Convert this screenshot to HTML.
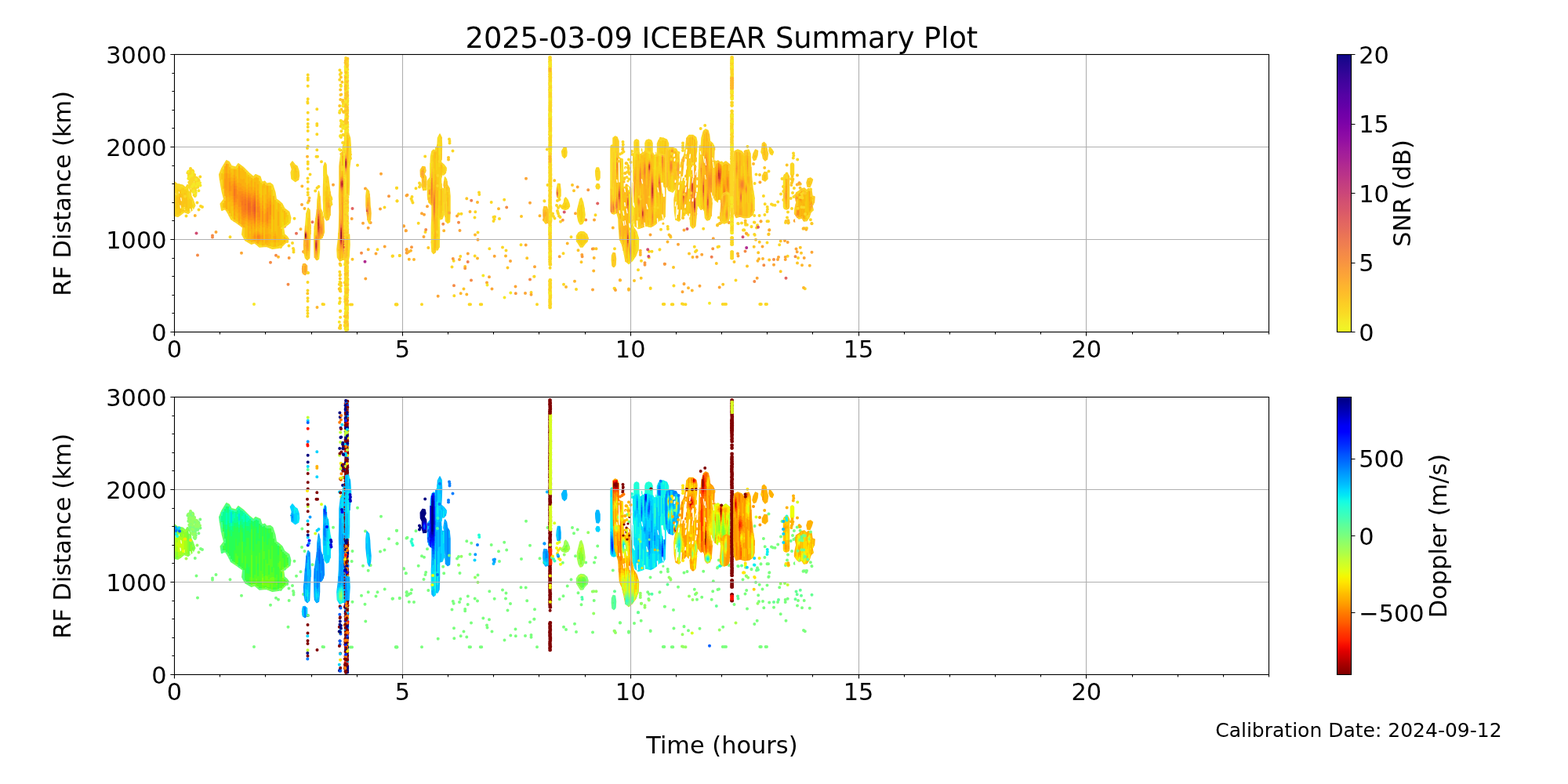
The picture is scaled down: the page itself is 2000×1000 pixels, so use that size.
<!DOCTYPE html><html><head><meta charset="utf-8"><title>2025-03-09 ICEBEAR Summary Plot</title>
<style>html,body{margin:0;padding:0;background:#fff;width:2000px;height:1000px;overflow:hidden}svg{display:block}text{font-family:'DejaVu Sans','Liberation Sans',sans-serif;fill:#000}</style></head><body>
<svg width="2000" height="1000" viewBox="0 0 2000 1000">
<defs><linearGradient id="gp" x1="0" y1="1" x2="0" y2="0"><stop offset="0.0000" stop-color="#f0f921"/><stop offset="0.0208" stop-color="#f3f027"/><stop offset="0.0417" stop-color="#f6e826"/><stop offset="0.0625" stop-color="#f9dd25"/><stop offset="0.0833" stop-color="#fbd524"/><stop offset="0.1042" stop-color="#fccd25"/><stop offset="0.1250" stop-color="#fdc328"/><stop offset="0.1458" stop-color="#febb2b"/><stop offset="0.1667" stop-color="#fdb42f"/><stop offset="0.1875" stop-color="#fdab33"/><stop offset="0.2083" stop-color="#fca338"/><stop offset="0.2292" stop-color="#fa9c3c"/><stop offset="0.2500" stop-color="#f89441"/><stop offset="0.2708" stop-color="#f68d45"/><stop offset="0.2917" stop-color="#f3874a"/><stop offset="0.3125" stop-color="#f07f4f"/><stop offset="0.3333" stop-color="#ed7953"/><stop offset="0.3542" stop-color="#e97257"/><stop offset="0.3750" stop-color="#e56b5d"/><stop offset="0.3958" stop-color="#e26561"/><stop offset="0.4167" stop-color="#de5f65"/><stop offset="0.4375" stop-color="#d9586a"/><stop offset="0.4583" stop-color="#d5536f"/><stop offset="0.4792" stop-color="#d04d73"/><stop offset="0.5000" stop-color="#cb4679"/><stop offset="0.5208" stop-color="#c6417d"/><stop offset="0.5417" stop-color="#c13b82"/><stop offset="0.5625" stop-color="#bb3488"/><stop offset="0.5833" stop-color="#b52f8c"/><stop offset="0.6042" stop-color="#b02991"/><stop offset="0.6250" stop-color="#a82296"/><stop offset="0.6458" stop-color="#a21d9a"/><stop offset="0.6667" stop-color="#9c179e"/><stop offset="0.6875" stop-color="#9410a2"/><stop offset="0.7083" stop-color="#8d0ba5"/><stop offset="0.7292" stop-color="#8606a6"/><stop offset="0.7500" stop-color="#7d03a8"/><stop offset="0.7708" stop-color="#7501a8"/><stop offset="0.7917" stop-color="#6e00a8"/><stop offset="0.8125" stop-color="#6400a7"/><stop offset="0.8333" stop-color="#5c01a6"/><stop offset="0.8542" stop-color="#5502a4"/><stop offset="0.8750" stop-color="#4b03a1"/><stop offset="0.8958" stop-color="#43039e"/><stop offset="0.9167" stop-color="#3a049a"/><stop offset="0.9375" stop-color="#2f0596"/><stop offset="0.9583" stop-color="#260591"/><stop offset="0.9792" stop-color="#1b068d"/><stop offset="1.0000" stop-color="#0d0887"/></linearGradient><linearGradient id="gj" x1="0" y1="1" x2="0" y2="0"><stop offset="0.0000" stop-color="#800000"/><stop offset="0.0208" stop-color="#960000"/><stop offset="0.0417" stop-color="#ad0000"/><stop offset="0.0625" stop-color="#c80000"/><stop offset="0.0833" stop-color="#df0000"/><stop offset="0.1042" stop-color="#f60b00"/><stop offset="0.1250" stop-color="#ff2200"/><stop offset="0.1458" stop-color="#ff3400"/><stop offset="0.1667" stop-color="#ff4700"/><stop offset="0.1875" stop-color="#ff5d00"/><stop offset="0.2083" stop-color="#ff6f00"/><stop offset="0.2292" stop-color="#ff8200"/><stop offset="0.2500" stop-color="#ff9800"/><stop offset="0.2708" stop-color="#ffab00"/><stop offset="0.2917" stop-color="#ffbd00"/><stop offset="0.3125" stop-color="#ffd300"/><stop offset="0.3333" stop-color="#ffe600"/><stop offset="0.3542" stop-color="#f4f802"/><stop offset="0.3750" stop-color="#e1ff16"/><stop offset="0.3958" stop-color="#d1ff26"/><stop offset="0.4167" stop-color="#c1ff36"/><stop offset="0.4375" stop-color="#adff49"/><stop offset="0.4583" stop-color="#9dff5a"/><stop offset="0.4792" stop-color="#8dff6a"/><stop offset="0.5000" stop-color="#7aff7d"/><stop offset="0.5208" stop-color="#6aff8d"/><stop offset="0.5417" stop-color="#5aff9d"/><stop offset="0.5625" stop-color="#46ffb1"/><stop offset="0.5833" stop-color="#36ffc1"/><stop offset="0.6042" stop-color="#26ffd1"/><stop offset="0.6250" stop-color="#13fce4"/><stop offset="0.6458" stop-color="#02e8f4"/><stop offset="0.6667" stop-color="#00d4ff"/><stop offset="0.6875" stop-color="#00bcff"/><stop offset="0.7083" stop-color="#00a8ff"/><stop offset="0.7292" stop-color="#0094ff"/><stop offset="0.7500" stop-color="#007dff"/><stop offset="0.7708" stop-color="#0068ff"/><stop offset="0.7917" stop-color="#0055ff"/><stop offset="0.8125" stop-color="#003dff"/><stop offset="0.8333" stop-color="#0028ff"/><stop offset="0.8542" stop-color="#0015ff"/><stop offset="0.8750" stop-color="#0000ff"/><stop offset="0.8958" stop-color="#0000f6"/><stop offset="0.9167" stop-color="#0000df"/><stop offset="0.9375" stop-color="#0000c4"/><stop offset="0.9583" stop-color="#0000ad"/><stop offset="0.9792" stop-color="#000096"/><stop offset="1.0000" stop-color="#000080"/></linearGradient></defs>
<rect width="2000" height="1000" fill="#fff"/>
<path d="M250.5 297.5h0" stroke="#d04d73" stroke-width="4" stroke-linecap="round" fill="none"/><path d="M275.5 296h0M308 322.8h0M385 261h0M479.5 323.5h0M490.7 314.5h0M466.3 355.5h0M486 221.7h0M518.5 249.5h0M485 266.5h0M466 240.5h0M448.7 279h0M463 284.7h0M469.7 290.7h0M472.7 284h0M425 235.7h0M515 288.5h0M517.7 294.2h0M387 321h0" stroke="#fca636" stroke-width="4" stroke-linecap="round" fill="none"/><path d="M271 300.5h0M271 302.5h0M252 325.5h0M345 334.8h0M352 325.8h0M367.5 362.7h0M461 322.8h0" stroke="#f58b47" stroke-width="4" stroke-linecap="round" fill="none"/><path d="M293.5 302.2h0M368.5 313.5h0M373 310h0M374 317h0M374.5 319h0M374.5 321.5h0M358 315h0M375.5 278.8h0M237.5 275.5h0M251.5 258.5h0M256 263h0M258 264h0M253.5 267.5h0M255.3 225.5h0M411.5 388h0M413 388.3h0M481.5 318.3h0M500.5 326.7h0M509.8 326h0M447 388.5h0M449 388.5h0M505 388.5h0M506.5 388.5h0M456 210.8h0M506 239.7h0M506.5 256.5h0M490.5 264.5h0M366 304.5h0M366.3 308h0M444 324.7h0" stroke="#fbd724" stroke-width="4" stroke-linecap="round" fill="none"/><path d="M355 327.8h0M383.5 292.2h0M388.5 266h0M248.8 275h0M404.5 392h0M469.7 318.3h0M385.3 237.5h0" stroke="#feb72d" stroke-width="4" stroke-linecap="round" fill="none"/><path d="M368.7 329h0M518.5 318.7h0M518.7 322.5h0M496 250.2h0" stroke="#f9983e" stroke-width="4" stroke-linecap="round" fill="none"/><path d="M363 288.7h0M378 297.8h0M398.5 283.3h0" stroke="#e87059" stroke-width="4" stroke-linecap="round" fill="none"/><path d="M324 388h0" stroke="#f6e826" stroke-width="4" stroke-linecap="round" fill="none"/><path d="M449.5 330.7h0" stroke="#fdc627" stroke-width="4" stroke-linecap="round" fill="none"/><path d="M465.5 333.7h0" stroke="#b12a90" stroke-width="4" stroke-linecap="round" fill="none"/><path d="M449.5 266h0" stroke="#e16462" stroke-width="4" stroke-linecap="round" fill="none"/><path d="M222.8 232.5L226 235L233 236.5L237 240L239 236L241.5 238L243 244L243.5 250L246 255L248.5 262L246 267L240 272L235 270L230 274L227 276L222.8 275Z" fill="#fbd724" stroke="#fbd724" stroke-width="2.0" stroke-linejoin="round"/><path d="M225.8 235V238M231.8 237V239M231.8 271V273M237.8 239V241M239.8 237V240M245.8 255V261M245.8 264V268M247.8 261V264" stroke="#f8df25" stroke-width="2.3" fill="none"/><path d="M225.8 238V242M231.8 239V241M231.8 270V271M237.8 241V243M239.8 240V255M245.8 261V264" stroke="#f7d817" stroke-width="2.3" fill="none"/><path d="M225.8 242V251M225.8 266V274M227.8 238V251M227.8 259V274M229.8 239V240M231.8 241V247M231.8 264V270M233.8 240V249M235.8 242V246M235.8 260V269M237.8 243V251M237.8 265V269M239.8 255V270M241.8 251V269M243.8 255V267" stroke="#f9ce16" stroke-width="2.3" fill="none"/><path d="M229.8 272V273M233.8 269V270" stroke="#fcce25" stroke-width="2.3" fill="none"/><path d="M225.8 251V266M227.8 251V259M229.8 240V248M229.8 263V272M231.8 247V264M233.8 249V269M235.8 246V260M237.8 251V265" stroke="#fbc417" stroke-width="2.3" fill="none"/><path d="M229.8 248V263" stroke="#fdba18" stroke-width="2.3" fill="none"/><path d="M247.3 238.7h0M247.4 238.2h0M243 215.1h0M245.4 227.2h0M251 227.1h0M246.4 219.9h0M248.8 250.1h0M246 230.1h0M249.7 234.5h0M250.6 227.8h0M243.1 228.1h0M242.1 228.7h0M248.1 223h0M242.6 236.9h0M245.4 227.2h0M243.3 219.2h0M244.6 243.3h0M243 234h0M248 240.1h0M243.2 230.7h0M249 240.9h0M252.3 230h0M252.8 235.9h0M248.4 243.4h0M251 232.7h0M248.3 240.2h0M241.5 218.3h0M252.3 238.7h0M242.1 222.5h0M245 223.6h0M243.9 222.2h0M247.8 229h0M246.1 240.2h0M250.8 238.9h0M249 226.2h0M244.6 233h0M242 232.2h0M243.4 216.7h0M246.1 237.6h0M244.6 219.5h0M246.4 238.7h0M247.6 248.8h0M242 222.4h0M242 220.9h0M245.4 232.9h0M248.2 238.5h0M247.5 225.6h0M239.4 220.6h0M250.9 230.4h0M245.6 217.6h0M248.9 248.2h0M249.4 236.1h0M247.1 227.1h0M253 229.1h0M245.3 225.7h0M247.4 241.3h0M244.9 228.7h0M250.7 230.9h0M246.3 218.7h0M242 234.7h0M243.8 227.1h0M246 222.4h0M244.8 238.7h0M244.8 234.3h0M240.8 224h0M246.7 225.2h0M249.3 232.2h0M241.3 232.4h0M245.3 240.7h0M249.3 243.2h0M253.6 230.2h0M252.6 234.9h0M245.6 234h0M252.4 234.9h0" stroke="#fbd724" stroke-width="4" stroke-linecap="round" fill="none"/><path d="M255 233.3h0M245 237.9h0M247.1 234.8h0M245 223.7h0M251.8 233.8h0M250.2 228.9h0M240.3 227.8h0M247.1 243.3h0M252.5 234.7h0M240.1 218.9h0M241.4 225h0M250.1 237.3h0M245.7 237h0M255.5 236.5h0M249.8 245.9h0M242.3 224.9h0M246 219.9h0M246.4 244.9h0M241 226.1h0M249.5 248.6h0M253.4 243.3h0" stroke="#f6e826" stroke-width="4" stroke-linecap="round" fill="none"/><path d="M230 262L230.4 265.1M224.3 246.5L224.5 247.9M242.6 266.6L243.1 270.1M245.8 266.2L246.1 267.9" stroke="#fff" stroke-width="1.2" stroke-linecap="round" fill="none"/><path d="M228.3 244.8L228.5 246.2M240.9 240.9L241.3 243.5" stroke="#fff" stroke-width="0.9" stroke-linecap="round" fill="none"/><path d="M230.8 252.4L231.3 255.9" stroke="#fff" stroke-width="1.1" stroke-linecap="round" fill="none"/><path d="M235.2 264.7L235.6 267.4" stroke="#fff" stroke-width="1" stroke-linecap="round" fill="none"/><path d="M224 236h0M226.5 238h0M224.5 240h0M228.5 236.5h0M224 244h0M229 240.5h0M226 247h0M236 250.5h0M234 266h0M243 252h0" stroke="#fbd724" stroke-width="4" stroke-linecap="round" fill="none"/><path d="M289 205L283 215L280 222.5L281.5 233L283.7 245L286 254L281.5 260L283 268L287.5 266L292 273.5L295 279.5L304 285.5L310 290L309 299L313 306.5L320.5 311L325 309.5L331 314.7L340 314L347.5 317L355 316L359.5 314L364 309.5L368 305L366 302L362.5 299L361 290L364 288.5L369.5 284L370.5 278L368.5 270.5L362.5 266L359.5 260L355 256L352 254L350.5 245L347.5 236L344.5 233.7L340 234.5L337.7 231.5L334 233L331.7 225.5L326 223L323.5 226L317.5 221L310 213.5L304 209L301 213.5L295 212L292 206.7Z" fill="#fbd724" stroke="#fbd724" stroke-width="2.0" stroke-linejoin="round"/><path d="M361 289V290M361 291V296" stroke="#f6e826" stroke-width="2.3" fill="none"/><path d="M361 283V289" stroke="#f1dd0f" stroke-width="2.3" fill="none"/><path d="M285 212V216M297 213V215M297 279V281M303 211V214M315 219V221M331 313V315M333 230V233M333 313V315M347 236V242M347 315V317M353 255V257M353 315V317M359 263V264M359 290V292M361 296V300M365 286V288M367 273V274M367 284V287M369 279V285" stroke="#f8df25" stroke-width="2.3" fill="none"/><path d="M285 216V222M297 215V216M297 269V279M303 214V217M315 221V224M331 311V313M333 233V252M333 311V313M347 242V258M347 276V296M347 310V315M353 257V267M353 310V315M359 264V290M361 271V283M361 300V308M365 277V286M367 274V284" stroke="#f5d10e" stroke-width="2.3" fill="none"/><path d="M283 221V229M285 222V238M285 239V241M285 259V265M291 258V269M295 215V220M295 263V276M297 216V223M297 263V269M301 276V282M303 217V228M303 278V283M307 214V218M313 291V303M315 224V236M315 288V306M317 223V226M319 225V231M319 295V298M319 305V308M323 228V238M327 291V295M331 231V247M331 309V311M333 252V259M333 288V297M333 308V311M335 235V237M337 240V266M337 290V313M339 236V248M343 237V245M343 311V314M345 237V243M345 309V314M347 258V276M347 296V310M349 309V315M351 255V295M351 314V315M353 267V300M353 305V310M355 309V314M357 260V289M357 305V313M359 292V313M361 267V271M361 308V311M363 280V287M365 271V277" stroke="#f8c50e" stroke-width="2.3" fill="none"/><path d="M281 221V230M287 209V210M287 254V256M287 265V267M291 207V209M293 209V213M293 272V276M301 214V216M307 286V288M311 215V217M311 291V298M317 307V309M321 224V227M321 309V311M323 308V311M325 225V227M327 224V226M327 310V312M329 225V227M329 311V313M335 313V315M337 232V234M339 312V315M341 313V315M349 249V250M355 257V259M363 267V269M363 300V302M363 309V311M365 303V304M365 306V309" stroke="#fcce25" stroke-width="2.3" fill="none"/><path d="M285 238V239M287 256V265M291 209V221M291 251V258M293 213V217M293 257V272M295 220V226M295 255V263M297 223V227M297 258V263M301 216V225M301 270V276M303 228V233M303 272V278M307 218V228M307 279V286M309 215V229M311 217V228M313 219V233M313 286V291M315 236V241M315 283V288M317 226V234M317 303V307M319 231V238M319 289V295M319 298V305M321 227V230M321 306V309M323 238V242M323 288V298M325 227V232M327 226V249M327 283V291M327 295V298M327 307V310M329 227V235M331 247V252M331 291V296M331 308V309M333 259V266M333 283V288M333 297V299M333 306V308M335 237V249M335 309V313M337 234V240M337 266V273M337 284V290M339 248V259M339 310V312M341 309V313M343 245V252M343 289V298M343 306V311M345 243V249M345 292V299M345 304V309M349 250V261M349 280V301M349 304V309M351 295V298M351 309V314M353 300V305M355 259V270M355 288V309M357 289V305M363 269V280M363 302V309M365 304V306" stroke="#fbba0e" stroke-width="2.3" fill="none"/><path d="M287 210V212M287 250V254M289 206V209M289 267V269M299 214V216M299 280V283M305 210V212M305 285V287M309 213V215M309 288V290M311 290V291M325 308V310M341 235V237" stroke="#fdc627" stroke-width="2.3" fill="none"/><path d="M287 212V221M287 246V250M289 252V267M291 221V227M291 246V251M293 217V222M293 252V257M295 226V231M295 250V255M297 227V231M297 254V258M299 216V223M299 275V280M301 225V230M301 265V270M303 233V237M303 267V272M305 212V233M305 282V285M307 228V234M307 273V279M309 229V237M309 286V288M311 228V238M311 286V290M313 233V239M313 282V286M315 241V245M315 279V283M317 234V239M317 288V303M319 238V243M319 286V289M321 230V239M321 292V306M323 242V245M323 285V288M323 298V301M323 304V308M325 232V239M325 292V296M327 249V256M327 278V283M327 298V301M327 304V307M329 235V243M329 289V295M329 309V311M331 252V256M331 287V291M331 296V298M331 307V308M333 266V283M333 299V301M333 304V306M335 249V256M335 290V297M335 307V309M337 273V284M339 259V267M339 287V299M339 306V310M341 237V254M341 291V299M341 305V309M343 252V257M343 285V289M343 298V306M345 249V253M345 285V292M345 299V304M349 261V280M349 301V304M351 298V301M351 306V309M355 270V288" stroke="#fcaf0f" stroke-width="2.3" fill="none"/><path d="M287 221V228M287 240V246M289 209V221M289 243V252M291 227V246M293 222V227M293 249V252M295 231V237M295 244V250M297 231V235M297 250V254M299 223V227M299 267V275M301 230V234M301 261V265M303 237V242M303 261V267M305 233V239M305 271V282M307 234V239M307 268V273M309 237V241M309 280V286M311 238V243M311 281V286M313 239V242M313 279V282M315 245V248M315 276V279M317 239V243M317 284V288M319 243V246M319 283V286M321 239V246M321 286V292M323 245V248M323 282V285M323 301V304M325 239V243M325 289V292M325 296V298M325 306V308M327 256V263M327 271V278M327 301V304M329 243V249M329 285V289M329 295V297M329 307V309M331 256V259M331 284V287M331 298V299M331 306V307M333 301V304M335 256V262M335 286V290M335 297V300M335 305V307M339 267V272M339 283V287M339 299V306M341 254V260M341 288V291M341 299V305M343 257V264M343 280V285M345 253V256M345 280V285M351 301V306" stroke="#fda511" stroke-width="2.3" fill="none"/><path d="M287 228V240M289 221V243M293 227V232M293 244V249M295 237V244M297 235V250M299 227V231M299 262V267M301 234V237M301 258V261M303 242V248M303 254V261M305 239V244M305 264V271M307 239V244M307 264V268M309 241V244M309 276V280M311 243V247M311 278V281M313 242V245M313 277V279M315 248V252M315 273V276M317 243V246M317 281V284M319 246V248M319 281V283M321 246V252M321 281V286M323 248V250M323 280V282M325 243V246M325 286V289M325 298V300M325 304V306M327 263V271M329 249V254M329 281V285M329 297V299M329 306V307M331 259V263M331 281V284M331 299V300M331 305V306M335 262V269M335 283V286M335 300V305M339 272V283M341 260V265M341 285V288M343 264V280M345 256V261M345 274V280" stroke="#fd9b13" stroke-width="2.3" fill="none"/><path d="M293 232V244M299 231V234M299 258V262M301 237V241M301 253V258M303 248V254M305 244V264M307 244V249M307 258V264M309 244V247M309 272V276M311 247V250M311 274V278M313 245V248M313 274V277M315 252V255M315 269V273M317 246V249M317 279V281M319 248V251M319 278V281M321 252V256M321 277V281M323 250V253M323 278V280M325 246V249M325 284V286M325 300V304M329 254V258M329 277V281M329 299V300M329 305V306M331 263V269M331 277V281M331 300V302M331 303V305M335 269V283M341 265V270M341 282V285M345 261V274" stroke="#fc8f16" stroke-width="2.3" fill="none"/><path d="M299 234V237M299 255V258M301 241V253M307 249V258M309 247V251M309 268V272M311 250V254M311 270V274M313 248V251M313 271V274M315 255V269M317 249V251M317 276V279M319 251V253M319 276V278M321 256V263M321 270V277M323 253V255M323 275V278M325 249V251M325 282V284M329 258V264M329 271V277M329 300V301M329 303V305M331 269V277M331 302V303M341 270V282" stroke="#fb8619" stroke-width="2.3" fill="none"/><path d="M299 237V241M299 250V255M309 251V256M309 262V268M311 254V270M313 251V254M313 268V271M317 251V253M317 274V276M319 253V256M319 274V276M321 263V270M323 255V258M323 273V275M325 251V253M325 280V282M329 264V271M329 301V303" stroke="#f97e1c" stroke-width="2.3" fill="none"/><path d="M299 241V250M309 256V262M313 254V260M313 262V268M317 253V256M317 271V274M319 256V258M319 271V274M323 258V261M323 270V273M325 253V255M325 278V280" stroke="#f6761f" stroke-width="2.3" fill="none"/><path d="M313 260V262M317 256V259M317 268V271M319 258V264M319 265V271M323 261V270M325 255V257M325 276V278" stroke="#f36e22" stroke-width="2.3" fill="none"/><path d="M317 259V268M319 264V265M325 257V260M325 273V276" stroke="#f06626" stroke-width="2.3" fill="none"/><path d="M325 260V264M325 270V273" stroke="#ec5f29" stroke-width="2.3" fill="none"/><path d="M325 264V270" stroke="#e8582d" stroke-width="2.3" fill="none"/><path d="M373 206L376 210L379 212L381 218L381.5 224L380.5 229L376.5 231.5L372 228L371.2 220L372.5 216L370.5 209.5Z" fill="#fbd724" stroke="#fbd724" stroke-width="1.5" stroke-linejoin="round"/><path d="M374.2 217V218M374.2 228V230" stroke="#f8df25" stroke-width="1.8" fill="none"/><path d="M374.2 218V228" stroke="#f7d817" stroke-width="1.8" fill="none"/><path d="M374.2 211V215M375.8 212V229M377.2 220V229M378.8 218V227" stroke="#f9ce16" stroke-width="1.8" fill="none"/><path d="M372.8 207V218M377.2 211V214M380.2 219V230" stroke="#fcce25" stroke-width="1.8" fill="none"/><path d="M377.2 214V220" stroke="#fbc417" stroke-width="1.8" fill="none"/><path d="M392.7 95.5h0M392.7 99.5h0M392.7 102h0M392.7 109.8h0M392.7 126.2h0M392.3 130h0M392.5 131.5h0M392.7 143.8h0M392.7 152.5h0M392.7 158h0M392.7 162h0M392.7 167h0M392.7 178.2h0M392.7 186.5h0M392 189h0M392.7 206.5h0M392.7 209h0M392.7 215.3h0M395.5 222.5h0M392.5 227.5h0M392.7 232h0M392.7 241h0M392.7 245.5h0M392.7 248.5h0M392.7 258.5h0M404.3 139.3h0M404.3 158h0M404.3 160h0M404.3 171.3h0M404.3 191.2h0M403.5 199.8h0M405 199.8h0M410 206.2h0M402.2 243.5h0M404.5 239.7h0M406.5 238h0M392.5 348h0M392.5 360h0M392.5 370.5h0M392.5 380.2h0M392.5 384h0M392.5 392.2h0M392.3 396h0M392.5 399.7h0M392.3 403.5h0" stroke="#fbd724" stroke-width="4" stroke-linecap="round" fill="none"/><path d="M392 199.7h0" stroke="#feb72d" stroke-width="4" stroke-linecap="round" fill="none"/><path d="M394.5 252.5h0M392.3 374.2h0" stroke="#fdc627" stroke-width="4" stroke-linecap="round" fill="none"/><path d="M394 256h0" stroke="#fca636" stroke-width="4" stroke-linecap="round" fill="none"/><path d="M393 265.5L395 268L395.5 280L396 292L395.5 305L395 318L394.5 329L392 331.5L389.5 329L388 322L387.5 312L388.5 303L389 295L390 285L391 272Z" fill="#fbd724" stroke="#fbd724" stroke-width="1.5" stroke-linejoin="round"/><path d="M391.2 278V287" stroke="#f6e826" stroke-width="1.8" fill="none"/><path d="M391.2 272V278M391.2 287V293M392.8 267V277" stroke="#f8df25" stroke-width="1.8" fill="none"/><path d="M392.8 278V289" stroke="#f9ce16" stroke-width="1.8" fill="none"/><path d="M389.8 320V324M391.2 294V295M391.2 327V331M392.8 325V329M394.2 270V278M394.2 290V307M394.2 321V330M395.8 286V292M395.8 293V299" stroke="#fcce25" stroke-width="1.8" fill="none"/><path d="M391.2 326V327M392.8 289V297" stroke="#fbc417" stroke-width="1.8" fill="none"/><path d="M388.2 322V324M389.8 288V290M389.8 316V320M392.8 322V325M394.2 278V290M394.2 307V321" stroke="#fdc627" stroke-width="1.8" fill="none"/><path d="M391.2 295V296M391.2 323V326M392.8 297V301" stroke="#fdba18" stroke-width="1.8" fill="none"/><path d="M388.2 316V322M389.8 290V292M389.8 311V312M389.8 314V316M392.8 320V322" stroke="#febe2a" stroke-width="1.8" fill="none"/><path d="M389.8 312V314M391.2 296V297M391.2 320V323M392.8 301V304" stroke="#fdb11b" stroke-width="1.8" fill="none"/><path d="M388.2 306V316M389.8 292V293M389.8 309V311" stroke="#feb72d" stroke-width="1.8" fill="none"/><path d="M391.2 317V320M392.8 304V306M392.8 318V320" stroke="#fda81d" stroke-width="1.8" fill="none"/><path d="M389.8 293V294M389.8 308V309" stroke="#fdae32" stroke-width="1.8" fill="none"/><path d="M391.2 297V298M391.2 306V317M392.8 306V309M392.8 315V318" stroke="#fc9e21" stroke-width="1.8" fill="none"/><path d="M389.8 307V308" stroke="#fca636" stroke-width="1.8" fill="none"/><path d="M391.2 298V299M391.2 304V306M392.8 309V315" stroke="#fb9525" stroke-width="1.8" fill="none"/><path d="M389.8 294V295" stroke="#fb9f3a" stroke-width="1.8" fill="none"/><path d="M391.2 303V304" stroke="#fa8d28" stroke-width="1.8" fill="none"/><path d="M389.8 306V307" stroke="#f9983e" stroke-width="1.8" fill="none"/><path d="M391.2 299V303" stroke="#f8862c" stroke-width="1.8" fill="none"/><path d="M389.8 295V296" stroke="#f58b47" stroke-width="1.8" fill="none"/><path d="M389.8 305V306" stroke="#f2844b" stroke-width="1.8" fill="none"/><path d="M389.8 296V297M389.8 304V305" stroke="#e35b45" stroke-width="1.8" fill="none"/><path d="M389.8 297V298" stroke="#ce3941" stroke-width="1.8" fill="none"/><path d="M389.8 303V304" stroke="#c02837" stroke-width="1.8" fill="none"/><path d="M389.8 298V299M389.8 302V303" stroke="#a11339" stroke-width="1.8" fill="none"/><path d="M389.8 299V300M389.8 301V302" stroke="#880938" stroke-width="1.8" fill="none"/><path d="M389.8 300V301" stroke="#80083d" stroke-width="1.8" fill="none"/><path d="M386.5 337L389 336.5L391.5 339L391.5 346L389.5 350.5L386.5 349L385.5 343Z" fill="#feb72d" stroke="#feb72d" stroke-width="1.5" stroke-linejoin="round"/><path d="M387.8 337V339" stroke="#fcce25" stroke-width="1.8" fill="none"/><path d="M387.8 339V343M387.8 344V350" stroke="#fdc627" stroke-width="1.8" fill="none"/><path d="M387.8 343V344" stroke="#fdba18" stroke-width="1.8" fill="none"/><path d="M389.2 337V339M389.2 347V351" stroke="#fdae32" stroke-width="1.8" fill="none"/><path d="M389.2 339V347" stroke="#fc9e21" stroke-width="1.8" fill="none"/><path d="M386.2 339V346" stroke="#fca636" stroke-width="1.8" fill="none"/><path d="M386.2 346V348" stroke="#fb9f3a" stroke-width="1.8" fill="none"/><path d="M393 348h0" stroke="#fbd724" stroke-width="4" stroke-linecap="round" fill="none"/><path d="M406.5 244L408 252L409 266L411.5 272L413 282L413.5 296L411 303L407.5 306L407.5 318L406.5 330L404 331.5L401.5 328L401 315L400.8 300L401.5 288L403 278L404.5 268L405 255Z" fill="#fbd724" stroke="#fbd724" stroke-width="1.5" stroke-linejoin="round"/><path d="M406.1 323V331" stroke="#f6e826" stroke-width="1.8" fill="none"/><path d="M406.1 248V253M406.1 319V323" stroke="#f8df25" stroke-width="1.8" fill="none"/><path d="M401.6 288V293M401.6 304V309M403.1 278V283M403.1 295V297M406.1 256V259M406.1 313V316M407.6 257V259M409.1 303V305M410.6 277V281" stroke="#fcce25" stroke-width="1.8" fill="none"/><path d="M401.6 309V320M403.1 297V299M403.1 330V331M404.6 328V332M406.1 259V262M406.1 310V313M407.6 250V257M407.6 259V266M409.1 267V272" stroke="#fdc627" stroke-width="1.8" fill="none"/><path d="M404.6 326V328M409.1 272V281M409.1 301V303M410.6 281V283" stroke="#fdba18" stroke-width="1.8" fill="none"/><path d="M401.6 320V329M403.1 299V300M403.1 328V330M406.1 262V264M406.1 308V310M407.6 266V268M410.6 301V304M412.1 297V301" stroke="#febe2a" stroke-width="1.8" fill="none"/><path d="M404.6 286V300M404.6 324V326M407.6 268V269M409.1 281V284M409.1 299V301M410.6 283V285" stroke="#fdb11b" stroke-width="1.8" fill="none"/><path d="M403.1 326V328M404.6 267V283M406.1 264V266M406.1 306V308M407.6 304V306M410.6 300V301M412.1 276V297" stroke="#feb72d" stroke-width="1.8" fill="none"/><path d="M403.1 300V301M404.6 283V286M404.6 300V302M404.6 322V324M407.6 269V272M409.1 284V286M409.1 298V299M410.6 285V286" stroke="#fda81d" stroke-width="1.8" fill="none"/><path d="M403.1 325V326M406.1 266V267M410.6 299V300" stroke="#fdae32" stroke-width="1.8" fill="none"/><path d="M403.1 301V302M404.6 302V304M404.6 321V322M406.1 304V306M407.6 272V274M407.6 302V304M409.1 286V288M409.1 296V298M410.6 286V287M410.6 298V299" stroke="#fc9e21" stroke-width="1.8" fill="none"/><path d="M403.1 324V325M406.1 267V269" stroke="#fca636" stroke-width="1.8" fill="none"/><path d="M404.6 304V305M404.6 319V321M406.1 303V304M407.6 274V275M407.6 301V302M409.1 288V290M409.1 294V296M410.6 287V289M410.6 297V298" stroke="#fb9525" stroke-width="1.8" fill="none"/><path d="M403.1 323V324M406.1 269V270" stroke="#fb9f3a" stroke-width="1.8" fill="none"/><path d="M403.1 302V303M404.6 305V307M404.6 318V319M406.1 301V303M407.6 275V277M407.6 299V301M409.1 290V294M410.6 289V291M410.6 294V297" stroke="#fa8d28" stroke-width="1.8" fill="none"/><path d="M406.1 270V271" stroke="#f9983e" stroke-width="1.8" fill="none"/><path d="M403.1 303V304M404.6 307V308M404.6 316V318M406.1 300V301M407.6 277V279M407.6 298V299M410.6 291V294" stroke="#f8862c" stroke-width="1.8" fill="none"/><path d="M403.1 322V323M406.1 271V272" stroke="#f79143" stroke-width="1.8" fill="none"/><path d="M404.6 308V310M404.6 314V316M406.1 299V300M407.6 279V281M407.6 297V298" stroke="#f57e30" stroke-width="1.8" fill="none"/><path d="M403.1 304V305M403.1 321V322M406.1 272V273" stroke="#f58b47" stroke-width="1.8" fill="none"/><path d="M404.6 310V314M406.1 273V274M406.1 298V299M407.6 281V283M407.6 295V297" stroke="#f27734" stroke-width="1.8" fill="none"/><path d="M403.1 305V306M403.1 320V321" stroke="#f2844b" stroke-width="1.8" fill="none"/><path d="M406.1 274V275M406.1 297V298M407.6 283V286M407.6 293V295" stroke="#ef7038" stroke-width="1.8" fill="none"/><path d="M406.1 275V276M406.1 296V297M407.6 286V289M407.6 291V293" stroke="#eb693c" stroke-width="1.8" fill="none"/><path d="M406.1 295V296M407.6 289V291" stroke="#e8582d" stroke-width="1.8" fill="none"/><path d="M403.1 306V307M403.1 319V320" stroke="#e76140" stroke-width="1.8" fill="none"/><path d="M406.1 276V277M406.1 294V295" stroke="#e25031" stroke-width="1.8" fill="none"/><path d="M403.1 318V319" stroke="#e35b45" stroke-width="1.8" fill="none"/><path d="M406.1 277V279M406.1 293V294" stroke="#dd4a35" stroke-width="1.8" fill="none"/><path d="M403.1 307V308" stroke="#de5549" stroke-width="1.8" fill="none"/><path d="M406.1 279V280M406.1 292V293" stroke="#d2372c" stroke-width="1.8" fill="none"/><path d="M403.1 308V309M403.1 317V318" stroke="#d33f3c" stroke-width="1.8" fill="none"/><path d="M406.1 280V282M406.1 290V292" stroke="#cc3230" stroke-width="1.8" fill="none"/><path d="M403.1 309V310M403.1 316V317" stroke="#ce3941" stroke-width="1.8" fill="none"/><path d="M406.1 282V284M406.1 288V290" stroke="#c62d33" stroke-width="1.8" fill="none"/><path d="M406.1 284V288" stroke="#bf2329" stroke-width="1.8" fill="none"/><path d="M403.1 310V311M403.1 315V316" stroke="#c02837" stroke-width="1.8" fill="none"/><path d="M403.1 311V315" stroke="#b9243b" stroke-width="1.8" fill="none"/><path d="M414.5 207.5L416 210L416.5 222L418.5 226L420 238L421 246L422.5 252L422.5 260L421 266L421 274L419 280L416.5 281L414 277L413 268L412.5 255L412.5 240L413 225L413 212Z" fill="#fbd724" stroke="#fbd724" stroke-width="1.5" stroke-linejoin="round"/><path d="M414.8 232V239" stroke="#f6e826" stroke-width="1.8" fill="none"/><path d="M414.8 239V244" stroke="#f4e218" stroke-width="1.8" fill="none"/><path d="M413.2 212V225M413.2 260V271M414.8 217V232" stroke="#f8df25" stroke-width="1.8" fill="none"/><path d="M414.8 244V256M416.2 226V231" stroke="#f7d817" stroke-width="1.8" fill="none"/><path d="M414.8 256V257M416.2 231V244M416.2 273V278M417.8 242V250M419.2 248V252" stroke="#f9ce16" stroke-width="1.8" fill="none"/><path d="M413.2 234V250M417.8 225V238M417.8 278V281M419.2 276V280" stroke="#fcce25" stroke-width="1.8" fill="none"/><path d="M416.2 244V252M416.2 269V273M417.8 238V242M417.8 250V255M417.8 271V278M419.2 252V255" stroke="#fbc417" stroke-width="1.8" fill="none"/><path d="M419.2 271V276M420.8 244V248M420.8 271V275M422.2 251V262" stroke="#fdc627" stroke-width="1.8" fill="none"/><path d="M416.2 252V258M416.2 264V269M417.8 255V258M417.8 267V271M419.2 255V257" stroke="#fdba18" stroke-width="1.8" fill="none"/><path d="M419.2 268V271M420.8 248V253M420.8 269V271" stroke="#febe2a" stroke-width="1.8" fill="none"/><path d="M416.2 258V264M417.8 258V267M419.2 257V259" stroke="#fdb11b" stroke-width="1.8" fill="none"/><path d="M419.2 265V268M420.8 253V257M420.8 266V269" stroke="#feb72d" stroke-width="1.8" fill="none"/><path d="M419.2 259V262M419.2 264V265" stroke="#fda81d" stroke-width="1.8" fill="none"/><path d="M420.8 257V266" stroke="#fdae32" stroke-width="1.8" fill="none"/><path d="M419.2 262V264" stroke="#fc9e21" stroke-width="1.8" fill="none"/><path d="M422 252h0M422.5 254h0M422 258h0M422.5 260.5h0M417 235h0" stroke="#fbd724" stroke-width="4" stroke-linecap="round" fill="none"/><path d="M442.9 277.3h0M440.7 162h0M442.8 208.3h0M443.4 345.8h0M443.1 308.3h0M441 335.2h0M440.9 386.8h0M441.4 146.1h0M443 339.4h0M441.2 332.3h0M441.2 247.2h0M441 378h0M440.7 204.9h0M442.7 396.5h0M443.4 162.1h0M442.8 131.2h0M443.3 351h0M442.9 213h0M442.9 338.9h0M440.9 326.2h0M441 221.6h0M440.8 382.5h0M441.4 163.5h0M443.3 75.5h0M440.8 103.3h0M440.7 174.6h0M442.9 399.6h0M443.4 334h0M441.5 235.4h0M441.4 233.3h0M441.1 168.5h0M443.3 296.2h0M443.1 126.9h0M441.3 131.4h0M443.2 78h0M440.5 212h0M440.7 367.4h0M442.7 317.4h0M440.9 354.1h0M441.4 223.4h0M443.1 164.4h0M440.7 86h0M443 352.2h0M443.2 130h0M443.4 292.4h0M441.1 275.9h0M443.1 266.8h0M440.9 291.1h0M443.3 227.7h0M441.2 249.5h0M440.6 210.7h0M443.4 257.7h0M440.8 176.8h0M443 182.6h0M443.2 324.6h0M441.2 374.9h0M442.7 93.5h0M442.5 84h0M442.7 124.1h0M442.6 171.9h0M442.9 331h0M443.3 214.3h0M442.6 320h0M440.8 391.6h0M440.5 416.7h0M443.1 373.6h0M442.7 403.2h0M442.9 236h0M442.9 203.1h0M443.4 319.6h0M442.9 116.4h0M441 137h0M443.1 294.5h0M441.1 337.1h0M440.5 314.1h0M443.2 389.6h0M443 288h0M440.8 101.8h0M440.7 272.9h0M441.3 152.2h0M441.4 308.8h0M443.3 184.9h0M443.1 224.7h0M440.5 419.3h0M441.4 145h0M442.6 160.3h0M443.5 355.9h0M440.5 105.5h0M440.5 215.5h0M443 163h0M440.8 164.7h0M440.8 412.2h0M443.1 306.6h0M443.2 376.2h0M442.6 113h0M442.8 99.7h0M440.7 89.8h0M441.2 116.5h0M442.6 273.9h0M440.9 154.9h0M443.2 239.9h0M443 280h0M442.8 252.8h0M441.5 76.4h0M443.3 88.5h0M443.2 225.8h0M443.2 404.4h0M442.6 409.5h0M441.1 319.1h0M441.3 296h0M443.1 98.4h0M443 363.4h0M443.2 177.8h0M441.4 324h0M443.1 254.5h0M442.6 78.6h0M443 312h0M441.3 151.5h0M443.1 156.8h0M443.3 103h0M443.2 167h0M443.5 284.9h0M440.9 245.6h0M442.8 106.2h0M443.2 108.9h0M443.2 181.6h0M442.5 419.6h0M440.6 364h0M440.5 171.1h0M443.1 194h0M440.6 413.5h0M440.9 252.5h0M443.2 395.1h0M443.2 293h0M440.7 345.4h0M441.1 73.9h0M441.1 177.7h0M440.8 236.9h0M442.6 342h0M440.7 316h0M441 99.4h0M440.7 310h0M441.2 105h0M442.6 229.3h0M442.8 360.5h0M440.9 401.2h0M440.6 261.9h0M440.7 217.6h0M440.7 343.5h0M440.7 158h0M441.2 166h0M443.1 80.6h0M441.3 265.4h0M443 342.4h0M442.5 250.3h0M441.3 185.9h0M440.7 295.2h0M441.4 378.7h0M441 269.9h0M441.4 126.6h0M443.3 141.7h0M443.3 372h0M440.8 311h0M442.7 204.6h0M442.7 353h0M443.4 184.2h0M440.6 394h0M443.1 143.9h0M441.4 201.1h0M443.2 245.7h0M443.2 262.5h0M440.9 139h0M442.8 89h0M440.8 317.1h0M443 149.1h0M443.5 369.9h0M442.6 301.4h0M443.4 206.6h0M442.8 208.9h0M442.9 299.8h0M443.4 243.4h0M443.3 328.2h0M442.9 110.7h0M442.5 154.4h0M443 344.8h0M441.2 392.4h0M442.8 309.5h0M443.5 329.6h0M441.3 132.4h0M441.4 279.7h0M443.4 251.6h0M441 300.7h0M441 293h0M442.5 248.7h0M441.3 395.1h0M442.6 199h0M442.9 322h0M441.5 327.9h0M441 115.2h0M443.2 192.7h0M441.5 202.3h0M441.2 383.1h0M441.3 369.6h0M443.3 128.5h0M440.8 283.4h0M440.6 266.4h0M443.4 82.5h0M443 315.6h0M440.8 242.7h0M440.5 254.7h0M442.7 373.9h0M443.1 388.6h0M443.4 243h0M443.1 289.3h0" stroke="#fbd724" stroke-width="4" stroke-linecap="round" fill="none"/><path d="M443.4 148.5h0M440.8 87.6h0M441.3 227.3h0M443.3 133.5h0M440.9 287.9h0M442.7 101.1h0M441.1 78.8h0M443 260h0M442.9 139.6h0M441.2 150.1h0M441 203.6h0M440.9 226.1h0M440.8 368.3h0M443.1 92.5h0M441.2 140h0M443.1 200.4h0M441 188.4h0M442.6 286.4h0M441.2 148.2h0M441.3 409.2h0M440.6 96.5h0M443.5 176.9h0M440.6 415.5h0M442.6 134.7h0M441.4 219.8h0M441.4 93.8h0M440.6 230.5h0M443.5 112.4h0M441.2 421h0M440.8 241.5h0M443.3 96.1h0M442.6 151.9h0M441.3 405.7h0M442.6 416.6h0M440.8 107.4h0M441.4 285.6h0M442.7 173.1h0M442.6 408h0M440.5 182.3h0M440.8 320h0M441.1 208h0M442.9 234h0M441.4 192.8h0M443.2 188.3h0M443.1 269.3h0M443.1 268.2h0M440.8 160.2h0M442.6 97h0M442.9 262.9h0M440.8 187h0M442.6 86.6h0M443.3 314.8h0M443 377.1h0M443.3 283.4h0M442.7 107.2h0M443.3 303.1h0M440.9 197.5h0M441 380.4h0M440.6 298.6h0M443 347.2h0M441.5 347.5h0M440.5 408.1h0M440.9 268.5h0M441.2 375.5h0M440.9 91.3h0M441.1 281.3h0M443.2 359.2h0M441.4 397.2h0M442.6 168.9h0M443.1 406.5h0M441.1 385.2h0M441.1 206.3h0M440.8 260.3h0M442.5 337h0M441.3 224h0M440.9 357.5h0M442.6 196.5h0M441.1 167.8h0M443.4 125.8h0M442.9 281.6h0M442.8 365h0M441 209.1h0M441.4 365.9h0M440.9 173.7h0M443.2 368.1h0M442.7 91h0M440.5 400.1h0M441.3 291.7h0M443.4 304.5h0M443 418.1h0M440.9 117.8h0M443.1 187.6h0M442.7 382.4h0M443.3 358.1h0M443.2 290.1h0M441.4 191.5h0M440.6 244.2h0M443.1 384.4h0M441.1 129.1h0M440.7 273.7h0M440.9 390h0M443.4 235.6h0M440.7 334h0M443.2 392.7h0M443.5 215.7h0M443 223.5h0M443.3 166.1h0M443.4 159h0M440.6 277.4h0M443.1 220.1h0M443.1 238.4h0M441.1 299.2h0M440.8 355.2h0M441.5 95.2h0M442.9 391.6h0M441.3 238h0M441.3 373.3h0M441.5 278.9h0M440.6 196.1h0M442.7 313.1h0M443.2 327h0M443.4 170.1h0M440.9 350.7h0M442.9 114.7h0M441 83.2h0M440.7 129.7h0M440.9 195.1h0M440.5 124.3h0M442.8 270.4h0M443.2 393.8h0M441.2 122h0M440.7 258.4h0M442.8 119.1h0M440.5 256.2h0M440.6 85h0M440.8 258.1h0M441.2 410.8h0M443.3 191.6h0M441.1 143.8h0M442.8 179.7h0M440.6 184.4h0M442.6 380.1h0M441.4 305.8h0M440.8 387.6h0M440.8 271.1h0M441 232.5h0M443 366.6h0M440.5 284.9h0M442.8 272.6h0" stroke="#f6e826" stroke-width="4" stroke-linecap="round" fill="none"/><path d="M440.7 113.6h0M442.9 222h0M440.8 77.3h0M443.3 218.2h0M443.1 122.4h0M441.3 372h0M441.4 263.4h0M443 256.5h0M443.1 140.1h0M440.8 98.7h0M441.4 219.1h0M440.8 313.2h0M443.4 363h0M440.8 341.6h0M442.6 145.4h0M442.7 190.1h0M440.9 189.5h0M442.7 398.7h0M441 239h0M441.1 180.9h0M442.7 297.5h0M440.6 110.6h0M442.9 402.1h0M441 119.4h0M443.3 74.7h0M442.6 146.7h0M442.9 201.6h0M440.9 125.8h0M442.7 305.9h0M441 403.1h0M442.9 84.9h0M443 247.2h0M441.4 361.2h0M443.1 231.4h0M441.2 92.6h0M441.1 248.4h0M440.6 288.6h0M442.8 410.9h0M442.8 355.5h0M442.8 210.8h0M440.6 349.2h0M442.9 278.4h0M441.3 157.3h0M440.7 199.3h0M443 258.9h0M442.7 379.4h0M440.9 359.9h0M441 214h0M442.7 216.8h0M440.7 331.5h0M441 133.9h0M441.3 306.5h0M441 251.5h0M442.9 276h0M443 348.5h0M440.9 398.8h0M441.4 356.8h0M441.4 340.6h0M442.9 117.9h0M441.1 121.4h0M442.6 136.2h0M443.4 174.5h0M443.3 265.6h0M442.9 156.1h0M443.3 121.5h0M441.5 81.6h0M442.7 323h0M441.4 302.4h0M441.2 345h0M441.3 362.7h0M442.9 383.4h0M442.9 230.9h0M440.6 179.6h0M440.8 153.5h0M443.2 420.5h0M442.8 151.3h0M440.5 80h0M440.8 135.4h0M440.9 325.1h0M440.6 337.9h0M441.4 172h0M441 112.2h0M441 109.2h0M441.3 329h0M442.7 104.5h0M443 137.1h0M443.2 413.8h0M441.1 404h0M443.5 335.5h0M442.6 240.6h0M443.2 415.6h0M440.6 304.2h0M441.1 418.5h0M441.1 352h0M443.4 197.3h0M440.5 228.5h0M443 332.3h0M443 412.5h0M440.7 141.6h0M442.6 386.9h0M440.7 321.9h0" stroke="#fdc627" stroke-width="4" stroke-linecap="round" fill="none"/><path d="M440.2 384.9h0M439.7 415.2h0M441.1 359.2h0M441.1 399.9h0M441.7 331.6h0M440 414.4h0M440 337.4h0M443.1 418.5h0M442.6 332.4h0M441.1 353.7h0M441.2 389.4h0M440.8 372.8h0M441.3 331.9h0M440.1 410.9h0M440.5 359.4h0M441.7 419.4h0M440.2 336.2h0M441.1 397.7h0" stroke="#f6e826" stroke-width="4" stroke-linecap="round" fill="none"/><path d="M441 368.9h0M440.3 378h0M443.2 398.9h0M440.9 371.5h0M442.6 405h0M440 330.1h0M442.2 383h0M442.6 341.7h0M440.7 354.5h0M441 385.4h0M443 341h0M442.1 332.7h0M440.4 410h0M439.7 360.5h0M441.9 330.3h0M442.9 361.8h0M440.4 415.5h0M441.7 381.7h0M442.5 351.5h0M442.7 332.1h0M442.3 411.4h0M443.3 369.8h0M442.4 357.8h0M442.8 368h0M442.4 379.7h0M440.7 345.8h0M440.9 337.1h0M441.7 335.9h0M440.3 381.7h0M440.3 379.9h0" stroke="#fbd724" stroke-width="4" stroke-linecap="round" fill="none"/><path d="M441.2 349.7h0M442.7 334h0M440.4 411.3h0M441.9 373.4h0M442 381.4h0M440.9 404h0M442.1 388.6h0M439.8 403.5h0M440.9 382.9h0M441.3 363.3h0M441.9 410.3h0M443 369.4h0" stroke="#fdc627" stroke-width="4" stroke-linecap="round" fill="none"/><path d="M434.4 120.9h0M434.9 98.4h0M435.3 196.5h0M433.2 135h0M435.2 120.6h0M434.2 114.6h0M435.4 139.5h0M434.5 108.7h0M434.2 127h0M434.7 154.1h0M434.3 191.4h0" stroke="#fdc627" stroke-width="4" stroke-linecap="round" fill="none"/><path d="M433.7 94.9h0M435 175.1h0M434.1 173.8h0M433.1 143.7h0M435.1 93.1h0M434.5 161.1h0M433.2 101.8h0M433.4 89.5h0M435.4 167.2h0M435.4 157.8h0" stroke="#fbd724" stroke-width="4" stroke-linecap="round" fill="none"/><path d="M435 110h0M433.5 141.6h0M434.3 172.9h0M433.1 190.6h0M435 154.3h0" stroke="#f6e826" stroke-width="4" stroke-linecap="round" fill="none"/><path d="M437.8 135.5h0M437.4 172.1h0M437.1 129.7h0M437.8 142.3h0M437 197.9h0M438 194.1h0M438.2 143h0M437.8 155.6h0M437.4 163.2h0M437.3 127.7h0M436.3 104.8h0" stroke="#fdc627" stroke-width="4" stroke-linecap="round" fill="none"/><path d="M437.9 132.3h0M436.8 156h0M437.9 159.5h0M437.9 172.1h0M436.4 195.8h0M437.1 181.9h0" stroke="#fbd724" stroke-width="4" stroke-linecap="round" fill="none"/><path d="M437.7 194.2h0M436.6 156.7h0M437.5 163.7h0M437.2 134.9h0M438 162.4h0" stroke="#f6e826" stroke-width="4" stroke-linecap="round" fill="none"/><path d="M433.6 417h0M432.8 410.8h0M432.9 387h0M433.7 367.8h0M433.5 359.6h0M434.1 396.5h0" stroke="#f6e826" stroke-width="4" stroke-linecap="round" fill="none"/><path d="M432.7 368.5h0M433.7 370.7h0M434.1 337.6h0M434.8 361.1h0M434.2 414.9h0M433.6 351.2h0M433 418.5h0M433.8 355.5h0M433.6 336.4h0M434 369.2h0" stroke="#fdc627" stroke-width="4" stroke-linecap="round" fill="none"/><path d="M433.3 346.7h0M432.8 362.7h0M433.6 385.1h0M433.9 350.3h0M433.6 380.7h0M433.5 380.4h0M434.1 404.8h0M434.4 371.6h0M434.2 418.7h0M434.5 338.6h0M434.9 364.4h0M433.9 396.9h0" stroke="#fbd724" stroke-width="4" stroke-linecap="round" fill="none"/><path d="M434.5 199L436.5 196L437.5 186L440 180L440.5 200L440.5 240L440.5 280L440.5 315L440 331L437 331L433.5 333L430.5 328L430 318L431.5 305L432.5 290L433 270L432.5 250L433 230L433 212Z" fill="#fbd724" stroke="#fbd724" stroke-width="1.5" stroke-linejoin="round"/><path d="M438.2 203V222" stroke="#f0ed18" stroke-width="1.8" fill="none"/><path d="M435.2 198V210M438.2 195V198M438.2 331V332M439.8 192V214M439.8 249V262" stroke="#f6e826" stroke-width="1.8" fill="none"/><path d="M438.2 198V203M438.2 222V227M438.2 272V279" stroke="#f4e218" stroke-width="1.8" fill="none"/><path d="M430.8 328V329M435.2 210V212M435.2 330V333M438.2 185V195M438.2 329V331M439.8 185V192M439.8 214V221M439.8 240V249M439.8 262V270" stroke="#f8df25" stroke-width="1.8" fill="none"/><path d="M435.2 212V218M435.2 329V330M438.2 227V232M438.2 260V272M438.2 279V289" stroke="#f7d817" stroke-width="1.8" fill="none"/><path d="M435.2 218V222M435.2 325V329M438.2 232V260M438.2 289V293" stroke="#f9ce16" stroke-width="1.8" fill="none"/><path d="M430.8 312V321M432.2 297V309M432.2 323V331M438.2 326V327M439.8 280V284M439.8 292V296M439.8 330V332" stroke="#fcce25" stroke-width="1.8" fill="none"/><path d="M435.2 222V224M435.2 261V275M435.2 323V325M438.2 293V295" stroke="#fbc417" stroke-width="1.8" fill="none"/><path d="M432.2 309V318M432.2 320V323M433.8 241V253M436.8 329V332M438.2 325V326M439.8 296V298M439.8 328V330" stroke="#fdc627" stroke-width="1.8" fill="none"/><path d="M432.2 318V320M435.2 224V225M435.2 247V261M435.2 275V279M435.2 321V323M436.8 216V220M436.8 319V329M438.2 295V297" stroke="#fdba18" stroke-width="1.8" fill="none"/><path d="M433.8 206V218M433.8 224V241M433.8 253V260M433.8 330V333M438.2 324V325M439.8 298V300M439.8 326V328" stroke="#febe2a" stroke-width="1.8" fill="none"/><path d="M433.8 317V330M435.2 225V226M435.2 245V247M435.2 279V281M435.2 320V321M436.8 201V216M436.8 220V224M436.8 314V319M438.2 297V298" stroke="#fdb11b" stroke-width="1.8" fill="none"/><path d="M433.8 218V224M433.8 260V268M436.8 194V199M438.2 323V324M439.8 300V301M439.8 325V326" stroke="#feb72d" stroke-width="1.8" fill="none"/><path d="M433.8 314V317M435.2 244V245M435.2 281V282M435.2 318V320M436.8 199V201M436.8 224V225M436.8 247V251M436.8 309V314M438.2 298V300" stroke="#fda81d" stroke-width="1.8" fill="none"/><path d="M433.8 268V279M438.2 322V323M439.8 301V302M439.8 324V325" stroke="#fdae32" stroke-width="1.8" fill="none"/><path d="M433.8 311V314M435.2 226V227M435.2 243V244M435.2 282V284M435.2 317V318M436.8 225V226M436.8 244V247M436.8 251V258M436.8 304V309M438.2 300V301" stroke="#fc9e21" stroke-width="1.8" fill="none"/><path d="M433.8 279V286M438.2 321V322M439.8 302V303M439.8 322V324" stroke="#fca636" stroke-width="1.8" fill="none"/><path d="M433.8 309V311M435.2 227V228M435.2 242V243M435.2 284V285M435.2 316V317M436.8 226V227M436.8 243V244M436.8 258V304M438.2 301V302" stroke="#fb9525" stroke-width="1.8" fill="none"/><path d="M433.8 286V289M439.8 303V304M439.8 321V322" stroke="#fb9f3a" stroke-width="1.8" fill="none"/><path d="M433.8 307V309M435.2 241V242M435.2 285V286M435.2 315V316M436.8 242V243M438.2 302V303" stroke="#fa8d28" stroke-width="1.8" fill="none"/><path d="M433.8 289V293M433.8 304V305M438.2 320V321M439.8 304V305M439.8 320V321" stroke="#f9983e" stroke-width="1.8" fill="none"/><path d="M433.8 305V307M435.2 228V229M435.2 286V287M436.8 227V228M438.2 303V304" stroke="#f8862c" stroke-width="1.8" fill="none"/><path d="M433.8 293V304M438.2 319V320M439.8 305V306M439.8 319V320" stroke="#f79143" stroke-width="1.8" fill="none"/><path d="M435.2 240V241M435.2 314V315M436.8 228V229M436.8 241V242M438.2 304V305" stroke="#f57e30" stroke-width="1.8" fill="none"/><path d="M438.2 318V319M439.8 306V307M439.8 318V319" stroke="#f58b47" stroke-width="1.8" fill="none"/><path d="M435.2 229V230M435.2 287V288M435.2 313V314M436.8 240V241M438.2 305V306" stroke="#f27734" stroke-width="1.8" fill="none"/><path d="M438.2 317V318M439.8 307V309M439.8 317V318" stroke="#f2844b" stroke-width="1.8" fill="none"/><path d="M435.2 239V240M435.2 288V289M435.2 312V313M436.8 229V230M438.2 306V307" stroke="#ef7038" stroke-width="1.8" fill="none"/><path d="M439.8 309V310M439.8 316V317" stroke="#ef7e50" stroke-width="1.8" fill="none"/><path d="M435.2 230V231M435.2 289V290M436.8 239V240M438.2 307V308M438.2 316V317M439.8 315V316" stroke="#eb693c" stroke-width="1.8" fill="none"/><path d="M435.2 311V312" stroke="#e8582d" stroke-width="1.8" fill="none"/><path d="M439.8 310V315" stroke="#e76140" stroke-width="1.8" fill="none"/><path d="M435.2 238V239M435.2 290V291M436.8 230V231M438.2 308V310M438.2 314V316" stroke="#e25031" stroke-width="1.8" fill="none"/><path d="M435.2 231V232M435.2 237V238M435.2 310V311M436.8 238V239M438.2 310V314" stroke="#dd4a35" stroke-width="1.8" fill="none"/><path d="M435.2 232V233M435.2 291V292M435.2 309V310M436.8 231V232M436.8 237V238" stroke="#d2372c" stroke-width="1.8" fill="none"/><path d="M435.2 233V234M435.2 235V237M435.2 292V293M435.2 308V309M436.8 232V233" stroke="#cc3230" stroke-width="1.8" fill="none"/><path d="M435.2 234V235M436.8 233V234M436.8 236V237" stroke="#c62d33" stroke-width="1.8" fill="none"/><path d="M435.2 293V294M436.8 235V236" stroke="#bf2329" stroke-width="1.8" fill="none"/><path d="M435.2 307V308M436.8 234V235" stroke="#b81f2c" stroke-width="1.8" fill="none"/><path d="M435.2 294V295M435.2 306V307" stroke="#b11b30" stroke-width="1.8" fill="none"/><path d="M435.2 295V296" stroke="#aa1734" stroke-width="1.8" fill="none"/><path d="M435.2 305V306" stroke="#a1112b" stroke-width="1.8" fill="none"/><path d="M435.2 296V298M435.2 303V305" stroke="#980e2f" stroke-width="1.8" fill="none"/><path d="M435.2 298V300M435.2 302V303" stroke="#900c34" stroke-width="1.8" fill="none"/><path d="M435.2 300V302" stroke="#87082b" stroke-width="1.8" fill="none"/><path d="M440.5 170L444 169L446.5 176L447.5 190L447 203L445.5 215L445.5 235L445 249L440.5 249Z" fill="#fbd724" stroke="#fbd724" stroke-width="1.5" stroke-linejoin="round"/><path d="M441.2 170V191M441.2 227V249" stroke="#f6e826" stroke-width="1.8" fill="none"/><path d="M441.2 191V193M441.2 224V227M444.2 208V210M444.2 248V249M445.8 182V206" stroke="#f8df25" stroke-width="1.8" fill="none"/><path d="M444.2 203V208" stroke="#f7d817" stroke-width="1.8" fill="none"/><path d="M444.2 195V203" stroke="#f9ce16" stroke-width="1.8" fill="none"/><path d="M441.2 195V196M441.2 222V223M442.8 170V172M444.2 173V176M444.2 218V240" stroke="#fcce25" stroke-width="1.8" fill="none"/><path d="M442.8 172V179M442.8 217V233M444.2 176V195" stroke="#fbc417" stroke-width="1.8" fill="none"/><path d="M441.2 196V197M441.2 221V222M442.8 247V249" stroke="#fdc627" stroke-width="1.8" fill="none"/><path d="M442.8 179V190M442.8 214V217M442.8 233V247" stroke="#fdba18" stroke-width="1.8" fill="none"/><path d="M441.2 220V221" stroke="#febe2a" stroke-width="1.8" fill="none"/><path d="M442.8 190V203M442.8 210V214" stroke="#fdb11b" stroke-width="1.8" fill="none"/><path d="M441.2 197V198M441.2 219V220" stroke="#feb72d" stroke-width="1.8" fill="none"/><path d="M442.8 203V210" stroke="#fda81d" stroke-width="1.8" fill="none"/><path d="M441.2 198V199M441.2 218V219" stroke="#fdae32" stroke-width="1.8" fill="none"/><path d="M441.2 199V200M441.2 217V218" stroke="#fb9f3a" stroke-width="1.8" fill="none"/><path d="M441.2 200V201M441.2 216V217" stroke="#f79143" stroke-width="1.8" fill="none"/><path d="M441.2 201V202M441.2 215V216" stroke="#f2844b" stroke-width="1.8" fill="none"/><path d="M441.2 202V203M441.2 214V215" stroke="#e76140" stroke-width="1.8" fill="none"/><path d="M441.2 203V204M441.2 213V214" stroke="#d84439" stroke-width="1.8" fill="none"/><path d="M441.2 204V205" stroke="#ce3941" stroke-width="1.8" fill="none"/><path d="M441.2 212V213" stroke="#c62d33" stroke-width="1.8" fill="none"/><path d="M441.2 205V206M441.2 211V212" stroke="#b9243b" stroke-width="1.8" fill="none"/><path d="M441.2 206V207M441.2 210V211" stroke="#aa1734" stroke-width="1.8" fill="none"/><path d="M441.2 207V210" stroke="#a11339" stroke-width="1.8" fill="none"/><path d="M440.5 299L445.5 299L446 312L445 328L440.5 329Z" fill="#fbd724" stroke="#fbd724" stroke-width="1.5" stroke-linejoin="round"/><path d="M444.2 311V329" stroke="#f8df25" stroke-width="1.8" fill="none"/><path d="M441.2 300V307M442.8 327V329M444.2 300V301" stroke="#fcce25" stroke-width="1.8" fill="none"/><path d="M442.8 320V327" stroke="#fbc417" stroke-width="1.8" fill="none"/><path d="M441.2 307V317M442.8 300V302" stroke="#fdc627" stroke-width="1.8" fill="none"/><path d="M442.8 302V320" stroke="#fdba18" stroke-width="1.8" fill="none"/><path d="M441.2 317V329" stroke="#febe2a" stroke-width="1.8" fill="none"/><path d="M439.5 171.3h0M439.5 247h0M439.3 325.1h0M439.4 259.6h0M439.4 299.3h0M439.5 264.2h0M439.5 235.1h0M439.3 309.7h0M439.4 263.6h0M439.3 266h0M439.4 318.7h0M439.3 222.7h0M439.3 307.5h0M439.5 253.6h0M439.3 204.1h0M439.4 257.2h0M439.4 186.5h0M439.3 180.9h0M439.3 217.8h0M439.5 320.9h0M439.4 173.3h0M439.4 289.6h0M439.4 249.6h0M439.4 313.3h0M439.3 292h0M439.3 234.1h0M439.4 250.7h0M439.3 295.5h0M439.4 177h0M439.5 233.1h0M439.5 299.6h0M439.4 258.2h0M439.3 224.1h0M439.4 239.1h0M439.5 321.1h0M439.4 225.8h0M439.5 185.9h0M439.5 262.6h0M439.3 237h0M439.3 291.4h0M439.5 199.1h0M439.5 262.9h0M439.3 260.5h0M439.3 313.4h0M439.4 303.1h0M439.3 241.5h0M439.4 176.9h0M439.3 174h0M439.4 216.5h0M439.5 222h0M439.5 188h0M439.3 310.7h0M439.3 171.5h0" stroke="#fbd724" stroke-width="1.6" stroke-linecap="round" fill="none"/><path d="M439.4 194.2h0M439.3 180.9h0M439.4 257.6h0M439.5 261.9h0M439.3 290.9h0M439.3 180.8h0M439.3 326.2h0M439.4 221.3h0M439.5 305.9h0M439.5 192h0M439.5 182.2h0M439.4 213h0M439.3 310.5h0M439.5 182.8h0M439.3 234.9h0M439.3 259.1h0M439.5 181.2h0M439.4 219.4h0M439.4 209.6h0M439.5 269.1h0M439.3 252.1h0M439.5 278.8h0M439.4 231.4h0M439.3 172.4h0M439.4 313.3h0M439.3 228.8h0M439.3 251.3h0M439.5 192h0M439.3 322.1h0M439.3 260h0M439.4 309.6h0M439.3 210.4h0M439.5 224.2h0M439.5 278h0M439.4 300.3h0M439.4 222.9h0M439.3 281.8h0" stroke="#fdc627" stroke-width="1.6" stroke-linecap="round" fill="none"/><path d="M439.4 223.8h0M439.5 235.9h0M439.5 299.8h0M439.3 259.6h0M439.5 313.1h0M439.5 186.5h0M439.4 226.7h0M439.5 284.5h0M439.3 251h0M439.3 263h0M439.4 283.2h0M439.3 286.5h0M439.4 186.7h0M439.4 179.8h0M439.5 302.9h0M439.4 272.8h0M439.4 284h0M439.3 209.6h0M439.3 170.7h0M439.4 317.6h0" stroke="#f6e826" stroke-width="1.6" stroke-linecap="round" fill="none"/><path d="M442.2 289.3h0M440.7 274.2h0M440.4 285.1h0M442.3 291.8h0M442.5 289.5h0M441.1 289.9h0M441.1 283.7h0M440.8 265.2h0M441.4 259.9h0M441.8 280.8h0M441 264.3h0" stroke="#f6e826" stroke-width="4" stroke-linecap="round" fill="none"/><path d="M442.4 282.5h0M442.6 293.6h0M440.8 292.7h0M440.4 275.3h0M441 253h0M441.8 255.5h0M441.1 290.4h0M442.6 268.5h0M440.6 272.9h0M441.1 265.7h0M441.1 260.8h0M442.1 288.3h0M440.3 290.5h0M442.9 264.9h0" stroke="#fdc627" stroke-width="4" stroke-linecap="round" fill="none"/><path d="M440.3 281.5h0M441.9 262.5h0M443.1 267h0M442.9 252h0M440.1 277.6h0M441.3 285.1h0M442.3 293.1h0M441.4 267.4h0M440.8 276.8h0M440.5 262.8h0M440 291.1h0M441.9 278.1h0M441.1 253.2h0M440.3 280.8h0M440.1 276.3h0M441.5 288.6h0M442.3 284.8h0M443.1 268.6h0M440.8 289.5h0M441 269.9h0" stroke="#fbd724" stroke-width="4" stroke-linecap="round" fill="none"/><path d="M446.5 194h0M447 197h0M446.5 200h0M447 202h0M441 271h0M436 213h0M436.5 216h0" stroke="#fbd724" stroke-width="4" stroke-linecap="round" fill="none"/><path d="M468 241L470.5 244L471.5 252L472 262L473 272L472.5 280L471 285L469.5 282L468 272L467 262L467 250Z" fill="#fcce25" stroke="#fcce25" stroke-width="1.5" stroke-linejoin="round"/><path d="M467.8 244V247" stroke="#f8df25" stroke-width="1.8" fill="none"/><path d="M467.8 247V253M469.2 243V249M470.8 276V285" stroke="#fbd724" stroke-width="1.8" fill="none"/><path d="M467.8 258V261M469.2 278V281M470.8 247V252M470.8 270V272" stroke="#fdc627" stroke-width="1.8" fill="none"/><path d="M469.2 252V255M470.8 272V273" stroke="#fdba18" stroke-width="1.8" fill="none"/><path d="M467.8 261V263M469.2 277V278M470.8 252V255M470.8 268V270M472.2 270V281" stroke="#febe2a" stroke-width="1.8" fill="none"/><path d="M469.2 255V257" stroke="#fdb11b" stroke-width="1.8" fill="none"/><path d="M467.8 263V264M469.2 276V277M470.8 255V258M470.8 266V268M472.2 265V270" stroke="#feb72d" stroke-width="1.8" fill="none"/><path d="M469.2 257V259" stroke="#fda81d" stroke-width="1.8" fill="none"/><path d="M469.2 275V276M470.8 258V266" stroke="#fdae32" stroke-width="1.8" fill="none"/><path d="M469.2 259V261" stroke="#fc9e21" stroke-width="1.8" fill="none"/><path d="M467.8 264V265M469.2 274V275" stroke="#fca636" stroke-width="1.8" fill="none"/><path d="M469.2 261V263" stroke="#fb9525" stroke-width="1.8" fill="none"/><path d="M469.2 263V265" stroke="#fb9f3a" stroke-width="1.8" fill="none"/><path d="M467.8 265V266M469.2 265V266M469.2 273V274" stroke="#f9983e" stroke-width="1.8" fill="none"/><path d="M469.2 266V267" stroke="#f79143" stroke-width="1.8" fill="none"/><path d="M467.8 266V267M469.2 267V268M469.2 272V273" stroke="#f58b47" stroke-width="1.8" fill="none"/><path d="M469.2 268V269M469.2 271V272" stroke="#f2844b" stroke-width="1.8" fill="none"/><path d="M469.2 269V271" stroke="#ef7e50" stroke-width="1.8" fill="none"/><path d="M467.8 267V268" stroke="#eb693c" stroke-width="1.8" fill="none"/><path d="M467.8 268V269" stroke="#e35b45" stroke-width="1.8" fill="none"/><path d="M467.8 269V270" stroke="#d33f3c" stroke-width="1.8" fill="none"/><path d="M506 239.8h0M530.5 240.3h0M698.5 236h0M611 245.5h0M611.3 248h0M506.5 256.3h0M525.5 251h0M524.5 253.5h0M525.5 256h0M526.5 258.5h0M533.7 284.8h0M542.5 296h0M585 273h0M588.5 272.8h0M606.3 270.3h0M605.5 277.5h0M609.5 296.5h0M626.7 258h0M643.2 254.8h0M629.5 277h0M630.5 279.5h0M629.5 282h0M631 276.5h0M637 279h0M694.3 256.3h0M694 280.5h0M509.7 326h0M501 326.5h0M578.7 332.8h0M587.3 327h0M605.7 326.5h0M624.3 317.3h0M641 315.5h0M645.5 319.5h0M664.5 312.3h0M576.5 340.5h0M681.2 352.7h0M677.5 373h0M579.3 377.3h0M504.8 388.3h0M506.2 388.3h0M538 388.2h0M598.6 388.3h0M600 388.3h0M612.8 388.3h0M614.2 388.3h0M685 388.3h0M697.8 190.5h0M694.5 256.5h0M759.5 274.3h0M715 282.8h0M728.5 302.3h0M718.5 323.3h0M681.5 352.8h0M719 362.8h0M735 369h0M784 317.2h0M784 368h0" stroke="#fbd724" stroke-width="4" stroke-linecap="round" fill="none"/><path d="M519.5 248.8h0M671 227.8h0M545 263.2h0M538 272.2h0M541 273.8h0M515 288.2h0M517.8 294.2h0M540.5 302h0M583 275.5h0M586.5 294h0M609.5 305.8h0M676 258.8h0M518.8 318h0M519.5 322.5h0M586 331h0M596.8 323.5h0M630.7 326.8h0M651 333h0M670.7 312.5h0M682 340.2h0M624 353.2h0M621 360.5h0M657.5 365.5h0M627.5 368.5h0M670 374h0M677.5 375.8h0M558.7 377.7h0M736.7 238.5h0M734 272.3h0M758 280.5h0M713.7 327.2h0M742.3 325h0M756 369.5h0" stroke="#fca636" stroke-width="4" stroke-linecap="round" fill="none"/><path d="M543.2 293h0M565.2 285.8h0M585 283.8h0M646.2 264.5h0M601 357.5h0M676 356.5h0M579 364.2h0M747.2 280.5h0" stroke="#f58b47" stroke-width="4" stroke-linecap="round" fill="none"/><path d="M566.2 294.2h0M609 258h0M599.5 270h0M606 299.5h0M636 266.2h0M688.5 275.3h0M524 319.8h0M521.5 321h0M521.8 330.8h0M528 331h0M609 329.5h0M645 326.5h0M587.7 374.2h0M595.3 375.5h0M694 280.3h0M723.7 310.5h0M757.7 329h0M757.2 345.5h0M733 358.7h0M722 366h0M781.8 290.5h0M790.8 357.3h0" stroke="#feb72d" stroke-width="4" stroke-linecap="round" fill="none"/><path d="M595.3 253.3h0M665 276h0M546.3 316h0M672.2 329.3h0M593.2 340h0M647.5 341.5h0M591.5 368.5h0M707.2 230.2h0M730 236h0M732 243.2h0M737.5 319.3h0M757.3 317.3h0M760.5 317.3h0M741.5 334.3h0M802 368.5h0" stroke="#fdc627" stroke-width="4" stroke-linecap="round" fill="none"/><path d="M601.2 255.8h0M596.7 334h0" stroke="#ef7e50" stroke-width="4" stroke-linecap="round" fill="none"/><path d="M525 315.2h0M577.8 330h0M593.2 342.2h0M657.8 374.2h0M750.2 242.2h0M717.8 280.8h0M742.6 327.3h0M755.8 317.5h0" stroke="#f9983e" stroke-width="4" stroke-linecap="round" fill="none"/><path d="M616.3 351.5h0M621.5 363.5h0M651.3 373.5h0M643.5 379.5h0" stroke="#f6e826" stroke-width="4" stroke-linecap="round" fill="none"/><path d="M762.2 259.5h0" stroke="#e16462" stroke-width="4" stroke-linecap="round" fill="none"/><path d="M719.7 270.5h0" stroke="#d9586a" stroke-width="4" stroke-linecap="round" fill="none"/><path d="M561 171L563 175L563.5 186L563 200L562.5 207L566 210L569 214L568.5 220L566 223L564 222L562.5 228L563 240L566.5 241L567 262L566 274L564 279L560.5 280L560.5 300L560 315L558 319L556 318L555 322L553 323.5L551 321L550.5 310L550.5 290L551 275L551 262L547 258L545.5 250L545.5 240L546 230L549 226L549 215L549.5 200L551 193L553 191L555 193L556 188L558 186L558.5 176Z" fill="#fbd724" stroke="#fbd724" stroke-width="1.5" stroke-linejoin="round"/><path d="M549.2 208V221M559.8 174V187M559.8 280V289M561.2 193V204" stroke="#f6e826" stroke-width="1.8" fill="none"/><path d="M559.8 187V198M559.8 262V280" stroke="#f4e218" stroke-width="1.8" fill="none"/><path d="M547.8 228V230M549.2 221V229M550.8 195V204M550.8 283V316M552.2 294V316M556.8 317V319M559.8 289V316M561.2 184V185M561.2 188V193M561.2 204V208M561.2 233V241M561.2 278V280M564.2 241V243M564.2 269V271M565.8 210V213M565.8 221V223M565.8 269V275M568.8 214V218" stroke="#f8df25" stroke-width="1.8" fill="none"/><path d="M549.2 229V232M552.2 206V219M556.8 197V217M556.8 302V317M559.8 198V213M559.8 243V262M561.2 185V188M561.2 208V213M561.2 241V256M564.2 243V269M565.8 213V221" stroke="#f7d817" stroke-width="1.8" fill="none"/><path d="M549.2 232V238M549.2 258V259M552.2 198V206M552.2 219V235M553.8 215V232M553.8 291V301M556.8 193V197M556.8 217V224M556.8 251V277M556.8 293V302M558.2 208V233M558.2 275V302M559.8 213V243M561.2 213V225M561.2 256V278M562.8 272V277M564.2 211V220" stroke="#f9ce16" stroke-width="1.8" fill="none"/><path d="M546.2 238V247M547.8 235V237M550.8 209V213M552.2 274V282M553.8 192V194M553.8 319V323M555.2 319V322M558.2 184V188M558.2 305V319M562.8 175V177M562.8 187V196M562.8 223V225M562.8 234V241M562.8 278V280M565.8 241V258M567.2 213V222" stroke="#fcce25" stroke-width="1.8" fill="none"/><path d="M549.2 238V241M549.2 253V258M552.2 235V245M553.8 194V215M553.8 232V236M553.8 286V291M553.8 301V319M555.2 202V222M555.2 272V279M555.2 316V319M556.8 224V235M556.8 239V251M556.8 277V293M558.2 188V208M558.2 233V243M558.2 266V275M562.8 215V223M562.8 262V272" stroke="#fbc417" stroke-width="1.8" fill="none"/><path d="M546.2 247V255M547.8 237V239M547.8 256V259M550.8 213V216M552.2 262V274M555.2 192V194M562.8 196V204M562.8 208V210" stroke="#fdc627" stroke-width="1.8" fill="none"/><path d="M549.2 241V253M552.2 245V262M553.8 236V239M553.8 283V286M555.2 194V202M555.2 222V230M555.2 260V272M555.2 279V296M555.2 304V316M556.8 235V239M558.2 243V266M562.8 210V215M562.8 241V262" stroke="#fdba18" stroke-width="1.8" fill="none"/><path d="M547.8 239V240M547.8 254V256M550.8 216V219" stroke="#febe2a" stroke-width="1.8" fill="none"/><path d="M553.8 239V242M553.8 281V283M555.2 230V242M555.2 247V260M555.2 296V304" stroke="#fdb11b" stroke-width="1.8" fill="none"/><path d="M547.8 253V254M550.8 219V222M550.8 261V262" stroke="#feb72d" stroke-width="1.8" fill="none"/><path d="M547.8 240V242M553.8 242V244M553.8 279V281M555.2 242V247" stroke="#fda81d" stroke-width="1.8" fill="none"/><path d="M547.8 251V253M550.8 222V224M550.8 260V261" stroke="#fdae32" stroke-width="1.8" fill="none"/><path d="M547.8 242V243M550.8 259V260M553.8 244V246M553.8 277V279" stroke="#fc9e21" stroke-width="1.8" fill="none"/><path d="M550.8 224V227" stroke="#fca636" stroke-width="1.8" fill="none"/><path d="M547.8 243V245M547.8 249V251M550.8 256V259M553.8 246V248M553.8 275V277" stroke="#fb9525" stroke-width="1.8" fill="none"/><path d="M547.8 245V249M550.8 227V230M550.8 253V256M553.8 248V249M553.8 274V275" stroke="#fa8d28" stroke-width="1.8" fill="none"/><path d="M550.8 230V233M550.8 249V253M553.8 249V251M553.8 272V274" stroke="#f8862c" stroke-width="1.8" fill="none"/><path d="M550.8 233V240M550.8 243V249M553.8 251V253M553.8 270V272" stroke="#f57e30" stroke-width="1.8" fill="none"/><path d="M550.8 240V243M553.8 253V255M553.8 268V270" stroke="#f27734" stroke-width="1.8" fill="none"/><path d="M553.8 255V258M553.8 265V268" stroke="#ef7038" stroke-width="1.8" fill="none"/><path d="M553.8 258V265" stroke="#eb693c" stroke-width="1.8" fill="none"/><path d="M567.5 226L569.5 229L570.5 236L573 240L574 250L574 270L573.5 283L571 284.5L568.5 282L568 270L567.5 255L567.5 242L566 236Z" fill="#fbd724" stroke="#fbd724" stroke-width="1.5" stroke-linejoin="round"/><path d="M569.8 257V269" stroke="#f8df25" stroke-width="1.8" fill="none"/><path d="M569.8 249V257" stroke="#f7d817" stroke-width="1.8" fill="none"/><path d="M568.2 236V237M569.8 243V249M571.2 272V283" stroke="#f9ce16" stroke-width="1.8" fill="none"/><path d="M568.2 247V260M568.2 270V277M571.2 243V245M572.8 240V246M572.8 248V281" stroke="#fcce25" stroke-width="1.8" fill="none"/><path d="M569.8 240V243M571.2 245V252M571.2 263V272" stroke="#fbc417" stroke-width="1.8" fill="none"/><path d="M568.2 260V270M569.8 231V235M569.8 237V239M571.2 241V243" stroke="#fdc627" stroke-width="1.8" fill="none"/><path d="M569.8 239V240M571.2 252V263" stroke="#fdba18" stroke-width="1.8" fill="none"/><path d="M566.8 231V240M569.8 235V237M571.2 238V241" stroke="#febe2a" stroke-width="1.8" fill="none"/><path d="M539 212.5L542 213L543 218L541 222L543.5 226L544 235L543.5 242L540 242.5L538.5 238L538.5 228L536.5 224L536.3 217Z" fill="#fdc627" stroke="#fdc627" stroke-width="1.5" stroke-linejoin="round"/><path d="M537 216V217M541.5 216V218M541.5 224V229" stroke="#fbd724" stroke-width="1.8" fill="none"/><path d="M537 217V218M537 225V226M538.5 233V239M541.5 213V216M541.5 218V221M541.5 223V224M541.5 229V231M541.5 239V243" stroke="#fcce25" stroke-width="1.8" fill="none"/><path d="M541.5 231V239" stroke="#fbc417" stroke-width="1.8" fill="none"/><path d="M537 219V221M537 222V224M538.5 214V216M538.5 226V227M540 233V243" stroke="#febe2a" stroke-width="1.8" fill="none"/><path d="M540 215V218" stroke="#fdb11b" stroke-width="1.8" fill="none"/><path d="M537 221V222M538.5 216V217M538.5 225V226M540 227V233" stroke="#feb72d" stroke-width="1.8" fill="none"/><path d="M538.5 217V218M540 218V220M540 224V227" stroke="#fda81d" stroke-width="1.8" fill="none"/><path d="M538.5 224V225M540 220V224" stroke="#fdae32" stroke-width="1.8" fill="none"/><path d="M538.5 218V219" stroke="#fc9e21" stroke-width="1.8" fill="none"/><path d="M538.5 219V220M538.5 223V224" stroke="#fca636" stroke-width="1.8" fill="none"/><path d="M538.5 220V223" stroke="#fb9f3a" stroke-width="1.8" fill="none"/><path d="M535 233.5h0M536 236h0M535 238.5h0M542.2 199.4h0M541 240.5h0M542.5 241h0M546.5 232h0M547 240h0M547 250h0M573 177.5h0M573.5 180h0M573.5 182.5h0M577.5 192.5h0M561 180h0M560.5 206h0M552 297h0M551.5 309h0M558 296h0M558.5 224h0M558 237h0" stroke="#fbd724" stroke-width="4" stroke-linecap="round" fill="none"/><path d="M572 201h0M572 203.5h0" stroke="#fdc627" stroke-width="4" stroke-linecap="round" fill="none"/><path d="M573 271.5h0" stroke="#fca636" stroke-width="4" stroke-linecap="round" fill="none"/><path d="M701.5 73.5h0M701.5 75.6h0M701.7 77.3h0M701.4 78.7h0M701.7 82.2h0M701.6 85.7h0M701.5 87.4h0M701.5 88.7h0M701.5 90.5h0M701.6 92h0M701.7 93.3h0M701.5 95.2h0M701.4 97.4h0M701.7 99.4h0M701.7 101.2h0M701.6 102.8h0M701.6 104.9h0M701.5 106.2h0M701.5 107.9h0M701.7 109.9h0M701.6 111.7h0M701.6 113.5h0M701.4 114.8h0M701.6 117.1h0M701.6 118.6h0M701.6 120.7h0M701.6 122.2h0M701.6 124.1h0M701.7 128h0M701.7 130.1h0M701.6 135.9h0M701.6 137.6h0M701.5 141h0M701.7 143.2h0M701.5 145.3h0M701.7 148.6h0M701.6 150h0M701.5 151.3h0M701.5 152.8h0M701.5 154.5h0M701.6 155.8h0M701.4 157.3h0M701.5 159.1h0M701.7 164.6h0M701.8 166.1h0M701.5 168h0M701.6 169.6h0M701.4 171.6h0M701.8 173.9h0M701.5 176.1h0M701.6 178.1h0M701.8 181.6h0M701.7 183h0M701.6 185h0M701.5 186.7h0M701.5 190.4h0M701.7 192h0M701.5 193.3h0M701.7 195.6h0M701.7 197.1h0M701.5 199.3h0M701.6 201.3h0M701.8 204.3h0M701.6 206.4h0M701.5 208h0M701.6 210.2h0M701.5 212.5h0M701.7 216h0M701.6 217.6h0M701.6 219.3h0M701.5 220.7h0M701.8 222.5h0M701.7 224.1h0M701.8 228.3h0M701.5 229.7h0M701.4 231.7h0M701.8 233.4h0M701.5 235h0M701.8 237.6h0M701.6 239.5h0M701.8 240.8h0M701.4 243.1h0M701.8 245.1h0M701.7 247.1h0M701.5 248.9h0M701.5 250.3h0M701.7 252h0M701.6 254.3h0M701.5 255.9h0M701.5 258.1h0M701.6 260h0M701.4 261.5h0M701.7 264.2h0M701.6 266.3h0M701.6 267.7h0M701.8 271.2h0M701.4 272.8h0M701.5 275h0M701.8 278h0M701.7 280.3h0M701.5 282.3h0M701.7 283.7h0M701.4 285.2h0M701.6 287.4h0M701.6 289.6h0M701.6 293.1h0M701.5 295.9h0M701.6 297.5h0M701.4 299.1h0M701.7 300.9h0M701.7 302.9h0M701.6 304.7h0M701.6 306.4h0M701.5 308.6h0M701.4 309.9h0M701.5 312.1h0M701.5 314.3h0M701.5 316.5h0M701.6 318.6h0M701.8 320.8h0M701.5 322.3h0M701.7 326.1h0M701.5 327.9h0M701.8 329.2h0M701.5 331.2h0M701.5 333.5h0M701.7 335.7h0M701.8 337.4h0" stroke="#fbd724" stroke-width="4.9" stroke-linecap="round" fill="none"/><path d="M701.7 80.4h0M701.8 84.4h0M701.8 125.9h0M701.6 131.9h0M701.6 134.1h0M701.6 139.5h0M701.4 147.3h0M701.4 161.2h0M701.7 162.6h0M701.8 179.4h0M701.5 188.4h0M701.7 202.9h0M701.4 213.8h0M701.7 225.4h0M701.8 226.8h0M701.7 236.3h0M701.6 262.8h0M701.8 269.1h0M701.8 276.4h0M701.5 291.2h0M701.5 294.5h0M701.7 324.1h0" stroke="#f6e826" stroke-width="4.9" stroke-linecap="round" fill="none"/><path d="M701.8 357.5h0M701.4 358.8h0M701.7 360.9h0M701.6 362.8h0M701.6 364.2h0M701.8 366.3h0M701.6 368.1h0M701.4 369.4h0M701.6 371h0M701.6 372.8h0M701.8 375.9h0M701.8 377.4h0M701.8 379.4h0M701.5 381.6h0M701.5 383.9h0M701.6 385.9h0M701.8 387.7h0M701.5 389.8h0M701.6 392.1h0" stroke="#fbd724" stroke-width="4.9" stroke-linecap="round" fill="none"/><path d="M701.5 374.1h0" stroke="#f6e826" stroke-width="4.9" stroke-linecap="round" fill="none"/><path d="M701.6 341.8h0" stroke="#fbd724" stroke-width="4" stroke-linecap="round" fill="none"/><path d="M702 92.5h0M702.1 94.2h0M702 95.5h0M702 97h0M702.2 98.8h0M702 100.7h0M702.1 102.9h0M702 104.9h0M702.1 109h0M702.2 111.2h0M702.2 112.9h0M702 116.6h0M702.1 118.3h0M702.1 120.1h0M702.1 122h0M702.2 124h0M702.2 128.5h0M702.2 130.4h0M702.1 132.6h0M702.2 133.9h0M702.2 135.3h0M702 136.7h0M702 138.9h0M702.2 140.2h0M702.2 142.4h0M702.2 149.7h0M702.2 152h0M702.1 153.7h0M702.1 155.6h0M702.1 157.9h0M702 159.9h0M702.1 162.2h0M702.1 163.5h0M702.1 164.8h0M702.1 166.1h0M702.1 168.1h0M702.2 172.2h0M702.1 173.9h0M702 175.6h0M702 177.5h0M702 179.6h0M702 181.6h0M702.1 187.1h0M702.1 190.4h0" stroke="#fbd724" stroke-width="4.4" stroke-linecap="round" fill="none"/><path d="M702 106.8h0M702.2 115.2h0M702.2 126.4h0M702 144.7h0M702 146.7h0M702.1 148.4h0M702 170.2h0M702 183.7h0M702.2 185.5h0M702.2 188.8h0M702 192.2h0" stroke="#f6e826" stroke-width="4.4" stroke-linecap="round" fill="none"/><path d="M702 207h0M702 208.7h0M702 214h0M702.2 217.6h0M702.2 221.4h0M702.1 224.8h0M702.2 238.5h0" stroke="#f6e826" stroke-width="4.4" stroke-linecap="round" fill="none"/><path d="M702.2 210.4h0M702 212.5h0M702.2 215.5h0M702.1 219.2h0M702.2 223.3h0M702.2 227.1h0M702.2 228.6h0M702.2 230.9h0M702.1 232.6h0M702 234h0M702 235.3h0M702.1 236.9h0" stroke="#fbd724" stroke-width="4.4" stroke-linecap="round" fill="none"/><path d="M701.8 264h0M701.9 266.1h0M701.7 268.4h0M701.8 270.7h0M701.8 272h0M701.7 275.4h0M701.7 277.5h0M701.9 280.1h0M701.9 281.6h0" stroke="#fbd724" stroke-width="5" stroke-linecap="round" fill="none"/><path d="M701.8 273.9h0M701.8 278.9h0" stroke="#f6e826" stroke-width="5" stroke-linecap="round" fill="none"/><path d="M701.6 88h0M701.6 90h0M701.6 200h0M701.6 203h0M701.6 206h0" stroke="#feb72d" stroke-width="4" stroke-linecap="round" fill="none"/><path d="M701.8 182h0M701.8 186h0M701.8 189.5h0M701.8 258h0M701.8 297.5h0M701.8 309.5h0M701.8 312.5h0M701.8 330.8h0" stroke="#fbd724" stroke-width="4" stroke-linecap="round" fill="none"/><path d="M719 188.5L722 188L723 194L722.5 199L720 201.5L717.5 199L716.5 193Z" fill="#fbd724" stroke="#fbd724" stroke-width="1.5" stroke-linejoin="round"/><path d="M718.8 193V194M720.2 191V200" stroke="#f9ce16" stroke-width="1.8" fill="none"/><path d="M711.5 234.5L714 234.5L715 242L715 250L713.5 253L711 252L710 246L710.5 240Z" fill="#fbd724" stroke="#fbd724" stroke-width="1.5" stroke-linejoin="round"/><path d="M712.2 235V240" stroke="#f8df25" stroke-width="1.8" fill="none"/><path d="M712.2 246V247" stroke="#f9ce16" stroke-width="1.8" fill="none"/><path d="M713.8 236V246" stroke="#fcce25" stroke-width="1.8" fill="none"/><path d="M710.8 239V240M713.8 235V236" stroke="#fdc627" stroke-width="1.8" fill="none"/><path d="M710.8 240V241" stroke="#feb72d" stroke-width="1.8" fill="none"/><path d="M710.8 241V242" stroke="#fca636" stroke-width="1.8" fill="none"/><path d="M710.8 242V243" stroke="#f9983e" stroke-width="1.8" fill="none"/><path d="M710.8 250V251" stroke="#f79143" stroke-width="1.8" fill="none"/><path d="M710.8 243V244" stroke="#f58b47" stroke-width="1.8" fill="none"/><path d="M710.8 249V250" stroke="#f2844b" stroke-width="1.8" fill="none"/><path d="M710.8 244V245" stroke="#ef7e50" stroke-width="1.8" fill="none"/><path d="M710.8 248V249" stroke="#eb693c" stroke-width="1.8" fill="none"/><path d="M710.8 245V246M710.8 247V248" stroke="#e76140" stroke-width="1.8" fill="none"/><path d="M710.8 246V247" stroke="#e35b45" stroke-width="1.8" fill="none"/><path d="M761 214L763.5 214L765 219L765 227L763.5 230L761 229.5L760 224L759.7 218Z" fill="#fbd724" stroke="#fbd724" stroke-width="1.5" stroke-linejoin="round"/><path d="M762 218V219" stroke="#f9ce16" stroke-width="1.8" fill="none"/><path d="M761.5 234.5L764 235L765 238.5L763.5 241L761 240.5L760 237.5Z" fill="#fbd724" stroke="#fbd724" stroke-width="1.5" stroke-linejoin="round"/><path d="M694 263.5L697.5 264L699 270L699 284L696 285L694 282L693 275L693 268Z" fill="#fdc627" stroke="#fdc627" stroke-width="1.5" stroke-linejoin="round"/><path d="M695.2 282V284" stroke="#fbd724" stroke-width="1.8" fill="none"/><path d="M695.2 264V267M695.2 279V282M696.8 283V285" stroke="#fcce25" stroke-width="1.8" fill="none"/><path d="M696.8 275V283" stroke="#fbc417" stroke-width="1.8" fill="none"/><path d="M695.2 268V271M696.8 270V275" stroke="#fdba18" stroke-width="1.8" fill="none"/><path d="M693.8 268V270M693.8 280V281M698.2 273V285" stroke="#febe2a" stroke-width="1.8" fill="none"/><path d="M695.2 271V276" stroke="#fdb11b" stroke-width="1.8" fill="none"/><path d="M693.8 270V271M693.8 278V280" stroke="#feb72d" stroke-width="1.8" fill="none"/><path d="M693.8 271V273M693.8 277V278" stroke="#fdae32" stroke-width="1.8" fill="none"/><path d="M693.8 273V277" stroke="#fca636" stroke-width="1.8" fill="none"/><path d="M704 274h0M706 276h0M707.5 278.5h0M705 272.5h0M711 256h0M713.5 254.5h0M710 262h0M712 265h0M714.5 262.5h0M711 269h0M712 272.5h0M713 275.5h0M714.5 277h0M711.5 271h0" stroke="#fbd724" stroke-width="4" stroke-linecap="round" fill="none"/><path d="M721.5 252L724 255L726 260L726.5 263L724.5 266L721 267.5L717 266L714.5 263L717.5 262L719.5 258L720 254Z" fill="#fbd724" stroke="#fbd724" stroke-width="1.5" stroke-linejoin="round"/><path d="M722.8 254V258M722.8 265V267" stroke="#f8df25" stroke-width="1.8" fill="none"/><path d="M722.8 258V265" stroke="#f7d817" stroke-width="1.8" fill="none"/><path d="M718.2 263V265M719.8 262V265M721.2 259V266M724.2 263V264" stroke="#f9ce16" stroke-width="1.8" fill="none"/><path d="M715.2 263V264" stroke="#fcce25" stroke-width="1.8" fill="none"/><path d="M741.5 252.5L743.5 258L745 266L746 274L745 281L742.5 285.5L740 286L738 282L736.5 275L736.5 268L738.5 260L740 254Z" fill="#fbd724" stroke="#fbd724" stroke-width="1.5" stroke-linejoin="round"/><path d="M738.8 276V284M740.2 254V262M740.2 283V286M743.2 258V270M743.2 278V285M744.8 265V282" stroke="#f8df25" stroke-width="1.8" fill="none"/><path d="M738.8 274V276M740.2 262V283M743.2 270V278" stroke="#f7d817" stroke-width="1.8" fill="none"/><path d="M738.8 268V274M741.8 261V283" stroke="#f9ce16" stroke-width="1.8" fill="none"/><path d="M741 295.5L745 296L748.5 299L750 303.5L749 308L746 311L743 315L740.5 315L738 311L735.5 307L735.5 301L738 297Z" fill="#fbd724" stroke="#fbd724" stroke-width="1.5" stroke-linejoin="round"/><path d="M736.2 303V309M739.2 297V299M740.8 296V298M743.8 296V299M743.8 312V314" stroke="#f8df25" stroke-width="1.8" fill="none"/><path d="M739.2 299V307M743.8 299V312" stroke="#f7d817" stroke-width="1.8" fill="none"/><path d="M737.8 301V308M739.2 307V310M740.8 298V312M742.2 298V313M745.2 299V310M746.8 301V309" stroke="#f9ce16" stroke-width="1.8" fill="none"/><path d="M749.8 303V305" stroke="#fcce25" stroke-width="1.8" fill="none"/><path d="M782 322.5L784.5 323L785.5 330L785 338L783 340.5L781 339L780.3 332L780.5 326Z" fill="#fcce25" stroke="#fcce25" stroke-width="1.5" stroke-linejoin="round"/><path d="M781 325V336M784 338V340" stroke="#fbd724" stroke-width="1.8" fill="none"/><path d="M782.5 327V331M782.5 333V341M784 323V327" stroke="#fdc627" stroke-width="1.8" fill="none"/><path d="M782.5 331V333" stroke="#fdba18" stroke-width="1.8" fill="none"/><path d="M843 292.8h0M851.7 289h0M851.9 292h0M855.5 302.5h0M828 320.8h0M831.5 320.8h0M827.8 328.5h0M841.4 318.4h0M818 332.8h0M814 344.2h0M783.5 367.8h0M829.7 368h0M859.4 364.5h0M845.8 388h0M847.3 388h0M856.8 388.3h0M858.3 388.3h0M870 387.5h0M871.5 388h0M874.5 388.3h0M921.8 388h0M924 388h0M926 388h0M969.3 388h0M970.8 388h0M976.6 388h0M978 388h0M897.2 291.7h0M885.8 314.8h0M887 321h0M888.5 319.5h0M915.5 315h0M917 314.5h0M938.5 357.5h0M924 282h0M941.7 285.2h0M948 293.5h0M949.3 293.5h0M951 286.7h0M954.2 299.8h0M958.5 289.3h0M962.5 283.7h0M965 290.5h0M962.7 299.8h0M978.5 282.2h0M980 282.2h0M978.5 309.4h0M994.2 312.2h0M1004.7 326.8h0M1018 329h0M1026.8 368.2h0M814 344.2h0M818 332.8h0M841.5 318.3h0M859.5 364.5h0M829.7 367.5h0M973.9 250h0M975.7 260.2h0M984 260.5h0M986 261.5h0M988.5 261.7h0M992.2 257.6h0M978.7 264h0M978.9 267h0M978.5 270h0M962.6 234h0M962.2 274.9h0M968.6 274.9h0M975.4 274h0M961.9 283.5h0M970.5 282.4h0M952.9 286.7h0M941.2 285h0M946 284.6h0M966 287.2h0M966.3 289.5h0M958.5 289h0M981.4 293.2h0M948.4 293.2h0M951.7 297.4h0M962.2 299h0M980.6 298.5h0M916.9 277.5h0M915.4 286.5h0M919 284.6h0M929.6 284h0M996 247.5h0M997.5 228h0M1012.9 240h0M1011 246h0M1014.7 249.5h0M1008.7 253h0M1005 270.4h0M1010 266h0M1014 281.2h0M1004 277.5h0M1002 284h0M1035.4 285h0M1024.5 291.7h0M1027 291.2h0M1029 291h0" stroke="#fbd724" stroke-width="4" stroke-linecap="round" fill="none"/><path d="M853.5 299.5h0M859 341h0M809 358h0M817.7 354.7h0M879 323.5h0M913.8 336.1h0M922.2 362.8h0M936.5 334h0M915 287.5h0M918 285h0M921 283.5h0M950.7 281.5h0M950.7 284h0M953 339.5h0M964 305.8h0M961.7 314.8h0M968.7 308.8h0M967.2 322.3h0M980.3 299h0M981.2 331.5h0M995.7 307.5h0M995.7 346.3h0M1002.5 282h0M1005.5 284.5h0M1020.8 315.7h0M1022 322.7h0M1017 335.5h0M1035.5 285.2h0" stroke="#fdc627" stroke-width="4" stroke-linecap="round" fill="none"/><path d="M855 301h0M851.5 308.5h0M816.8 319.7h0M816.8 322.5h0M816.8 325h0M791 357.4h0M802 369.7h0M878 367.3h0M882.8 370.5h0M883.5 328h0M968 330.2h0M966.5 332.8h0M973 330h0M1023 338.2h0M1032.8 338.8h0M1025 291.2h0M1028.3 292.7h0M1025 367h0" stroke="#feb72d" stroke-width="4" stroke-linecap="round" fill="none"/><path d="M865 311.8h0M785 370h0M872.5 362h0M870.5 372.2h0M892.5 364.7h0M872.5 293.5h0M895.2 324.7h0M909.8 304.3h0M917.7 366.5h0M929.7 283.7h0M952.2 298h0M941 323.5h0M941.5 326.5h0M972.5 314.5h0M970.5 282.2h0M981.2 293.5h0M987 337.7h0M992 331h0M993 328h0M965.7 354.7h0M1001 307h0M1004.7 309h0M1001.7 328h0M1001.7 331h0M1013.7 281.8h0M1015.5 317.5h0M1016.7 321.2h0M1025.7 329h0M1035.5 321.7h0M829.5 299.5h0M848 336.7h0M872.5 362.2h0" stroke="#fca636" stroke-width="4" stroke-linecap="round" fill="none"/><path d="M826.2 318.2h0M827.3 327h0M947.5 302.2h0" stroke="#d04d73" stroke-width="4" stroke-linecap="round" fill="none"/><path d="M822.5 335.2h0M822.5 337.7h0M847.7 336.7h0M889 327.7h0M909.2 317.2h0" stroke="#f9983e" stroke-width="4" stroke-linecap="round" fill="none"/><path d="M905 386.8h0" stroke="#f6e826" stroke-width="4" stroke-linecap="round" fill="none"/><path d="M876.5 292h0M967 289.7h0" stroke="#d9586a" stroke-width="4" stroke-linecap="round" fill="none"/><path d="M907.7 327.7h0" stroke="#ef7e50" stroke-width="4" stroke-linecap="round" fill="none"/><path d="M952.2 316h0" stroke="#b12a90" stroke-width="4" stroke-linecap="round" fill="none"/><path d="M950.5 320.5h0M974.3 338.2h0M987 331h0M962.3 358.9h0M1014.5 327.2h0" stroke="#f58b47" stroke-width="4" stroke-linecap="round" fill="none"/><path d="M1002.5 354.7h0" stroke="#e16462" stroke-width="4" stroke-linecap="round" fill="none"/><path d="M779 187L779.6 185.6L781 185L782.4 185.6L783 187L783 241L782.4 242.4L781 243L779.6 242.4L779 241Z" fill="#fbd724" stroke="#fbd724" stroke-width="1.5" stroke-linejoin="round"/><path d="M779.7 219V230" stroke="#f6e826" stroke-width="1.7" fill="none"/><path d="M779.7 202V219M779.7 230V243" stroke="#f8df25" stroke-width="1.7" fill="none"/><path d="M781.1 186V193M781.1 219V239M782.5 205V235" stroke="#fcce25" stroke-width="1.7" fill="none"/><path d="M779 242L780.2 239.2L783 238L785.8 239.2L787 242L787 269L785.8 271.8L783 273L780.2 271.8L779 269Z" fill="#fbd724" stroke="#fbd724" stroke-width="1.5" stroke-linejoin="round"/><path d="M782.5 244V248" stroke="#f4e218" stroke-width="1.7" fill="none"/><path d="M782.5 239V241M783.9 239V241" stroke="#f8df25" stroke-width="1.7" fill="none"/><path d="M782.5 241V244M782.5 248V253M783.9 241V253" stroke="#f7d817" stroke-width="1.7" fill="none"/><path d="M782.5 253V255M783.9 253V259" stroke="#f9ce16" stroke-width="1.7" fill="none"/><path d="M781.1 249V255M785.3 244V255M786.7 260V262" stroke="#fcce25" stroke-width="1.7" fill="none"/><path d="M782.5 255V256M783.9 259V271" stroke="#fbc417" stroke-width="1.7" fill="none"/><path d="M779.7 241V249M781.1 255V257M782.5 272V273M786.7 258V260" stroke="#fdc627" stroke-width="1.7" fill="none"/><path d="M782.5 256V257" stroke="#fdba18" stroke-width="1.7" fill="none"/><path d="M779.7 249V252M781.1 257V259M781.1 271V273M782.5 271V272M786.7 257V258" stroke="#febe2a" stroke-width="1.7" fill="none"/><path d="M779.7 252V255M781.1 259V261M781.1 268V271M786.7 256V257" stroke="#feb72d" stroke-width="1.7" fill="none"/><path d="M782.5 257V258" stroke="#fda81d" stroke-width="1.7" fill="none"/><path d="M779.7 255V257M781.1 261V268M786.7 255V256" stroke="#fdae32" stroke-width="1.7" fill="none"/><path d="M782.5 258V259M782.5 270V271" stroke="#fc9e21" stroke-width="1.7" fill="none"/><path d="M779.7 257V258M786.7 254V255" stroke="#fca636" stroke-width="1.7" fill="none"/><path d="M782.5 259V260M782.5 269V270" stroke="#fb9525" stroke-width="1.7" fill="none"/><path d="M779.7 258V260M786.7 242V243" stroke="#fb9f3a" stroke-width="1.7" fill="none"/><path d="M782.5 268V269" stroke="#fa8d28" stroke-width="1.7" fill="none"/><path d="M779.7 260V261M786.7 243V244M786.7 253V254" stroke="#f9983e" stroke-width="1.7" fill="none"/><path d="M782.5 260V261" stroke="#f8862c" stroke-width="1.7" fill="none"/><path d="M779.7 261V263M786.7 244V245M786.7 252V253" stroke="#f79143" stroke-width="1.7" fill="none"/><path d="M782.5 261V262M782.5 267V268" stroke="#f57e30" stroke-width="1.7" fill="none"/><path d="M779.7 263V264M786.7 245V246M786.7 251V252" stroke="#f58b47" stroke-width="1.7" fill="none"/><path d="M782.5 262V263M782.5 265V267" stroke="#f27734" stroke-width="1.7" fill="none"/><path d="M779.7 264V267M786.7 246V248M786.7 249V251" stroke="#f2844b" stroke-width="1.7" fill="none"/><path d="M782.5 263V265" stroke="#ef7038" stroke-width="1.7" fill="none"/><path d="M779.7 267V271M786.7 248V249" stroke="#ef7e50" stroke-width="1.7" fill="none"/><path d="M782 176L784.5 174L787 175L789 180L789 200L791 202L794 203L794.5 215L795 240L800 236L804.5 240L805.5 260L806 280L808 290L812 296L814.5 305L814 318L811 326L806 333L802 336.5L798 333L796 322L793.5 312L790.5 305L789.5 290L789 279L786.5 270L784 262L783 245L782.5 225L782 200Z" fill="#fbd724" stroke="#fbd724" stroke-width="1.5" stroke-linejoin="round"/><path d="M802.3 239V241" stroke="#f0f921" stroke-width="1.7" fill="none"/><path d="M802.3 241V248M802.3 320V328" stroke="#ecf714" stroke-width="1.7" fill="none"/><path d="M802.3 335V337M806.5 330V333" stroke="#f3f027" stroke-width="1.7" fill="none"/><path d="M802.3 248V260M802.3 288V292M802.3 313V320M802.3 328V335M806.5 318V330" stroke="#f0ed18" stroke-width="1.7" fill="none"/><path d="M792.5 213V225M806.5 283V287M807.9 290V293M812.1 297V305M813.5 306V311" stroke="#f6e826" stroke-width="1.7" fill="none"/><path d="M785.5 195V216M792.5 225V252M802.3 260V288M802.3 292V302M802.3 307V313M806.5 309V318M810.7 303V312M812.1 305V310" stroke="#f4e218" stroke-width="1.7" fill="none"/><path d="M792.5 203V213M792.5 309V310M793.9 203V220M796.7 316V325M803.7 255V264M806.5 287V292M807.9 293V294M807.9 328V331M810.7 295V300M810.7 321V322M812.1 311V321M813.5 302V306M813.5 311V320" stroke="#f8df25" stroke-width="1.7" fill="none"/><path d="M785.5 187V195M785.5 216V224M785.5 238V250M788.3 233V247M792.5 252V270M793.9 264V277M796.7 309V316M802.3 302V307M805.1 290V305M806.5 292V309M807.9 294V306M807.9 323V328M810.7 300V303M810.7 312V321M812.1 310V311" stroke="#f7d817" stroke-width="1.7" fill="none"/><path d="M785.5 177V187M785.5 224V238M785.5 250V251M788.3 223V233M788.3 247V269M789.7 208V227M792.5 270V282M792.5 301V302M793.9 253V264M793.9 277V283M796.7 302V309M798.1 304V322M800.9 239V240M800.9 324V331M803.7 297V306M805.1 287V290M805.1 305V309M805.1 331V332M807.9 306V323M809.3 314V325" stroke="#f9ce16" stroke-width="1.7" fill="none"/><path d="M782.7 194V207M782.7 230V234M784.1 175V187M784.1 216V231M785.5 253V254M786.9 175V193M788.3 179V197M789.7 201V203M789.7 274V293M793.9 230V240M793.9 308V314M798.1 238V240M798.1 322V334M799.5 237V239M799.5 330V335M800.9 334V336M803.7 240V246M803.7 273V276M805.1 258V283" stroke="#fcce25" stroke-width="1.7" fill="none"/><path d="M788.3 218V223M789.7 203V208M789.7 227V232M789.7 273V274M791.1 226V232M792.5 282V301M793.9 240V253M793.9 283V289M793.9 305V308M795.3 258V280M796.7 249V276M796.7 298V302M798.1 240V252M798.1 299V304M799.5 239V241M799.5 329V330M800.9 240V243M800.9 321V324M800.9 331V334M803.7 276V282M803.7 288V297M803.7 306V308M805.1 309V311M805.1 327V331M809.3 306V314" stroke="#fbc417" stroke-width="1.7" fill="none"/><path d="M782.7 207V230M784.1 231V263M785.5 254V255M786.9 193V196M788.3 197V202M791.1 305V307M795.3 312V320M803.7 333V336M805.1 255V258M809.3 292V296" stroke="#fdc627" stroke-width="1.7" fill="none"/><path d="M786.9 231V245M788.3 202V218M789.7 232V234M789.7 266V273M791.1 215V226M791.1 232V238M793.9 289V305M795.3 246V258M795.3 280V285M795.3 301V312M796.7 243V249M796.7 276V284M796.7 294V298M798.1 252V282M798.1 294V299M799.5 241V249M799.5 267V286M799.5 322V329M800.9 243V245M800.9 319V321M803.7 282V288M803.7 308V309M803.7 330V333M805.1 311V314M805.1 324V327M809.3 296V306" stroke="#fdba18" stroke-width="1.7" fill="none"/><path d="M785.5 255V256M786.9 196V199M791.1 203V205M791.1 279V287M791.1 302V305M795.3 240V242M796.7 239V241M805.1 252V255" stroke="#febe2a" stroke-width="1.7" fill="none"/><path d="M786.9 226V231M786.9 245V248M789.7 234V236M789.7 263V266M791.1 205V215M791.1 238V241M791.1 267V279M795.3 242V246M795.3 285V301M796.7 241V243M796.7 284V294M798.1 282V294M799.5 249V267M799.5 286V294M799.5 315V322M800.9 245V247M800.9 273V289M800.9 317V319M803.7 309V311M803.7 329V330M805.1 314V317M805.1 321V324" stroke="#fdb11b" stroke-width="1.7" fill="none"/><path d="M785.5 256V257M786.9 199V201M791.1 287V289M791.1 301V302" stroke="#feb72d" stroke-width="1.7" fill="none"/><path d="M786.9 223V226M786.9 248V251M789.7 236V237M789.7 262V263M791.1 241V244M791.1 258V267M799.5 294V315M800.9 247V248M800.9 271V273M800.9 289V291M800.9 316V317M803.7 327V329M805.1 317V321" stroke="#fda81d" stroke-width="1.7" fill="none"/><path d="M785.5 257V258M791.1 289V291M791.1 299V301" stroke="#fdae32" stroke-width="1.7" fill="none"/><path d="M786.9 201V202M786.9 221V223M786.9 251V252M789.7 237V238M789.7 260V262M791.1 244V248M791.1 253V258M800.9 248V249M800.9 270V271M800.9 291V293M800.9 315V316M803.7 311V312M803.7 326V327" stroke="#fc9e21" stroke-width="1.7" fill="none"/><path d="M785.5 258V260M785.5 266V267M791.1 291V294M791.1 296V299" stroke="#fca636" stroke-width="1.7" fill="none"/><path d="M786.9 202V204M786.9 219V221M786.9 252V254M789.7 238V239M789.7 259V260M791.1 248V253M800.9 249V250M800.9 268V270M800.9 293V294M803.7 312V313M803.7 325V326" stroke="#fb9525" stroke-width="1.7" fill="none"/><path d="M785.5 260V261M785.5 264V266M786.9 271V272M791.1 294V296" stroke="#fb9f3a" stroke-width="1.7" fill="none"/><path d="M786.9 204V206M786.9 217V219M786.9 254V255M789.7 239V240M789.7 258V259M800.9 250V251M800.9 267V268M800.9 294V296M800.9 314V315M803.7 313V314M803.7 324V325" stroke="#fa8d28" stroke-width="1.7" fill="none"/><path d="M785.5 261V264M786.9 269V271" stroke="#f9983e" stroke-width="1.7" fill="none"/><path d="M786.9 206V209M786.9 214V217M786.9 255V257M789.7 240V241M789.7 257V258M800.9 266V267M800.9 296V297M800.9 313V314M803.7 314V315M803.7 323V324" stroke="#f8862c" stroke-width="1.7" fill="none"/><path d="M786.9 267V269" stroke="#f79143" stroke-width="1.7" fill="none"/><path d="M786.9 209V214M786.9 257V258M789.7 256V257M800.9 251V252M800.9 265V266M800.9 297V298M800.9 312V313M803.7 315V316M803.7 322V323" stroke="#f57e30" stroke-width="1.7" fill="none"/><path d="M786.9 266V267" stroke="#f58b47" stroke-width="1.7" fill="none"/><path d="M786.9 258V260M789.7 241V242M789.7 255V256M800.9 252V253M800.9 264V265M800.9 311V312M803.7 316V317M803.7 321V322" stroke="#f27734" stroke-width="1.7" fill="none"/><path d="M786.9 265V266" stroke="#f2844b" stroke-width="1.7" fill="none"/><path d="M786.9 260V265M789.7 242V243M800.9 253V254M800.9 263V264M800.9 298V299M803.7 317V321" stroke="#ef7038" stroke-width="1.7" fill="none"/><path d="M789.7 243V244M789.7 254V255M800.9 254V255M800.9 262V263M800.9 299V300M800.9 310V311" stroke="#eb693c" stroke-width="1.7" fill="none"/><path d="M800.9 255V256" stroke="#e8582d" stroke-width="1.7" fill="none"/><path d="M789.7 244V245M789.7 253V254M800.9 256V258M800.9 260V262M800.9 300V301M800.9 309V310" stroke="#e25031" stroke-width="1.7" fill="none"/><path d="M789.7 245V246M789.7 251V253M800.9 258V260M800.9 301V303M800.9 308V309" stroke="#dd4a35" stroke-width="1.7" fill="none"/><path d="M789.7 246V247M800.9 307V308" stroke="#d84439" stroke-width="1.7" fill="none"/><path d="M789.7 247V251M800.9 303V307" stroke="#d2372c" stroke-width="1.7" fill="none"/><path d="M794.5 181h0M794.8 184.5h0M794.5 188h0M791 196.5h0M793.5 195h0M795.5 193.5h0M802 203.5h0M799.5 208.5h0M801.5 211.5h0M803.5 213.5h0M802 217h0M800 219.5h0M803 222h0M804.5 219h0M798 214h0M797 221h0M799.5 226h0M802.5 228.5h0M796 229h0M806 193h0M806.5 197h0" stroke="#fbd724" stroke-width="4" stroke-linecap="round" fill="none"/><path d="M794.3 190.5h0" stroke="#fdc627" stroke-width="4" stroke-linecap="round" fill="none"/><path d="M796 232h0M799 236h0M797.5 242h0M803 246h0M800 251h0M795 246h0" stroke="#feb72d" stroke-width="3.2" stroke-linecap="round" fill="none"/><path d="M801 231h0" stroke="#fbd724" stroke-width="3.2" stroke-linecap="round" fill="none"/><path d="M811 249h0M809.5 255h0" stroke="#fdc627" stroke-width="3.2" stroke-linecap="round" fill="none"/><path d="M809 181L809.9 178.9L812 178L814.1 178.9L815 181L815 202L814.1 204.1L812 205L809.9 204.1L809 202Z" fill="#fbd724" stroke="#fbd724" stroke-width="1.5" stroke-linejoin="round"/><path d="M812.5 181V203" stroke="#f9ce16" stroke-width="1.7" fill="none"/><path d="M823 182.5L824.3 179.3L827.5 178L830.7 179.3L832 182.5L832 200.5L830.7 203.7L827.5 205L824.3 203.7L823 200.5Z" fill="#fbd724" stroke="#fbd724" stroke-width="1.5" stroke-linejoin="round"/><path d="M826.5 181V203M827.9 181V203M829.3 182V202" stroke="#f9ce16" stroke-width="1.7" fill="none"/><path d="M838.5 183L840.6 178.1L845.5 176L850.4 178.1L852.5 183L852.5 199L850.4 203.9L845.5 206L840.6 203.9L838.5 199Z" fill="#fbd724" stroke="#fbd724" stroke-width="1.5" stroke-linejoin="round"/><path d="M843.4 177V180" stroke="#f8df25" stroke-width="1.7" fill="none"/><path d="M843.4 180V189M846.2 181V197" stroke="#f7d817" stroke-width="1.7" fill="none"/><path d="M842 180V198M843.4 189V203M844.8 179V193M846.2 179V181M846.2 197V204M847.6 180V185" stroke="#f9ce16" stroke-width="1.7" fill="none"/><path d="M840.6 181V196M842 203V205M844.8 204V206M847.6 203V206M849 178V180M849 203V205M850.4 203V204" stroke="#fcce25" stroke-width="1.7" fill="none"/><path d="M842 198V203M844.8 193V204M847.6 185V203M849 180V203" stroke="#fbc417" stroke-width="1.7" fill="none"/><path d="M840.6 179V181" stroke="#fdc627" stroke-width="1.7" fill="none"/><path d="M842.7 176.7h0M830.4 186.4h0M835.5 195.5h0M818 191h0M820.5 194h0" stroke="#fbd724" stroke-width="4" stroke-linecap="round" fill="none"/><path d="M808 196L812 193L818 196L824 192L832 195L836 198L840 196L848 198L852 202L853 215L851 228L849 240L848.5 262L848 276L846 280L841 281L836 286L830 289.5L824 288L819 290L814 291.5L810 288L807.5 280L806.5 262L806.5 240L807 215Z" fill="#fbd724" stroke="#fbd724" stroke-width="1.5" stroke-linejoin="round"/><path d="M850.6 201V213M850.6 217V221" stroke="#f0f921" stroke-width="1.7" fill="none"/><path d="M850.6 213V217" stroke="#ecf714" stroke-width="1.7" fill="none"/><path d="M807.2 212V222M807.2 255V271M850.6 221V231" stroke="#f3f027" stroke-width="1.7" fill="none"/><path d="M835.2 211V215" stroke="#f0ed18" stroke-width="1.7" fill="none"/><path d="M807.2 222V228M807.2 253V255M807.2 271V275M810 195V200M828.2 194V196" stroke="#f6e826" stroke-width="1.7" fill="none"/><path d="M810 200V204M828.2 196V200M835.2 201V211M835.2 215V225M835.2 250V273M840.8 207V210M843.6 221V230" stroke="#f4e218" stroke-width="1.7" fill="none"/><path d="M807.2 228V232M807.2 251V253M810 283V289M815.6 195V197M815.6 290V292M828.2 287V290M829.6 195V197M829.6 289V290M835.2 198V200M836.6 199V200M840.8 197V199M842.2 197V199M843.6 279V281M852 205V222" stroke="#f8df25" stroke-width="1.7" fill="none"/><path d="M810 204V210M810 245V263M815.6 197V202M817 245V261M828.2 200V202M828.2 284V287M829.6 197V202M833.8 214V216M833.8 281V282M835.2 200V201M835.2 225V234M835.2 241V250M835.2 273V282M836.6 200V217M836.6 246V263M840.8 199V207M840.8 210V218M840.8 249V264M842.2 199V212M843.6 214V221M843.6 230V240M843.6 273V279M849.2 204V218" stroke="#f7d817" stroke-width="1.7" fill="none"/><path d="M810 210V213M810 242V245M810 263V281M811.4 196V204M811.4 240V263M812.8 196V216M812.8 259V289M814.2 215V240M814.2 271V290M815.6 202V209M815.6 284V289M817 198V203M817 242V245M817 261V274M817 282V289M824 203V225M824 275V286M825.4 195V203M825.4 284V287M826.8 196V205M828.2 202V204M828.2 277V284M829.6 202V205M829.6 225V255M829.6 279V288M833.8 200V214M833.8 216V228M833.8 267V281M833.8 282V286M835.2 234V241M835.2 282V285M836.6 217V224M836.6 238V246M836.6 263V270M838 213V228M838 259V274M839.4 211V250M839.4 277V281M840.8 218V221M840.8 246V249M840.8 264V273M840.8 279V280M842.2 212V223M843.6 208V214M843.6 240V273M845 230V247M846.4 227V250M849.2 202V204M849.2 218V226" stroke="#f9ce16" stroke-width="1.7" fill="none"/><path d="M807.2 235V237M807.2 247V249M808.6 202V224M808.6 257V262M811.4 288V290M814.2 195V197M819.8 288V290M821.2 194V197M824 193V195M832.4 196V198M833.8 197V199M839.4 197V199M842.2 279V281M843.6 197V200M846.4 198V200M846.4 269V278M847.8 267V277M849.2 232V239" stroke="#fcce25" stroke-width="1.7" fill="none"/><path d="M810 213V216M810 239V242M811.4 204V213M811.4 231V240M811.4 263V273M812.8 216V229M812.8 246V259M814.2 205V215M814.2 240V247M814.2 265V271M815.6 209V213M815.6 282V284M817 203V207M817 240V242M817 274V282M818.4 202V230M819.8 198V207M819.8 235V254M819.8 286V288M821.2 197V201M822.6 196V201M824 195V203M824 225V231M824 269V275M825.4 203V212M825.4 228V236M825.4 278V284M826.8 205V208M826.8 264V281M828.2 238V277M829.6 205V206M829.6 220V225M829.6 255V279M831 202V208M832.4 198V215M833.8 199V200M833.8 228V234M833.8 260V267M836.6 224V238M836.6 270V284M838 206V213M838 228V236M838 252V259M838 274V281M839.4 199V211M839.4 250V277M840.8 221V222M840.8 244V246M840.8 273V279M842.2 223V226M842.2 260V279M843.6 200V208M845 223V230M845 247V258M846.4 200V203M846.4 219V227M846.4 250V258M847.8 220V234" stroke="#fbc417" stroke-width="1.7" fill="none"/><path d="M807.2 237V240M807.2 244V247M808.6 224V230M808.6 254V257M811.4 286V288M818.4 196V198M822.6 193V196M822.6 287V289M826.8 287V289M831 195V197M838 198V200M838 282V285M845 278V281M846.4 258V269M847.8 235V241M847.8 260V267" stroke="#fdc627" stroke-width="1.7" fill="none"/><path d="M810 216V218M810 236V239M811.4 213V231M811.4 273V286M812.8 229V246M814.2 197V205M814.2 247V250M814.2 263V265M815.6 213V216M815.6 240V251M815.6 263V269M815.6 280V282M817 207V209M817 238V240M818.4 198V202M818.4 230V249M819.8 207V218M819.8 223V235M819.8 254V261M819.8 283V286M821.2 201V207M821.2 248V264M822.6 201V204M822.6 283V287M824 231V236M824 264V269M825.4 212V228M825.4 236V248M825.4 271V278M826.8 208V211M826.8 254V264M826.8 281V287M828.2 204V205M828.2 234V238M829.6 206V207M829.6 218V220M831 197V202M831 208V218M831 268V286M832.4 215V219M833.8 234V240M833.8 253V260M838 200V206M838 236V252M838 281V282M840.8 222V223M840.8 243V244M842.2 226V228M842.2 254V260M845 220V223M845 258V278M846.4 203V219M847.8 213V220M847.8 234V235" stroke="#fdba18" stroke-width="1.7" fill="none"/><path d="M807.2 240V244M808.6 230V233M808.6 253V254M818.4 288V291M821.2 287V290M831 287V289M832.4 286V289M847.8 198V201M847.8 241V260" stroke="#febe2a" stroke-width="1.7" fill="none"/><path d="M810 218V221M810 234V236M814.2 250V252M814.2 262V263M815.6 216V218M815.6 236V240M815.6 251V253M815.6 261V263M815.6 269V272M815.6 278V280M817 209V212M817 236V238M818.4 249V268M818.4 278V288M819.8 218V223M819.8 261V263M819.8 281V283M821.2 207V210M821.2 232V248M821.2 264V267M821.2 281V287M822.6 204V206M822.6 237V263M822.6 275V283M824 236V241M824 259V264M825.4 248V271M826.8 211V215M826.8 240V254M828.2 205V206M828.2 230V234M829.6 207V209M829.6 217V218M831 218V222M831 264V268M831 286V287M832.4 219V221M832.4 264V268M833.8 240V253M840.8 223V224M840.8 242V243M842.2 228V230M842.2 251V254M845 218V220M847.8 201V213" stroke="#fdb11b" stroke-width="1.7" fill="none"/><path d="M808.6 233V234M808.6 251V253" stroke="#feb72d" stroke-width="1.7" fill="none"/><path d="M810 221V225M810 229V234M814.2 252V253M814.2 261V262M815.6 218V222M815.6 232V236M815.6 253V254M815.6 260V261M815.6 272V278M817 212V214M817 235V236M818.4 268V278M819.8 263V264M819.8 280V281M821.2 210V215M821.2 223V232M821.2 267V270M821.2 277V281M822.6 206V208M822.6 231V237M822.6 263V275M824 241V259M826.8 215V240M828.2 225V230M829.6 209V210M829.6 216V217M831 222V225M831 261V264M832.4 221V223M832.4 262V264M832.4 268V270M832.4 284V286M840.8 224V225M840.8 241V242M842.2 230V232M842.2 249V251M845 216V218" stroke="#fda81d" stroke-width="1.7" fill="none"/><path d="M808.6 234V236M808.6 250V251" stroke="#fdae32" stroke-width="1.7" fill="none"/><path d="M810 225V229M814.2 253V254M814.2 260V261M815.6 222V232M815.6 254V256M815.6 259V260M817 214V215M817 233V235M819.8 264V265M821.2 215V223M821.2 270V277M822.6 208V209M822.6 228V231M828.2 206V207M828.2 222V225M829.6 210V212M829.6 213V216M831 225V227M831 259V261M832.4 223V225M832.4 261V262M832.4 270V272M832.4 283V284M840.8 225V226M840.8 240V241M842.2 232V233M842.2 248V249M845 214V216" stroke="#fc9e21" stroke-width="1.7" fill="none"/><path d="M808.6 236V237M808.6 249V250" stroke="#fca636" stroke-width="1.7" fill="none"/><path d="M814.2 254V255M814.2 259V260M815.6 256V259M817 215V217M817 232V233M819.8 265V266M819.8 279V280M822.6 209V210M822.6 226V228M828.2 221V222M829.6 212V213M831 227V229M831 257V259M832.4 225V226M832.4 259V261M832.4 272V273M832.4 281V283M840.8 226V227M840.8 239V240M842.2 233V235M842.2 246V248M845 212V214" stroke="#fb9525" stroke-width="1.7" fill="none"/><path d="M808.6 237V238M808.6 248V249" stroke="#fb9f3a" stroke-width="1.7" fill="none"/><path d="M814.2 255V259M817 217V219M817 230V232M822.6 210V211M822.6 224V226M828.2 220V221M831 229V231M831 255V257M832.4 226V228M832.4 258V259M832.4 273V274M832.4 280V281M842.2 235V237M842.2 244V246M845 210V212" stroke="#fa8d28" stroke-width="1.7" fill="none"/><path d="M808.6 238V240M808.6 246V248M845 198V200" stroke="#f9983e" stroke-width="1.7" fill="none"/><path d="M817 219V221M817 228V230M819.8 266V267M819.8 278V279M822.6 211V213M822.6 222V224M828.2 207V208M828.2 219V220M831 231V233M831 254V255M832.4 228V229M832.4 257V258M832.4 274V276M832.4 278V280M840.8 227V228M840.8 238V239M842.2 237V244M845 208V210" stroke="#f8862c" stroke-width="1.7" fill="none"/><path d="M808.6 240V242M808.6 244V246" stroke="#f79143" stroke-width="1.7" fill="none"/><path d="M817 221V228M822.6 213V214M822.6 221V222M828.2 218V219M831 233V235M831 252V254M832.4 229V230M832.4 256V257M832.4 276V278M840.8 228V229M840.8 237V238M845 200V208" stroke="#f57e30" stroke-width="1.7" fill="none"/><path d="M808.6 242V244" stroke="#f58b47" stroke-width="1.7" fill="none"/><path d="M819.8 267V268M819.8 277V278M822.6 214V221M828.2 208V209M831 235V237M831 250V252M832.4 230V231M832.4 255V256M840.8 229V230M840.8 236V237" stroke="#f27734" stroke-width="1.7" fill="none"/><path d="M828.2 217V218M831 237V240M831 247V250M832.4 231V232M832.4 254V255M840.8 230V231M840.8 235V236" stroke="#ef7038" stroke-width="1.7" fill="none"/><path d="M819.8 268V269M819.8 276V277M831 240V247M832.4 232V233M832.4 253V254M840.8 231V232M840.8 234V235" stroke="#eb693c" stroke-width="1.7" fill="none"/><path d="M840.8 232V234" stroke="#e8582d" stroke-width="1.7" fill="none"/><path d="M828.2 209V210M828.2 216V217M832.4 233V234M832.4 252V253" stroke="#e25031" stroke-width="1.7" fill="none"/><path d="M819.8 269V270M819.8 275V276M832.4 234V235M832.4 251V252" stroke="#dd4a35" stroke-width="1.7" fill="none"/><path d="M832.4 235V236M832.4 250V251" stroke="#d84439" stroke-width="1.7" fill="none"/><path d="M819.8 270V271M819.8 274V275M828.2 210V211M828.2 215V216M832.4 236V237" stroke="#d2372c" stroke-width="1.7" fill="none"/><path d="M828.2 214V215M832.4 237V238M832.4 248V250" stroke="#cc3230" stroke-width="1.7" fill="none"/><path d="M819.8 271V274M828.2 211V212M832.4 238V239M832.4 247V248" stroke="#c62d33" stroke-width="1.7" fill="none"/><path d="M828.2 212V214M832.4 239V240M832.4 246V247" stroke="#bf2329" stroke-width="1.7" fill="none"/><path d="M832.4 240V246" stroke="#b81f2c" stroke-width="1.7" fill="none"/><path d="M825.9 265.7h0M814.7 278.2h0M815.2 250.9h0M839 264.9h0M828.2 251.2h0M813.4 282.1h0M816.9 253.8h0M835.3 264.2h0" stroke="#fbd724" stroke-width="3.2" stroke-linecap="round" fill="none"/><path d="M819 287.5h0M845.9 285.2h0" stroke="#fdc627" stroke-width="3.2" stroke-linecap="round" fill="none"/><path d="M850 190L856 188L862 190L866 196L866.5 210L865 228L862 240L858 245L853 243L850 236L849 220L849 200Z" fill="#fbd724" stroke="#fbd724" stroke-width="1.5" stroke-linejoin="round"/><path d="M856.7 243V245" stroke="#f6e826" stroke-width="1.7" fill="none"/><path d="M856.7 241V243" stroke="#f4e218" stroke-width="1.7" fill="none"/><path d="M863.7 193V196" stroke="#f8df25" stroke-width="1.7" fill="none"/><path d="M856.7 225V241M858.1 221V243M863.7 196V201" stroke="#f7d817" stroke-width="1.7" fill="none"/><path d="M852.5 192V229M853.9 218V237M855.3 191V198M855.3 229V242M856.7 223V225M858.1 215V221M859.5 192V204M859.5 229V241M860.9 209V220M863.7 201V206" stroke="#f9ce16" stroke-width="1.7" fill="none"/><path d="M849.7 193V205M852.5 237V242M853.9 190V191M853.9 240V244M863.7 226V234" stroke="#fcce25" stroke-width="1.7" fill="none"/><path d="M852.5 229V237M853.9 191V200M853.9 209V218M853.9 237V240M855.3 198V201M855.3 225V229M856.7 221V223M858.1 207V215M859.5 204V229M860.9 196V209M860.9 220V233M862.3 200V229M863.7 206V209" stroke="#fbc417" stroke-width="1.7" fill="none"/><path d="M851.1 190V207M860.9 190V192M860.9 236V242M862.3 191V194M862.3 231V239M863.7 219V226M865.1 195V200" stroke="#fdc627" stroke-width="1.7" fill="none"/><path d="M853.9 200V209M855.3 201V203M855.3 222V225M856.7 220V221M858.1 204V207M860.9 192V196M860.9 233V236M862.3 194V200M862.3 229V231M863.7 209V214" stroke="#fdba18" stroke-width="1.7" fill="none"/><path d="M851.1 207V220M856.7 189V190M858.1 189V190M863.7 218V219M865.1 200V203M866.5 210V211" stroke="#febe2a" stroke-width="1.7" fill="none"/><path d="M855.3 203V205M855.3 221V222M856.7 219V220M858.1 202V204M863.7 214V218" stroke="#fdb11b" stroke-width="1.7" fill="none"/><path d="M851.1 220V239M856.7 190V191M858.1 190V191M865.1 203V206" stroke="#feb72d" stroke-width="1.7" fill="none"/><path d="M855.3 205V206M855.3 219V221M856.7 202V206M856.7 218V219M858.1 201V202" stroke="#fda81d" stroke-width="1.7" fill="none"/><path d="M865.1 206V208" stroke="#fdae32" stroke-width="1.7" fill="none"/><path d="M855.3 206V207M855.3 218V219M856.7 191V192M856.7 200V202M856.7 206V207M856.7 217V218M858.1 191V193M858.1 199V201" stroke="#fc9e21" stroke-width="1.7" fill="none"/><path d="M865.1 208V209" stroke="#fca636" stroke-width="1.7" fill="none"/><path d="M855.3 207V209M855.3 217V218M856.7 192V194M856.7 199V200M856.7 207V209M856.7 216V217M858.1 193V195M858.1 197V199" stroke="#fb9525" stroke-width="1.7" fill="none"/><path d="M865.1 209V211M865.1 221V227" stroke="#fb9f3a" stroke-width="1.7" fill="none"/><path d="M855.3 209V210M855.3 215V217M856.7 194V199M856.7 209V210M856.7 215V216M858.1 195V197" stroke="#fa8d28" stroke-width="1.7" fill="none"/><path d="M865.1 211V215M865.1 217V221" stroke="#f9983e" stroke-width="1.7" fill="none"/><path d="M855.3 210V215M856.7 210V215" stroke="#f8862c" stroke-width="1.7" fill="none"/><path d="M865.1 215V217" stroke="#f79143" stroke-width="1.7" fill="none"/><path d="M861.5 191h0M865.5 195h0M857 196h0M858.5 199h0M856.5 203h0M871 182.5h0M871 185.5h0M871 189h0M871 192h0M864 205h0" stroke="#fbd724" stroke-width="4" stroke-linecap="round" fill="none"/><path d="M861 214h0M858 222h0M860 230h0" stroke="#fdc627" stroke-width="4" stroke-linecap="round" fill="none"/><path d="M876 176L879 172.5L884 172.5L887.5 175L889 181L892 186L893 196L891.5 206L890.5 222L889.5 240L889 262L888 276L887 288L884 291L881 288L880 276L876 273L871 276L866 282L862 280L860.5 270L860 255L861.5 245L864 236L867 226L868 212L870 203L873 197L874.5 188Z" fill="#fbd724" stroke="#fbd724" stroke-width="1.5" stroke-linejoin="round"/><path d="M862.1 243V246M881.7 276V280M891.5 204V207" stroke="#f6e826" stroke-width="1.7" fill="none"/><path d="M878.9 210V240M881.7 212V221M881.7 275V276" stroke="#f4e218" stroke-width="1.7" fill="none"/><path d="M862.1 246V255M862.1 277V281M878.9 173V175M878.9 275V276M881.7 173V175M881.7 280V289M884.5 289V291M887.3 175V180M888.7 256V267M891.5 193V204" stroke="#f8df25" stroke-width="1.7" fill="none"/><path d="M863.5 251V274M866.3 245V256M867.7 244V260M870.5 232V240M873.3 229V236M878.9 198V210M878.9 240V252M881.7 175V179M881.7 203V212M881.7 221V226M881.7 270V275M884.5 179V204M884.5 276V289M888.7 192V215" stroke="#f7d817" stroke-width="1.7" fill="none"/><path d="M863.5 247V251M863.5 274V276M866.3 237V245M866.3 256V264M867.7 233V244M867.7 260V270M869.1 234V254M870.5 225V232M870.5 240V243M870.5 271V275M871.9 222V238M873.3 209V229M873.3 236V242M873.3 260V273M876.1 193V221M876.1 261V271M877.5 220V269M878.9 176V198M878.9 252V273M880.3 211V236M881.7 179V203M881.7 226V228M881.7 268V270M884.5 176V179M884.5 204V218M884.5 271V276M887.3 182V190M887.3 231V241M888.7 185V192M888.7 215V216" stroke="#f9ce16" stroke-width="1.7" fill="none"/><path d="M860.7 257V265M862.1 264V268M863.5 238V243M864.9 280V282M866.3 229V236M866.3 280V282M867.7 217V232M867.7 278V280M869.1 225V227M869.1 278V279M871.9 274V276M873.3 196V201M874.7 196V199M874.7 272V274M876.1 182V192M877.5 272V275M883.1 290V291M885.9 174V178M887.3 242V245M887.3 274V279M888.7 180V183M888.7 225V245M890.1 201V230M892.9 195V197" stroke="#fcce25" stroke-width="1.7" fill="none"/><path d="M864.9 264V280M866.3 236V237M866.3 264V280M867.7 232V233M867.7 270V278M869.1 227V234M869.1 254V263M870.5 217V225M870.5 243V246M870.5 262V271M871.9 215V222M871.9 238V240M871.9 267V274M873.3 201V209M873.3 242V244M873.3 257V260M874.7 199V204M874.7 224V232M874.7 269V272M876.1 192V193M876.1 221V229M876.1 255V261M877.5 201V220M877.5 269V272M880.3 193V211M880.3 236V265M881.7 228V230M881.7 266V268M883.1 187V197M884.5 218V226M884.5 268V271M885.9 206V212M887.3 190V212M887.3 229V231M890.1 200V201" stroke="#fbc417" stroke-width="1.7" fill="none"/><path d="M860.7 251V257M864.9 234V240M869.1 208V225M869.1 276V278M876.1 176V182M877.5 175V182M880.3 173V175M880.3 275V280M883.1 287V290M885.9 289V290M887.3 245V248M887.3 272V274M890.1 183V189" stroke="#fdc627" stroke-width="1.7" fill="none"/><path d="M864.9 255V264M869.1 263V276M870.5 211V217M870.5 246V249M870.5 256V262M871.9 210V215M871.9 240V241M871.9 263V267M873.3 244V247M873.3 254V257M874.7 204V224M874.7 232V234M874.7 259V269M876.1 229V232M876.1 252V255M877.5 182V201M880.3 175V193M880.3 265V275M881.7 230V232M881.7 265V266M883.1 178V187M883.1 197V206M883.1 281V287M884.5 226V230M884.5 248V257M884.5 265V268M885.9 178V185M885.9 199V206M885.9 212V215M887.3 212V215M887.3 227V229M890.1 189V200" stroke="#fdba18" stroke-width="1.7" fill="none"/><path d="M864.9 240V241M870.5 208V211M883.1 173V175M885.9 277V289M887.3 248V251M887.3 270V272" stroke="#febe2a" stroke-width="1.7" fill="none"/><path d="M864.9 241V255M870.5 249V256M871.9 206V210M871.9 241V242M871.9 261V263M873.3 247V254M874.7 234V236M874.7 253V259M876.1 232V234M876.1 250V252M881.7 232V233M881.7 263V265M883.1 175V178M883.1 206V216M883.1 274V281M884.5 230V233M884.5 244V248M884.5 257V265M885.9 185V199M885.9 215V217M887.3 215V218M887.3 226V227" stroke="#fdb11b" stroke-width="1.7" fill="none"/><path d="M870.5 206V208M871.9 202V205M885.9 275V277M887.3 251V253M887.3 268V270" stroke="#feb72d" stroke-width="1.7" fill="none"/><path d="M871.9 205V206M871.9 242V243M871.9 260V261M874.7 236V237M874.7 250V253M876.1 234V236M876.1 249V250M881.7 233V235M881.7 261V263M883.1 216V223M883.1 270V274M884.5 233V244M885.9 217V219M885.9 229V239M887.3 218V221M887.3 223V226" stroke="#fda81d" stroke-width="1.7" fill="none"/><path d="M870.5 204V206M871.9 200V202M887.3 253V255M887.3 267V268" stroke="#fdae32" stroke-width="1.7" fill="none"/><path d="M871.9 243V244M871.9 259V260M874.7 237V239M874.7 248V250M876.1 236V238M876.1 247V249M881.7 235V236M881.7 259V261M883.1 223V225M883.1 266V270M885.9 219V223M885.9 224V229M885.9 239V242M885.9 273V275M887.3 221V223" stroke="#fc9e21" stroke-width="1.7" fill="none"/><path d="M870.5 203V204M887.3 255V257M887.3 265V267" stroke="#fca636" stroke-width="1.7" fill="none"/><path d="M871.9 258V259M874.7 239V240M874.7 247V248M876.1 238V240M876.1 245V247M881.7 236V237M881.7 252V259M883.1 225V227M883.1 264V266M885.9 223V224M885.9 242V244M885.9 272V273" stroke="#fb9525" stroke-width="1.7" fill="none"/><path d="M887.3 257V265" stroke="#fb9f3a" stroke-width="1.7" fill="none"/><path d="M871.9 244V245M871.9 257V258M874.7 240V247M876.1 240V245M881.7 237V239M881.7 247V252M883.1 227V228M883.1 260V264M885.9 244V246M885.9 271V272" stroke="#fa8d28" stroke-width="1.7" fill="none"/><path d="M871.9 245V246M871.9 256V257M881.7 239V242M881.7 243V247M883.1 228V229M883.1 250V260M885.9 246V248M885.9 270V271" stroke="#f8862c" stroke-width="1.7" fill="none"/><path d="M871.9 255V256M881.7 242V243M883.1 229V230M883.1 248V250M885.9 248V249" stroke="#f57e30" stroke-width="1.7" fill="none"/><path d="M871.9 246V247M883.1 230V231M883.1 247V248M885.9 249V251M885.9 269V270" stroke="#f27734" stroke-width="1.7" fill="none"/><path d="M871.9 247V248M871.9 254V255M883.1 231V232M883.1 246V247M885.9 251V252M885.9 268V269" stroke="#ef7038" stroke-width="1.7" fill="none"/><path d="M871.9 248V249M871.9 253V254M883.1 245V246M885.9 252V253" stroke="#eb693c" stroke-width="1.7" fill="none"/><path d="M871.9 249V250M871.9 252V253" stroke="#e8582d" stroke-width="1.7" fill="none"/><path d="M871.9 250V252M883.1 232V233M883.1 244V245M885.9 253V254M885.9 267V268" stroke="#e25031" stroke-width="1.7" fill="none"/><path d="M883.1 233V234M883.1 243V244M885.9 254V255" stroke="#dd4a35" stroke-width="1.7" fill="none"/><path d="M883.1 234V235M883.1 242V243M885.9 266V267" stroke="#d84439" stroke-width="1.7" fill="none"/><path d="M883.1 235V236M883.1 241V242M885.9 255V256" stroke="#d2372c" stroke-width="1.7" fill="none"/><path d="M883.1 236V238M883.1 239V241M885.9 256V257M885.9 265V266" stroke="#cc3230" stroke-width="1.7" fill="none"/><path d="M883.1 238V239" stroke="#c62d33" stroke-width="1.7" fill="none"/><path d="M885.9 257V259M885.9 264V265" stroke="#b81f2c" stroke-width="1.7" fill="none"/><path d="M885.9 259V260M885.9 262V264" stroke="#b11b30" stroke-width="1.7" fill="none"/><path d="M885.9 260V262" stroke="#aa1734" stroke-width="1.7" fill="none"/><path d="M876 187h0M883 187.5h0M888 187h0M893.7 163.9h0M899.2 160h0" stroke="#fbd724" stroke-width="4" stroke-linecap="round" fill="none"/><path d="M897.5 167L900 165L903 166.5L904.5 172L905.5 180L909 183L911.5 188L912 205L911.5 225L910 245L908 262L907 275L905 280L902 281L899.5 278L898.5 268L894 267L890.5 262L889.5 250L890 235L891.5 220L893 205L894 190L895 176Z" fill="#fbd724" stroke="#fbd724" stroke-width="1.5" stroke-linejoin="round"/><path d="M893 263V266" stroke="#f3f027" stroke-width="1.7" fill="none"/><path d="M893 260V263" stroke="#f0ed18" stroke-width="1.7" fill="none"/><path d="M900 268V269M905.6 181V183M908.4 183V187" stroke="#f6e826" stroke-width="1.7" fill="none"/><path d="M893 243V260M900 255V268M905.6 183V206" stroke="#f4e218" stroke-width="1.7" fill="none"/><path d="M893 205V206M895.8 174V194M895.8 266V268M900 166V168M900 269V278M905.6 267V279M908.4 244V259" stroke="#f8df25" stroke-width="1.7" fill="none"/><path d="M893 228V243M895.8 251V266M900 247V255M905.6 206V212M908.4 187V199" stroke="#f7d817" stroke-width="1.7" fill="none"/><path d="M894.4 252V262M895.8 197V208M895.8 244V251M898.6 195V208M898.6 250V262M900 168V187M900 240V247M902.8 182V185M905.6 212V215M905.6 253V265M908.4 199V215" stroke="#f9ce16" stroke-width="1.7" fill="none"/><path d="M891.6 219V222M891.6 240V249M893 212V220M894.4 191V203M894.4 265V268M897.2 170V177M898.6 267V269M901.4 277V281M902.8 172V176M902.8 279V281M904.2 277V281M908.4 238V240M909.8 195V205M909.8 206V212M911.2 197V224" stroke="#fcce25" stroke-width="1.7" fill="none"/><path d="M894.4 243V252M894.4 262V265M895.8 208V244M897.2 177V185M898.6 187V195M898.6 208V217M898.6 243V250M898.6 262V267M900 187V192M900 223V240M902.8 176V182M902.8 185V195M902.8 274V279M904.2 189V211M904.2 272V277M905.6 215V218M905.6 248V253M908.4 215V221M908.4 236V238M909.8 205V206" stroke="#fbc417" stroke-width="1.7" fill="none"/><path d="M891.6 222V240M894.4 185V191M894.4 203V206M897.2 169V170M897.2 266V268M898.6 167V171M901.4 275V277M902.8 167V172M904.2 175V181M907 275V276M909.8 212V218M911.2 188V197M911.2 224V230" stroke="#fdc627" stroke-width="1.7" fill="none"/><path d="M894.4 234V243M897.2 185V192M897.2 211V223M897.2 262V266M898.6 171V187M898.6 217V227M898.6 233V243M900 192V195M900 219V223M901.4 180V194M901.4 238V247M901.4 270V275M902.8 195V203M902.8 272V274M904.2 181V189M904.2 211V215M904.2 266V272M905.6 218V220M905.6 244V248M908.4 221V236" stroke="#fdba18" stroke-width="1.7" fill="none"/><path d="M894.4 206V208M901.4 166V169M904.2 171V175M907 182V184M907 266V275M909.8 218V223M909.8 244V247" stroke="#febe2a" stroke-width="1.7" fill="none"/><path d="M894.4 228V234M897.2 192V211M897.2 223V225M897.2 259V262M898.6 227V233M900 195V197M900 217V219M901.4 169V180M901.4 194V197M901.4 230V238M901.4 247V257M901.4 262V270M902.8 203V223M902.8 271V272M904.2 215V218M904.2 260V266M905.6 220V222M905.6 241V244M907 184V189" stroke="#fdb11b" stroke-width="1.7" fill="none"/><path d="M894.4 208V209M907 252V266M909.8 223V229M909.8 236V244" stroke="#feb72d" stroke-width="1.7" fill="none"/><path d="M894.4 225V228M897.2 225V227M897.2 257V259M900 197V198M900 215V217M901.4 197V200M901.4 224V230M901.4 257V262M902.8 223V243M902.8 269V271M904.2 218V220M904.2 247V260M905.6 222V224M905.6 239V241M907 189V216M907 250V252" stroke="#fda81d" stroke-width="1.7" fill="none"/><path d="M894.4 209V211M909.8 229V236" stroke="#fdae32" stroke-width="1.7" fill="none"/><path d="M894.4 222V225M897.2 227V228M897.2 255V257M900 198V200M900 213V215M901.4 200V202M901.4 218V224M902.8 243V246M902.8 268V269M904.2 220V223M904.2 242V247M905.6 224V227M905.6 235V239M907 216V220M907 244V250" stroke="#fc9e21" stroke-width="1.7" fill="none"/><path d="M894.4 211V214" stroke="#fca636" stroke-width="1.7" fill="none"/><path d="M894.4 219V222M897.2 228V230M897.2 254V255M900 200V202M900 211V213M901.4 202V206M901.4 213V218M902.8 246V247M902.8 267V268M904.2 223V226M904.2 238V242M905.6 227V235M907 220V223M907 240V244" stroke="#fb9525" stroke-width="1.7" fill="none"/><path d="M894.4 214V219M897.2 230V231M897.2 252V254M900 202V206M900 207V211M901.4 206V213M902.8 247V249M902.8 266V267M904.2 226V238M907 223V227M907 236V240" stroke="#fa8d28" stroke-width="1.7" fill="none"/><path d="M897.2 231V232M897.2 251V252M900 206V207M902.8 249V250M907 227V236" stroke="#f8862c" stroke-width="1.7" fill="none"/><path d="M897.2 232V233M897.2 250V251M902.8 250V251M902.8 265V266" stroke="#f57e30" stroke-width="1.7" fill="none"/><path d="M897.2 233V234M897.2 249V250M902.8 251V252M902.8 264V265" stroke="#f27734" stroke-width="1.7" fill="none"/><path d="M897.2 234V235M897.2 248V249M902.8 252V253M902.8 263V264" stroke="#ef7038" stroke-width="1.7" fill="none"/><path d="M897.2 235V236M897.2 246V248M902.8 253V254M902.8 262V263" stroke="#eb693c" stroke-width="1.7" fill="none"/><path d="M897.2 236V238M897.2 244V246M902.8 254V256M902.8 260V262" stroke="#e25031" stroke-width="1.7" fill="none"/><path d="M897.2 238V244M902.8 256V260" stroke="#dd4a35" stroke-width="1.7" fill="none"/><path d="M911 207L916 205L921 209L926 206L931 210L932 225L931.5 245L930 252L926 255L921 257.5L916 258L912 255L909.5 248L909 230L910 215Z" fill="#fcce25" stroke="#fcce25" stroke-width="1.5" stroke-linejoin="round"/><path d="M920.9 238V253" stroke="#f1dd0f" stroke-width="1.7" fill="none"/><path d="M915.3 256V258M920.9 209V212M920.9 256V258" stroke="#f8df25" stroke-width="1.7" fill="none"/><path d="M915.3 243V256M920.9 212V214M920.9 231V238M920.9 253V256" stroke="#f5d10e" stroke-width="1.7" fill="none"/><path d="M915.3 206V208M918.1 256V257M925.1 207V209M926.5 253V255" stroke="#fbd724" stroke-width="1.7" fill="none"/><path d="M912.5 239V248M915.3 239V243M918.1 242V256M919.5 240V255M920.9 214V231M922.3 211V218M925.1 209V224M926.5 246V253" stroke="#f8c50e" stroke-width="1.7" fill="none"/><path d="M912.5 213V223M912.5 233V239M912.5 248V251M913.9 209V211M913.9 246V255M915.3 208V214M915.3 237V239M918.1 239V242M919.5 235V240M919.5 255V256M922.3 218V227M922.3 254V255M923.7 211V229M925.1 224V230M926.5 209V217M926.5 241V246M927.9 246V252M929.3 218V222" stroke="#fbba0e" stroke-width="1.7" fill="none"/><path d="M909.7 224V249M911.1 221V230M911.1 235V253M916.7 256V258M918.1 207V209M923.7 208V210M925.1 254V256M927.9 208V210M929.3 209V211M929.3 251V253M930.7 210V214M930.7 234V245" stroke="#fdc627" stroke-width="1.7" fill="none"/><path d="M912.5 223V233M913.9 211V215M913.9 242V246M915.3 214V217M915.3 235V237M916.7 239V256M918.1 238V239M919.5 232V235M922.3 227V235M922.3 247V254M923.7 210V211M923.7 229V232M925.1 230V235M925.1 252V254M926.5 217V226M926.5 236V241M927.9 210V222M927.9 244V246M929.3 222V226" stroke="#fcaf0f" stroke-width="1.7" fill="none"/><path d="M911.1 230V235M919.5 208V210M929.3 246V251M930.7 245V249" stroke="#febe2a" stroke-width="1.7" fill="none"/><path d="M913.9 215V218M913.9 239V242M915.3 217V219M915.3 233V235M916.7 237V239M918.1 209V211M918.1 237V238M919.5 210V211M919.5 230V232M922.3 235V247M923.7 232V235M925.1 235V241M925.1 246V252M926.5 226V236M927.9 222V225M927.9 242V244M929.3 226V230M929.3 243V246" stroke="#fda511" stroke-width="1.7" fill="none"/><path d="M913.9 218V220M913.9 237V239M915.3 219V221M915.3 231V233M916.7 235V237M918.1 211V213M918.1 235V237M919.5 211V212M919.5 228V230M923.7 235V237M925.1 241V246M927.9 225V226M927.9 240V242M929.3 230V243" stroke="#fd9b13" stroke-width="1.7" fill="none"/><path d="M916.7 206V207" stroke="#fdae32" stroke-width="1.7" fill="none"/><path d="M913.9 220V222M913.9 235V237M915.3 221V224M915.3 229V231M916.7 234V235M918.1 213V214M919.5 212V214M919.5 227V228M923.7 237V239M927.9 226V228M927.9 239V240" stroke="#fc8f16" stroke-width="1.7" fill="none"/><path d="M916.7 207V208M923.7 255V257" stroke="#fca636" stroke-width="1.7" fill="none"/><path d="M913.9 222V224M913.9 233V235M915.3 224V229M916.7 208V210M916.7 233V234M918.1 214V215M918.1 234V235M919.5 214V215M919.5 225V227M923.7 239V241M927.9 228V230M927.9 237V239" stroke="#fb8619" stroke-width="1.7" fill="none"/><path d="M923.7 254V255" stroke="#fb9f3a" stroke-width="1.7" fill="none"/><path d="M913.9 224V233M916.7 210V212M916.7 232V233M918.1 215V216M918.1 233V234M919.5 215V216M919.5 224V225M923.7 241V243M923.7 252V254M927.9 230V237" stroke="#f97e1c" stroke-width="1.7" fill="none"/><path d="M916.7 212V213M916.7 231V232M918.1 216V217M918.1 232V233M919.5 216V218M919.5 222V224M923.7 243V252" stroke="#f6761f" stroke-width="1.7" fill="none"/><path d="M916.7 213V214M916.7 230V231M918.1 217V218M919.5 218V222" stroke="#f36e22" stroke-width="1.7" fill="none"/><path d="M916.7 214V215M916.7 229V230M918.1 218V219M918.1 231V232" stroke="#f06626" stroke-width="1.7" fill="none"/><path d="M916.7 215V216M918.1 219V220M918.1 230V231" stroke="#ec5f29" stroke-width="1.7" fill="none"/><path d="M916.7 216V217M916.7 228V229M918.1 220V221M918.1 229V230" stroke="#e8582d" stroke-width="1.7" fill="none"/><path d="M916.7 217V218M916.7 227V228M918.1 221V223M918.1 228V229" stroke="#de4225" stroke-width="1.7" fill="none"/><path d="M916.7 218V220M916.7 225V227M918.1 223V228" stroke="#d83c29" stroke-width="1.7" fill="none"/><path d="M916.7 220V221M916.7 224V225" stroke="#cd2c22" stroke-width="1.7" fill="none"/><path d="M916.7 221V224" stroke="#c62725" stroke-width="1.7" fill="none"/><path d="M920.2 207.4h0" stroke="#fbd724" stroke-width="4" stroke-linecap="round" fill="none"/><path d="M920.6 250.8L922.6 246.7L926.8 245L930.7 246.7L932.1 250.8L929.9 279.2L927.9 283.3L923.8 285L919.8 283.3L918.4 279.2Z" fill="#fcce25" stroke="#fcce25" stroke-width="1.5" stroke-linejoin="round"/><path d="M931.7 250V256" stroke="#f6e826" stroke-width="1.7" fill="none"/><path d="M928.9 247V249M928.9 264V282" stroke="#f8df25" stroke-width="1.7" fill="none"/><path d="M924.7 265V272M928.9 249V264" stroke="#f7d817" stroke-width="1.7" fill="none"/><path d="M921.9 249V251M921.9 282V285M923.3 283V285M924.7 283V285M926.1 282V285M927.5 246V248M928.9 246V247M930.3 247V262" stroke="#fbd724" stroke-width="1.7" fill="none"/><path d="M921.9 276V282M923.3 274V283M924.7 262V265M924.7 272V283M926.1 254V264M927.5 248V249" stroke="#f9ce16" stroke-width="1.7" fill="none"/><path d="M921.9 270V276M923.3 267V274M924.7 260V262M926.1 248V254M926.1 264V267M926.1 280V282M927.5 249V258" stroke="#fbc417" stroke-width="1.7" fill="none"/><path d="M919.1 271V282M920.5 275V280M921.9 255V259M927.5 281V283" stroke="#fdc627" stroke-width="1.7" fill="none"/><path d="M921.9 265V270M923.3 263V267M924.7 258V260M926.1 267V268M926.1 278V280M927.5 258V263" stroke="#fdba18" stroke-width="1.7" fill="none"/><path d="M920.5 272V275M921.9 259V263M923.3 247V248M924.7 246V249M927.5 280V281" stroke="#febe2a" stroke-width="1.7" fill="none"/><path d="M921.9 263V265M923.3 261V263M924.7 256V258M926.1 268V270M926.1 277V278M927.5 263V266M927.5 279V280" stroke="#fdb11b" stroke-width="1.7" fill="none"/><path d="M920.5 253V255M920.5 270V272M923.3 248V250" stroke="#feb72d" stroke-width="1.7" fill="none"/><path d="M923.3 258V261M924.7 249V256M926.1 270V272M926.1 275V277M927.5 266V268M927.5 278V279" stroke="#fda81d" stroke-width="1.7" fill="none"/><path d="M920.5 255V257M920.5 268V270" stroke="#fdae32" stroke-width="1.7" fill="none"/><path d="M923.3 250V258M926.1 272V275M927.5 268V269M927.5 277V278" stroke="#fc9e21" stroke-width="1.7" fill="none"/><path d="M920.5 257V259M920.5 266V268" stroke="#fca636" stroke-width="1.7" fill="none"/><path d="M927.5 269V271M927.5 275V277" stroke="#fb9525" stroke-width="1.7" fill="none"/><path d="M920.5 259V266" stroke="#fb9f3a" stroke-width="1.7" fill="none"/><path d="M927.5 271V275" stroke="#fa8d28" stroke-width="1.7" fill="none"/><path d="M890.8 180L889.6 215M875.5 274L876 284" stroke="#fff" stroke-width="2.2" stroke-linecap="round" fill="none"/><path d="M889.6 215L889 244M884 212L884.5 226M896 268L896.5 280" stroke="#fff" stroke-width="1.8" stroke-linecap="round" fill="none"/><path d="M875 200L873.5 222M844.5 234L846 246M846.5 240L847 250M917.5 256L917 262" stroke="#fff" stroke-width="2.5" stroke-linecap="round" fill="none"/><path d="M873.5 207L872 226M816.5 181L817 195M820 181L820.5 193" stroke="#fff" stroke-width="2" stroke-linecap="round" fill="none"/><path d="M868 214L866.5 232M806 203L806.5 232M912.5 192L912 204M948 199L948.5 206M869 268L868.5 279" stroke="#fff" stroke-width="1.6" stroke-linecap="round" fill="none"/><path d="M807.2 232L807.5 262M822 284L822.5 290M909 250L909.3 258" stroke="#fff" stroke-width="1.2" stroke-linecap="round" fill="none"/><path d="M789.5 203L790 232M879.5 226L878.5 240M958.5 214L960 236M863.5 262L862.5 278" stroke="#fff" stroke-width="1.4" stroke-linecap="round" fill="none"/><path d="M834.5 181L835 196" stroke="#fff" stroke-width="2.4" stroke-linecap="round" fill="none"/><path d="M934.5 200L935 290" stroke="#fff" stroke-width="0.9" stroke-linecap="round" fill="none"/><path d="M812.5 282L813 290M838.5 279L839 286" stroke="#fff" stroke-width="1.5" stroke-linecap="round" fill="none"/><path d="M874.9 230.6L874.3 235.9M875.2 239L874.5 244.7M870.1 225.6L869.5 230.4M861.6 230.2L861.3 232.3" stroke="#fff" stroke-width="1.6" stroke-linecap="round" fill="none"/><path d="M883.8 227.3L883.1 233.1M887.5 218.2L886.9 222.9M875.7 211.9L875.2 216M888.8 213.6L888.2 219.3" stroke="#fff" stroke-width="1.1" stroke-linecap="round" fill="none"/><path d="M883.7 253.6L883.4 256.3M875.8 191.1L875.2 195.8M889.4 207L888.8 211.3M860.6 202.6L860.3 205M889.8 194.9L889.1 200.1M860 197L859.8 199.1" stroke="#fff" stroke-width="1.8" stroke-linecap="round" fill="none"/><path d="M880.3 197L879.7 202M887.9 246.5L887.3 251.7M869.3 194.7L868.7 199.1M879.7 273L879.3 276.5M887.9 207.2L887.6 209.4M864.9 267.7L864.2 273.3M866.1 236.5L865.5 241.6M874.3 261.2L873.9 264.6" stroke="#fff" stroke-width="1.5" stroke-linecap="round" fill="none"/><path d="M874 226.9L873.6 230" stroke="#fff" stroke-width="1.7" stroke-linecap="round" fill="none"/><path d="M882.7 213.5L882.3 216.6M862 257.5L861.3 263" stroke="#fff" stroke-width="1.2" stroke-linecap="round" fill="none"/><path d="M879.9 254.4L879.6 256.5" stroke="#fff" stroke-width="1" stroke-linecap="round" fill="none"/><path d="M803.5 209.7L804.2 214.3M786.8 229.3L787.2 232.3" stroke="#fff" stroke-width="1.2" stroke-linecap="round" fill="none"/><path d="M796.7 240.9L797.3 244.5M804 217.1L804.8 222.2M794.9 269.3L795.7 274.3M796.8 258.7L797.3 262.6" stroke="#fff" stroke-width="1.4" stroke-linecap="round" fill="none"/><path d="M795.1 282.4L795.9 287.5M805.9 211.7L806.7 216.7M799.3 266.5L800.1 271.6" stroke="#fff" stroke-width="1.3" stroke-linecap="round" fill="none"/><path d="M790.1 268.6L790.6 272M797.2 281.6L798 286.9M794.4 220.3L794.7 222.6M804.1 294.3L804.5 297M798.1 214L798.4 216.2" stroke="#fff" stroke-width="1.1" stroke-linecap="round" fill="none"/><path d="M801.4 238.5L801.9 241.8M802.8 285.2L803.5 289.7" stroke="#fff" stroke-width="1.5" stroke-linecap="round" fill="none"/><path d="M818.5 228.8L819.5 233.9M844.9 273.9L845.9 278.9" stroke="#fff" stroke-width="1.3" stroke-linecap="round" fill="none"/><path d="M824.7 260.5L825.9 266.4M839.7 285.2L840.6 289.6M838.9 239.7L839.9 245M808.1 259L809.2 264.1" stroke="#fff" stroke-width="1.2" stroke-linecap="round" fill="none"/><path d="M845 280.3L845.5 282.9" stroke="#fff" stroke-width="1" stroke-linecap="round" fill="none"/><path d="M938.2 227.5L938.5 229.5M949.6 211.7L950 213.8" stroke="#fff" stroke-width="0.9" stroke-linecap="round" fill="none"/><path d="M950.9 221.6L951.4 224.8M940.5 241.8L941.1 246.1" stroke="#fff" stroke-width="1" stroke-linecap="round" fill="none"/><path d="M958.1 248.4L958.6 251.9M960.8 256L961.3 259.8M943.4 253.4L943.8 256.4" stroke="#fff" stroke-width="1.2" stroke-linecap="round" fill="none"/><path d="M939.5 235.5L939.9 237.9" stroke="#fff" stroke-width="1.1" stroke-linecap="round" fill="none"/><path d="M942.7 198.7L943.1 201.7M957.3 203.8L957.9 208.2" stroke="#fff" stroke-width="1.3" stroke-linecap="round" fill="none"/><path d="M1015 280.7L1015.5 283.9" stroke="#fff" stroke-width="1.9" stroke-linecap="round" fill="none"/><path d="M1034.2 266.5L1034.6 269.5M1029 248L1029.2 249.2M1037.7 264.4L1038 266.4" stroke="#fff" stroke-width="1.3" stroke-linecap="round" fill="none"/><path d="M1023.7 265.7L1024 267.4M1019.4 278.4L1019.9 281.4M1037.7 245.4L1038.1 248" stroke="#fff" stroke-width="1.4" stroke-linecap="round" fill="none"/><path d="M1021.9 242.6L1022.3 245.2M1021.7 262.5L1022.1 265.1" stroke="#fff" stroke-width="1.6" stroke-linecap="round" fill="none"/><path d="M1020.9 248.5L1021.4 251.8M1037.6 257.8L1038 260.9M1015.1 278.7L1015.7 282.7" stroke="#fff" stroke-width="1.8" stroke-linecap="round" fill="none"/><path d="M1024 268.8L1024.4 271.5M1018.5 244.1L1019.1 247.7" stroke="#fff" stroke-width="1.7" stroke-linecap="round" fill="none"/><path d="M1023.1 265.4L1023.6 268.8M1024.1 273.2L1024.7 277.1" stroke="#fff" stroke-width="1.2" stroke-linecap="round" fill="none"/><path d="M899.4 223.4L900.2 228.3" stroke="#fff" stroke-width="0.9" stroke-linecap="round" fill="none"/><path d="M893.3 193L893.8 196.7" stroke="#fff" stroke-width="1.2" stroke-linecap="round" fill="none"/><path d="M897.2 199.3L898.4 207.3M909.4 206.6L910.5 213.7M908.8 201.3L909.3 204.6" stroke="#fff" stroke-width="1" stroke-linecap="round" fill="none"/><path d="M899.3 202.7L900.4 210.5M907.2 245.8L908.2 252.2" stroke="#fff" stroke-width="1.1" stroke-linecap="round" fill="none"/><path d="M880.1 203.8h0M872.8 248.1h0M875.7 201h0M887.4 272.7h0M888.6 237.5h0M867 219.9h0M879.9 251.8h0M865.2 226h0M881.2 246.3h0M889.6 227.9h0M869.8 208.3h0M871.2 277.9h0" stroke="#fdc627" stroke-width="4" stroke-linecap="round" fill="none"/><path d="M868.5 232.4h0M883.3 208.8h0M881.8 223.8h0M872.9 269.7h0" stroke="#fbd724" stroke-width="4" stroke-linecap="round" fill="none"/><path d="M802.4 220.4h0M798.5 208.3h0M797.6 221h0M801.6 214.2h0M796.7 227.3h0M788.4 205.8h0" stroke="#fdc627" stroke-width="4" stroke-linecap="round" fill="none"/><path d="M804.5 207.1h0M793.5 221.4h0" stroke="#fbd724" stroke-width="4" stroke-linecap="round" fill="none"/><path d="M933.6 73.5h0M933.6 75.8h0M933.5 77.7h0M933.4 81.2h0M933.4 83.2h0M933.7 85.5h0M933.4 86.9h0M933.5 88.2h0M933.6 89.5h0M933.6 91.7h0M933.7 93.5h0M933.8 95.1h0M933.7 97.2h0M933.6 100.8h0M933.8 102.5h0M933.5 103.8h0M933.8 105.5h0M933.7 106.9h0M933.4 108.4h0M933.5 114.4h0M933.5 116.1h0M933.5 119.2h0M933.7 121.5h0M933.5 123.8h0" stroke="#fbd724" stroke-width="4.9" stroke-linecap="round" fill="none"/><path d="M933.7 79.6h0M933.5 98.7h0M933.7 110.7h0M933.4 112.3h0M933.7 117.5h0M933.7 125.9h0" stroke="#f6e826" stroke-width="4.9" stroke-linecap="round" fill="none"/><path d="M933.6 146h0M933.5 149.6h0M933.6 151.7h0M933.5 153.6h0M933.4 157.2h0M933.6 158.8h0M933.4 160.1h0M933.4 161.9h0M933.4 164.2h0M933.5 165.6h0M933.7 168.5h0M933.6 170.2h0M933.4 171.9h0M933.8 174.2h0M933.5 175.8h0M933.4 177.8h0M933.6 179.5h0M933.4 181.3h0M933.6 183h0M933.6 184.7h0M933.4 188.1h0M933.5 191.5h0M933.8 193.3h0M933.5 195.5h0M933.5 197.2h0M933.4 199.4h0M933.5 201.5h0M933.4 202.8h0M933.8 205.1h0M933.5 206.4h0M933.7 208.6h0M933.6 210.4h0M933.8 211.9h0M933.5 213.4h0M933.8 214.9h0M933.7 217h0M933.5 218.5h0M933.5 220.5h0M933.5 222.2h0M933.6 224.6h0M933.8 226.8h0M933.6 228.5h0M933.6 230.6h0M933.7 232.3h0M933.7 233.6h0M933.8 235.7h0M933.7 237.5h0M933.5 238.9h0M933.7 241.2h0M933.4 243.1h0M933.6 245.1h0M933.5 246.8h0M933.4 248.2h0M933.7 250.2h0M933.5 256.3h0M933.5 259.5h0M933.5 261.3h0M933.6 264.8h0M933.6 266.4h0M933.5 268.5h0M933.6 270.6h0M933.8 272.6h0M933.5 274.6h0M933.6 276.2h0M933.5 277.8h0M933.5 281.8h0M933.6 283.7h0M933.7 287.8h0M933.6 289.9h0M933.6 291.5h0M933.6 293.2h0M933.5 294.6h0" stroke="#fbd724" stroke-width="4.9" stroke-linecap="round" fill="none"/><path d="M933.5 148h0M933.8 155.1h0M933.7 167h0M933.6 186.1h0M933.7 189.7h0M933.5 252.5h0M933.6 254.3h0M933.8 257.9h0M933.7 263.1h0M933.5 279.6h0M933.5 285.9h0M933.6 296.9h0" stroke="#f6e826" stroke-width="4.9" stroke-linecap="round" fill="none"/><path d="M933.7 76h0M933.7 79.5h0M933.7 81.6h0M933.7 83.1h0M933.7 86.8h0M933.9 88.9h0" stroke="#fbd724" stroke-width="4.4" stroke-linecap="round" fill="none"/><path d="M933.9 78h0M933.8 85.2h0" stroke="#f6e826" stroke-width="4.4" stroke-linecap="round" fill="none"/><path d="M933.6 131h0M933.6 134.5h0M933.6 142h0" stroke="#fbd724" stroke-width="4.8" stroke-linecap="round" fill="none"/><path d="M933.6 303.5h0M933.6 306h0M933.6 309h0M933.6 311.5h0M933.6 321.5h0M933.6 324h0M933.6 326.5h0M933.6 329h0" stroke="#fbd724" stroke-width="5" stroke-linecap="round" fill="none"/><path d="M933.6 100h0M933.6 103h0M933.6 106h0M933.6 109h0M933.6 112h0" stroke="#feb72d" stroke-width="5" stroke-linecap="round" fill="none"/><path d="M937 193L941 191L946 193L949 197L951 192L955 191L957 196L957.5 210L958.5 225L960 240L962 252L962 268L960 274L956 277L950 278L944 276L939 277.5L936.5 272L936 255L936 235L936 215L936 200Z" fill="#fbd724" stroke="#fbd724" stroke-width="1.5" stroke-linejoin="round"/><path d="M954.9 275V278M960.5 243V260M960.5 270V273M961.9 252V254" stroke="#f8df25" stroke-width="1.7" fill="none"/><path d="M940.9 228V252M949.3 207V224M954.9 272V275" stroke="#f7d817" stroke-width="1.7" fill="none"/><path d="M940.9 194V198M940.9 223V228M940.9 252V262M942.3 198V210M942.3 251V262M945.1 195V199M945.1 211V224M946.5 212V224M947.9 198V212M947.9 248V273M949.3 199V207M949.3 224V228M950.7 217V233M950.7 247V260M952.1 209V233M953.5 235V260M954.9 199V221M954.9 259V272M956.3 237V275M957.7 243V258M959.1 248V254" stroke="#f9ce16" stroke-width="1.7" fill="none"/><path d="M936.7 196V206M936.7 231V243M936.7 267V273M938.1 197V214M940.9 275V277M942.3 192V194M946.5 194V197M947.9 276V278M949.3 276V278M950.7 193V197M950.7 276V278M952.1 194V195M953.5 276V278M956.3 195V199M956.3 223V225M956.3 275V277M957.7 234V239M959.1 231V246M961.9 267V269" stroke="#fcce25" stroke-width="1.7" fill="none"/><path d="M939.5 228V256M940.9 198V207M940.9 220V223M940.9 262V275M942.3 194V198M942.3 210V219M942.3 244V251M942.3 262V271M945.1 199V211M945.1 224V226M946.5 197V212M946.5 224V226M946.5 249V264M947.9 212V221M947.9 245V248M947.9 273V276M949.3 228V230M949.3 242V276M950.7 197V217M950.7 233V236M950.7 246V247M950.7 260V276M952.1 195V209M952.1 233V235M952.1 249V258M953.5 233V235M953.5 260V276M954.9 221V224M954.9 235V259M956.3 225V237M957.7 239V243M957.7 258V267M959.1 254V257" stroke="#fbc417" stroke-width="1.7" fill="none"/><path d="M936.7 243V267M938.1 193V197M938.1 214V234M939.5 192V194M942.3 275V277M943.7 193V194M946.5 275V277M952.1 192V194M952.1 276V278M953.5 192V194M956.3 199V223M957.7 213V234M957.7 274V276M959.1 271V275" stroke="#fdc627" stroke-width="1.7" fill="none"/><path d="M939.5 225V228M939.5 256V270M940.9 207V212M940.9 217V220M942.3 219V227M942.3 240V244M942.3 271V275M945.1 226V228M946.5 226V228M946.5 245V249M946.5 264V269M946.5 273V275M947.9 221V225M947.9 244V245M949.3 230V232M949.3 240V242M950.7 236V238M950.7 244V246M952.1 235V236M952.1 247V249M952.1 258V276M953.5 194V195M953.5 222V225M953.5 230V233M954.9 224V226M954.9 233V235M957.7 267V274M959.1 257V259" stroke="#fdba18" stroke-width="1.7" fill="none"/><path d="M938.1 234V276M939.5 274V278M943.7 194V195M945.1 275V277" stroke="#febe2a" stroke-width="1.7" fill="none"/><path d="M939.5 194V205M939.5 223V225M939.5 270V274M940.9 212V217M942.3 227V240M943.7 195V205M943.7 216V228M943.7 241V252M943.7 254V266M945.1 228V229M945.1 259V266M945.1 274V275M946.5 228V229M946.5 243V245M946.5 269V273M947.9 225V227M947.9 242V244M949.3 232V240M950.7 238V240M950.7 242V244M952.1 236V237M952.1 246V247M953.5 195V199M953.5 219V222M953.5 225V230M954.9 226V233M959.1 259V261M959.1 268V271" stroke="#fdb11b" stroke-width="1.7" fill="none"/><path d="M943.7 274V277" stroke="#feb72d" stroke-width="1.7" fill="none"/><path d="M939.5 205V208M939.5 221V223M943.7 205V216M943.7 228V231M943.7 239V241M943.7 252V254M943.7 266V274M945.1 229V230M945.1 258V259M945.1 266V274M946.5 229V230M946.5 242V243M947.9 227V229M947.9 241V242M950.7 240V242M952.1 237V238M952.1 245V246M953.5 199V202M953.5 216V219M959.1 261V268" stroke="#fda81d" stroke-width="1.7" fill="none"/><path d="M939.5 208V211M939.5 219V221M943.7 231V239M945.1 230V231M945.1 240V245M945.1 257V258M946.5 241V242M947.9 229V230M947.9 240V241M952.1 238V239M952.1 244V245M953.5 202V205M953.5 213V216" stroke="#fc9e21" stroke-width="1.7" fill="none"/><path d="M939.5 211V214M939.5 216V219M945.1 231V233M945.1 239V240M945.1 245V246M946.5 230V231M946.5 240V241M947.9 230V231M947.9 239V240M952.1 239V240M952.1 243V244M953.5 205V213" stroke="#fb9525" stroke-width="1.7" fill="none"/><path d="M939.5 214V216M945.1 233V235M945.1 237V239M945.1 246V247M945.1 256V257M946.5 231V232M946.5 239V240M947.9 231V233M947.9 238V239M952.1 240V243" stroke="#fa8d28" stroke-width="1.7" fill="none"/><path d="M945.1 235V237M945.1 247V248M945.1 255V256M946.5 232V233M946.5 238V239M947.9 233V238" stroke="#f8862c" stroke-width="1.7" fill="none"/><path d="M946.5 233V238" stroke="#f57e30" stroke-width="1.7" fill="none"/><path d="M945.1 248V249M945.1 254V255" stroke="#f27734" stroke-width="1.7" fill="none"/><path d="M945.1 249V250M945.1 253V254" stroke="#ef7038" stroke-width="1.7" fill="none"/><path d="M945.1 250V253" stroke="#eb693c" stroke-width="1.7" fill="none"/><path d="M953.4 187h0" stroke="#fbd724" stroke-width="4" stroke-linecap="round" fill="none"/><path d="M950.5 193.5h0M950.8 196.5h0" stroke="#fdc627" stroke-width="4" stroke-linecap="round" fill="none"/><path d="M963.5 191L966.5 192.5L966 198L964 203.5L961.5 204.5L960 201L961 196Z" fill="#fcce25" stroke="#fcce25" stroke-width="1.5" stroke-linejoin="round"/><path d="M963 198V201" stroke="#fbc417" stroke-width="2.3" fill="none"/><path d="M974.5 181.5L977 184L978 190L979.5 196L978.5 203L976 205L973.5 202L972.5 197L971 194L972 188L972.5 183Z" fill="#fcce25" stroke="#fcce25" stroke-width="1.5" stroke-linejoin="round"/><path d="M971.8 190V196M976.2 184V192M979.2 195V198" stroke="#fbd724" stroke-width="1.8" fill="none"/><path d="M976.2 192V198" stroke="#f9ce16" stroke-width="1.8" fill="none"/><path d="M973.2 194V195M976.2 198V203" stroke="#fbc417" stroke-width="1.8" fill="none"/><path d="M974.8 183V184M974.8 198V204M977.8 189V204" stroke="#fdc627" stroke-width="1.8" fill="none"/><path d="M974.8 184V198" stroke="#fdba18" stroke-width="1.8" fill="none"/><path d="M981.5 187.5L984 190L986.5 194L985 197.5L982.5 196L981 192Z" fill="#fbd724" stroke="#fbd724" stroke-width="1.5" stroke-linejoin="round"/><path d="M984 194V195" stroke="#f9ce16" stroke-width="2.3" fill="none"/><path d="M975 219.5L978.5 220L979 228L976 231L972.5 229L972.5 224Z" fill="#fcce25" stroke="#fcce25" stroke-width="1.5" stroke-linejoin="round"/><path d="M975.5 223V229" stroke="#fbc417" stroke-width="2.3" fill="none"/><path d="M961 209h0" stroke="#feb72d" stroke-width="4" stroke-linecap="round" fill="none"/><path d="M975.2 214h0M969 223h0M1003.7 210.4h0M1017 223.5h0" stroke="#fdc627" stroke-width="4" stroke-linecap="round" fill="none"/><path d="M980.5 218.4h0M964.5 222.4h0M1012 195.5h0M1012.3 198.5h0M1011.8 201.5h0M1017.2 203.6h0M1003.5 221.5h0" stroke="#fbd724" stroke-width="4" stroke-linecap="round" fill="none"/><path d="M969.4 232.5h0" stroke="#fca636" stroke-width="4" stroke-linecap="round" fill="none"/><path d="M1008.5 210L1009.1 208.6L1010.5 208L1011.9 208.6L1012.5 210L1012.5 222L1011.9 223.4L1010.5 224L1009.1 223.4L1008.5 222Z" fill="#fbd724" stroke="#fbd724" stroke-width="1.5" stroke-linejoin="round"/><path d="M999.5 225.5L1000.5 223L1003 222L1005.5 223L1006.5 225.5L1006.5 263.5L1005.5 266L1003 267L1000.5 266L999.5 263.5Z" fill="#fcce25" stroke="#fcce25" stroke-width="1.5" stroke-linejoin="round"/><path d="M1000.2 226V231" stroke="#f3f027" stroke-width="1.7" fill="none"/><path d="M1000.2 224V226M1000.2 231V240M1000.2 264V266" stroke="#f6e826" stroke-width="1.7" fill="none"/><path d="M1000.2 240V246M1000.2 257V264" stroke="#f8df25" stroke-width="1.7" fill="none"/><path d="M1000.2 246V257M1001.6 263V267" stroke="#fbd724" stroke-width="1.7" fill="none"/><path d="M1003 260V265" stroke="#fbba0e" stroke-width="1.7" fill="none"/><path d="M1001.6 225V230M1001.6 237V241M1001.6 258V260M1003 223V225M1004.4 223V229M1004.4 232V244M1004.4 265V267M1005.8 225V236M1005.8 256V266" stroke="#fdc627" stroke-width="1.7" fill="none"/><path d="M1003 225V237M1003 257V260" stroke="#fcaf0f" stroke-width="1.7" fill="none"/><path d="M1001.6 241V243M1001.6 257V258M1004.4 229V232M1005.8 224V225" stroke="#febe2a" stroke-width="1.7" fill="none"/><path d="M1003 237V243M1003 255V257" stroke="#fda511" stroke-width="1.7" fill="none"/><path d="M1001.6 243V245M1001.6 255V257" stroke="#feb72d" stroke-width="1.7" fill="none"/><path d="M1003 243V246M1003 253V255" stroke="#fd9b13" stroke-width="1.7" fill="none"/><path d="M1001.6 245V246M1001.6 254V255" stroke="#fdae32" stroke-width="1.7" fill="none"/><path d="M1003 246V253" stroke="#fc8f16" stroke-width="1.7" fill="none"/><path d="M1001.6 246V249M1001.6 252V254" stroke="#fca636" stroke-width="1.7" fill="none"/><path d="M1001.6 249V252" stroke="#fb9f3a" stroke-width="1.7" fill="none"/><path d="M999.3 228h0M999 238h0M999.3 244h0M999.3 255h0M1003 224h0M1003.5 226.5h0" stroke="#fbd724" stroke-width="4" stroke-linecap="round" fill="none"/><path d="M1005.4 281.2h0M1005.8 283.5h0" stroke="#fdc627" stroke-width="4" stroke-linecap="round" fill="none"/><path d="M1010.6 231.4h0M1011.4 228.6h0M1009 228.2h0" stroke="#fbd724" stroke-width="4" stroke-linecap="round" fill="none"/><path d="M1009.8 233.6h0M1009.4 236.1h0M1010.9 229.5h0M1010.5 225.1h0" stroke="#fdc627" stroke-width="4" stroke-linecap="round" fill="none"/><path d="M1019.2 234.8h0M1016.7 235.5h0" stroke="#feb72d" stroke-width="4" stroke-linecap="round" fill="none"/><path d="M1020.8 234.7h0M1020.6 239.7h0" stroke="#fdc627" stroke-width="4" stroke-linecap="round" fill="none"/><path d="M1019.5 233.3h0" stroke="#fca636" stroke-width="4" stroke-linecap="round" fill="none"/><path d="M1030.5 228L1034 227L1036.5 229L1035 234L1033 238.5L1030 238L1029 233Z" fill="#fcce25" stroke="#fcce25" stroke-width="1.5" stroke-linejoin="round"/><path d="M1032 231V236" stroke="#fbc417" stroke-width="2.3" fill="none"/><path d="M1022 241L1026 240L1029 243L1031 240.5L1035 243L1036 250L1039 251L1038.5 258L1036 262L1037 268L1034 271L1032 277L1029 281.5L1025.5 282L1023 278L1019 279L1016 276L1013.5 272L1014 266L1016 258L1014.5 252L1015.5 246L1019 244Z" fill="#fcce25" stroke="#fcce25" stroke-width="1.5" stroke-linejoin="round"/><path d="M1014.2 266V268M1019.8 244V245M1028.2 280V282M1031 274V279M1036.6 254V256M1036.6 268V269" stroke="#f8df25" stroke-width="1.7" fill="none"/><path d="M1018.4 257V258M1028.2 250V280M1031 265V274" stroke="#f5d10e" stroke-width="1.7" fill="none"/><path d="M1014.2 268V271M1018.4 245V247M1019.8 245V246M1024 241V243M1028.2 243V245M1029.6 243V245M1031 241V243M1035.2 268V270M1036.6 251V253M1036.6 256V259M1036.6 266V268" stroke="#fbd724" stroke-width="1.7" fill="none"/><path d="M1018.4 247V257M1018.4 258V263M1019.8 246V247M1024 243V248M1026.8 257V280M1028.2 245V250M1029.6 245V270M1031 243V265M1035.2 251V256M1036.6 253V254" stroke="#f8c50e" stroke-width="1.7" fill="none"/><path d="M1018.4 263V264M1019.8 247V248M1019.8 256V267M1019.8 274V277M1021.2 258V277M1022.6 259V265M1024 248V278M1025.4 243V260M1026.8 244V257M1029.6 270V278M1032.4 269V271M1033.8 251V258M1033.8 267V269M1035.2 256V257" stroke="#fbba0e" stroke-width="1.7" fill="none"/><path d="M1014.2 273V274M1015.6 247V249M1015.6 260V268M1017 249V251M1017 254V256M1017 262V263M1018.4 277V278M1026.8 241V242M1033.8 243V249M1035.2 266V267M1036.6 260V262M1038 251V259" stroke="#fdc627" stroke-width="1.7" fill="none"/><path d="M1017 263V265M1018.4 264V265M1018.4 276V277M1019.8 248V249M1019.8 255V256M1019.8 267V274M1021.2 245V246M1021.2 257V258M1022.6 255V259M1022.6 265V275M1025.4 260V272M1032.4 257V269M1033.8 258V260M1033.8 265V267M1035.2 257V258" stroke="#fcaf0f" stroke-width="1.7" fill="none"/><path d="M1015.6 256V257M1015.6 268V271M1022.6 241V244M1022.6 276V279M1025.4 279V282M1032.4 242V244M1033.8 262V263" stroke="#febe2a" stroke-width="1.7" fill="none"/><path d="M1017 251V254M1017 265V267M1018.4 265V266M1018.4 275V276M1019.8 249V251M1019.8 253V255M1021.2 246V247M1021.2 256V257M1022.6 244V249M1022.6 253V255M1022.6 275V276M1025.4 272V279M1032.4 244V257M1033.8 260V262M1033.8 263V265M1035.2 258V259" stroke="#fda511" stroke-width="1.7" fill="none"/><path d="M1015.6 249V250M1015.6 271V272M1017 275V278M1035.2 265V266" stroke="#feb72d" stroke-width="1.7" fill="none"/><path d="M1017 267V269M1018.4 266V268M1018.4 274V275M1019.8 251V253M1021.2 247V248M1021.2 255V256M1022.6 249V253M1035.2 259V260" stroke="#fd9b13" stroke-width="1.7" fill="none"/><path d="M1015.6 255V256M1015.6 272V274M1035.2 264V265" stroke="#fdae32" stroke-width="1.7" fill="none"/><path d="M1017 269V275M1018.4 268V269M1018.4 272V274M1021.2 248V249" stroke="#fc8f16" stroke-width="1.7" fill="none"/><path d="M1015.6 250V251M1015.6 254V255M1015.6 274V276M1035.2 260V261" stroke="#fca636" stroke-width="1.7" fill="none"/><path d="M1018.4 269V272M1021.2 249V250M1021.2 254V255" stroke="#fb8619" stroke-width="1.7" fill="none"/><path d="M1015.6 251V252M1035.2 261V264" stroke="#fb9f3a" stroke-width="1.7" fill="none"/><path d="M1021.2 250V251M1021.2 253V254" stroke="#f97e1c" stroke-width="1.7" fill="none"/><path d="M1015.6 252V254" stroke="#f9983e" stroke-width="1.7" fill="none"/><path d="M1021.2 251V253" stroke="#f6761f" stroke-width="1.7" fill="none"/><path d="M1022.5 247.4h0M1024.8 246h0M1012.4 251h0M1017.6 265.8h0M1022.8 250h0M1030.2 276.6h0M1020.6 251.7h0M1027 273.1h0M1025.2 264.5h0M1022.4 264.2h0M1033.9 280.3h0M1023.5 252.4h0M1034 241.4h0" stroke="#fbd724" stroke-width="4" stroke-linecap="round" fill="none"/><path d="M1026.9 246.6h0" stroke="#fdc627" stroke-width="4" stroke-linecap="round" fill="none"/>
<path d="M513.50 69.5V423.5M804.50 69.5V423.5M1095.50 69.5V423.5M1385.50 69.5V423.5M222.5 305.50H1618.5M222.5 187.50H1618.5" stroke="#b0b0b0" stroke-width="1.11" fill="none"/>
<path d="M222.50 423.5v5.1M280.50 423.5v3.1M338.50 423.5v3.1M397.50 423.5v3.1M455.50 423.5v3.1M513.50 423.5v5.1M571.50 423.5v3.1M629.50 423.5v3.1M687.50 423.5v3.1M746.50 423.5v3.1M804.50 423.5v5.1M862.50 423.5v3.1M920.50 423.5v3.1M978.50 423.5v3.1M1036.50 423.5v3.1M1095.50 423.5v5.1M1153.50 423.5v3.1M1211.50 423.5v3.1M1269.50 423.5v3.1M1327.50 423.5v3.1M1385.50 423.5v5.1M1444.50 423.5v3.1M1502.50 423.5v3.1M1560.50 423.5v3.1M1618.50 423.5v3.1M222.5 423.50h-5.1M222.5 399.50h-3.1M222.5 376.50h-3.1M222.5 352.50h-3.1M222.5 329.50h-3.1M222.5 305.50h-5.1M222.5 281.50h-3.1M222.5 258.50h-3.1M222.5 234.50h-3.1M222.5 211.50h-3.1M222.5 187.50h-5.1M222.5 163.50h-3.1M222.5 140.50h-3.1M222.5 116.50h-3.1M222.5 93.50h-3.1M222.5 69.50h-5.1" stroke="#000" stroke-width="1.11" fill="none"/><rect x="222.5" y="69.5" width="1396.0" height="354.0" fill="none" stroke="#000" stroke-width="1.11"/><text x="222.50" y="456.20" text-anchor="middle" font-size="30.4">0</text><text x="513.33" y="456.20" text-anchor="middle" font-size="30.4">5</text><text x="804.17" y="456.20" text-anchor="middle" font-size="30.4">10</text><text x="1095.00" y="456.20" text-anchor="middle" font-size="30.4">15</text><text x="1385.83" y="456.20" text-anchor="middle" font-size="30.4">20</text><text x="212.60" y="434.60" text-anchor="end" font-size="30.4">0</text><text x="212.60" y="316.60" text-anchor="end" font-size="30.4">1000</text><text x="212.60" y="198.60" text-anchor="end" font-size="30.4">2000</text><text x="212.60" y="80.60" text-anchor="end" font-size="30.4">3000</text>
<path d="M250.5 734.5h0M275.5 733h0M271 737.5h0M271 739.5h0M293.5 739.2h0M252 762.5h0M308 759.8h0M345 771.8h0M352 762.8h0M355 764.8h0M368.7 766h0M368.5 750.5h0M373 747h0M374 754h0M374.5 756h0M374.5 758.5h0M358 752h0M375.5 715.8h0M363 725.7h0M383.5 729.2h0M378 734.8h0M385 698h0M388.5 703h0M398.5 720.3h0M248.8 712h0M256 700h0M258 701h0M255.3 662.5h0M367.5 799.7h0M324 825h0M411.5 825h0M413 825.3h0M449.5 767.7h0M461 759.8h0M469.7 755.3h0M479.5 760.5h0M481.5 755.3h0M490.7 751.5h0M500.5 763.7h0M509.8 763h0M518.5 755.7h0M518.7 759.5h0M465.5 770.7h0M466.3 792.5h0M447 825.5h0M449 825.5h0M505 825.5h0M506.5 825.5h0M456 647.8h0M486 658.7h0M506 676.7h0M496 687.2h0M506.5 693.5h0M518.5 686.5h0M490.5 701.5h0M485 703.5h0M466 677.5h0M449.5 703h0M448.7 716h0M463 721.7h0M469.7 727.7h0M472.7 721h0M425 672.7h0M385.3 674.5h0M515 725.5h0M517.7 731.2h0M366 741.5h0M366.3 745h0M387 758h0M444 761.7h0" stroke="#7aff7d" stroke-width="4" stroke-linecap="round" fill="none"/><path d="M237.5 712.5h0" stroke="#aaff4d" stroke-width="4" stroke-linecap="round" fill="none"/><path d="M251.5 695.5h0M253.5 704.5h0" stroke="#94ff63" stroke-width="4" stroke-linecap="round" fill="none"/><path d="M404.5 829h0" stroke="#800000" stroke-width="4" stroke-linecap="round" fill="none"/><path d="M222.8 669.5L226 672L233 673.5L237 677L239 673L241.5 675L243 681L243.5 687L246 692L248.5 699L246 704L240 709L235 707L230 711L227 713L222.8 712Z" fill="#81ff4e" stroke="#81ff4e" stroke-width="2.0" stroke-linejoin="round"/><path d="M225.8 692V697M227.8 689V704M229.8 688V704M231.8 690V702M233.8 687V701" stroke="#c6ff0b" stroke-width="2.3" fill="none"/><path d="M223.8 685V703" stroke="#b4ff25" stroke-width="2.3" fill="none"/><path d="M225.8 684V692M225.8 697V704M227.8 684V689M227.8 704V710M229.8 684V688M229.8 704V708M231.8 685V690M231.8 702V708M233.8 681V687M233.8 701V706M235.8 687V702M237.8 686V705" stroke="#a8ff19" stroke-width="2.3" fill="none"/><path d="M223.8 671V685M223.8 703V711M227.8 711V713M229.8 709V712M231.8 708V710M233.8 675V677M233.8 706V708M235.8 676V679M235.8 706V708M237.8 676V678M237.8 706V709M243.8 704V706" stroke="#9aff39" stroke-width="2.3" fill="none"/><path d="M225.8 677V684M225.8 704V710M227.8 677V684M227.8 710V711M229.8 678V684M229.8 708V709M231.8 679V685M233.8 677V681M235.8 679V687M235.8 702V706M237.8 678V686M237.8 705V706M239.8 690V707M243.8 695V704" stroke="#8bff2a" stroke-width="2.3" fill="none"/><path d="M225.8 675V677M225.8 710V711M227.8 675V677M229.8 676V678M231.8 676V679M239.8 677V690M241.8 688V706M243.8 692V695M245.8 698V701" stroke="#70ff3e" stroke-width="2.3" fill="none"/><path d="M241.8 682V683" stroke="#65ff69" stroke-width="2.3" fill="none"/><path d="M247.3 675.7h0M247.4 675.2h0M245.4 664.2h0M246.4 656.9h0M248.8 687.1h0M243.1 665.1h0M242.6 673.9h0M247.1 671.8h0M243.3 656.2h0M243 671h0M248 677.1h0M243.2 667.7h0M249 677.9h0M252.8 672.9h0M250.2 665.9h0M251 669.7h0M248.3 677.2h0M240.3 664.8h0M241.5 655.3h0M252.3 675.7h0M245 660.6h0M243.9 659.2h0M247.8 666h0M247.1 680.3h0M246.1 677.2h0M250.8 675.9h0M244.6 670h0M242 669.2h0M243.4 653.7h0M246.1 674.6h0M244.6 656.5h0M247.6 685.8h0M242 659.4h0M242 657.9h0M248.2 675.5h0M239.4 657.6h0M250.9 667.4h0M245.6 654.6h0M249.4 673.1h0M247.1 664.1h0M253 666.1h0M245.3 662.7h0M247.4 678.3h0M250.1 674.3h0M245.7 674h0M250.7 667.9h0M242 671.7h0M243.8 664.1h0M255.5 673.5h0M246 659.4h0M249.8 682.9h0M244.8 675.7h0M244.8 671.3h0M246.7 662.2h0M242.3 661.9h0M245.3 677.7h0M249.3 680.2h0M246 656.9h0M253.6 667.2h0M252.6 671.9h0M249.5 685.6h0M245.6 671h0M253.4 680.3h0M252.4 671.9h0" stroke="#7aff7d" stroke-width="4" stroke-linecap="round" fill="none"/><path d="M243 652.1h0M251 664.1h0M255 670.3h0M246 667.1h0M249.7 671.5h0M250.6 664.8h0M242.1 665.7h0M248.1 660h0M245 674.9h0M245.4 664.2h0M245 660.7h0M244.6 680.3h0M251.8 670.8h0M252.3 667h0M248.4 680.4h0M242.1 659.5h0M249 663.2h0M246.4 675.7h0M252.5 671.7h0M245.4 669.9h0M247.5 662.6h0M240.1 655.9h0M248.9 685.2h0M241.4 662h0M244.9 665.7h0M246.3 655.7h0M240.8 661h0M249.3 669.2h0M241.3 669.4h0M246.4 681.9h0M241 663.1h0" stroke="#94ff63" stroke-width="4" stroke-linecap="round" fill="none"/><path d="M230 699L230.4 702.1M224.3 683.5L224.5 684.9M242.6 703.6L243.1 707.1M245.8 703.2L246.1 704.9" stroke="#fff" stroke-width="1.2" stroke-linecap="round" fill="none"/><path d="M228.3 681.8L228.5 683.2M240.9 677.9L241.3 680.5" stroke="#fff" stroke-width="0.9" stroke-linecap="round" fill="none"/><path d="M230.8 689.4L231.3 692.9" stroke="#fff" stroke-width="1.1" stroke-linecap="round" fill="none"/><path d="M235.2 701.7L235.6 704.4" stroke="#fff" stroke-width="1" stroke-linecap="round" fill="none"/><path d="M224 673h0" stroke="#009cff" stroke-width="4" stroke-linecap="round" fill="none"/><path d="M226.5 675h0" stroke="#00b8ff" stroke-width="4" stroke-linecap="round" fill="none"/><path d="M224.5 677h0" stroke="#007dff" stroke-width="4" stroke-linecap="round" fill="none"/><path d="M228.5 673.5h0" stroke="#00d4ff" stroke-width="4" stroke-linecap="round" fill="none"/><path d="M224 681h0" stroke="#09f0ee" stroke-width="4" stroke-linecap="round" fill="none"/><path d="M229 677.5h0" stroke="#0060ff" stroke-width="4" stroke-linecap="round" fill="none"/><path d="M226 684h0" stroke="#1fffd7" stroke-width="4" stroke-linecap="round" fill="none"/><path d="M236 687.5h0M243 689h0" stroke="#ffe600" stroke-width="4" stroke-linecap="round" fill="none"/><path d="M234 703h0" stroke="#eeff09" stroke-width="4" stroke-linecap="round" fill="none"/><path d="M289 642L283 652L280 659.5L281.5 670L283.7 682L286 691L281.5 697L283 705L287.5 703L292 710.5L295 716.5L304 722.5L310 727L309 736L313 743.5L320.5 748L325 746.5L331 751.7L340 751L347.5 754L355 753L359.5 751L364 746.5L368 742L366 739L362.5 736L361 727L364 725.5L369.5 721L370.5 715L368.5 707.5L362.5 703L359.5 697L355 693L352 691L350.5 682L347.5 673L344.5 670.7L340 671.5L337.7 668.5L334 670L331.7 662.5L326 660L323.5 663L317.5 658L310 650.5L304 646L301 650.5L295 649L292 643.7Z" fill="#65ff69" stroke="#65ff69" stroke-width="2.0" stroke-linejoin="round"/><path d="M335 737V746" stroke="#92ff0b" stroke-width="2.3" fill="none"/><path d="M361 726V727M361 728V737" stroke="#9aff39" stroke-width="2.3" fill="none"/><path d="M321 708V746M325 742V744M327 738V746M333 740V742M335 732V737M335 746V750M337 740V747M339 734V747M341 735V749M343 739V749M345 737V745M347 736V752M349 736V744M353 742V746M357 716V725M361 723V726M361 737V745" stroke="#72ff17" stroke-width="2.3" fill="none"/><path d="M301 719V721M321 746V748M323 745V748M325 745V747M327 747V749M329 748V749M335 750V752M337 750V752M339 749V751M341 750V752M343 751V753M347 752V754M353 752V754M357 695V697M357 750V753M359 727V729M359 750V751M361 748V750M363 746V748M365 723V725M365 739V741M365 743V746M367 721V724" stroke="#81ff4e" stroke-width="2.3" fill="none"/><path d="M301 706V719M303 709V718M309 691V718M313 709V725M319 736V744M321 675V708M323 737V745M325 733V742M325 744V745M327 709V738M327 746V747M329 735V748M331 705V749M333 728V740M333 742V749M335 684V732M337 703V713M337 735V740M337 747V750M339 714V734M339 747V749M341 719V735M341 749V750M343 701V721M343 733V739M343 749V751M345 713V737M345 745V751M347 696V723M347 730V736M349 724V736M349 744V749M351 737V749M353 733V742M353 746V752M355 718V723M357 697V716M357 725V750M359 704V727M359 729V731M359 736V750M361 712V723M361 745V748M363 740V746M365 709V723M365 741V743M367 718V721" stroke="#55ff27" stroke-width="2.3" fill="none"/><path d="M285 675V678M285 696V700M287 696V702M291 676V706M297 715V716M299 702V717M301 687V706M303 696V709M303 718V720M305 692V712M307 676V723M309 679V691M309 718V725M311 705V727M313 697V709M313 725V740M315 686V719M315 731V743M317 686V723M317 732V744M319 701V736M319 744V745M321 669V675M323 703V737M325 674V733M327 694V709M329 690V719M329 727V735M331 670V687M331 690V705M331 749V750M333 701V728M333 749V750M335 673V684M337 691V703M337 713V735M339 673V714M341 695V719M343 674V680M343 687V701M343 721V733M345 674V713M347 679V696M347 723V730M349 687V724M349 749V752M351 692V737M351 749V752M353 694V733M355 708V718M355 723V751M359 701V704M359 731V736M361 704V712M363 706V724M363 739V740M365 708V709M367 711V718" stroke="#3aff3d" stroke-width="2.3" fill="none"/><path d="M281 665V667M283 673V679M283 696V706M285 702V705M287 687V693M289 704V706M291 644V646M293 709V713M295 713V717M305 722V724M311 727V740M321 663V664M331 663V668M333 667V670M335 670V672M337 669V671M341 672V674M355 694V696M355 752V753M369 710V722" stroke="#4eff81" stroke-width="2.3" fill="none"/><path d="M285 669V675M285 700V702M287 680V687M287 693V696M289 684V704M291 646V648M291 670V676M293 678V709M295 684V713M297 678V715M299 671V702M301 673V687M303 672V696M305 679V692M305 712V722M307 670V676M309 673V679M311 691V705M313 671V697M315 677V686M315 719V731M317 677V686M317 723V732M319 679V701M321 664V669M323 671V703M325 664V674M327 672V694M329 680V690M329 719V727M331 668V670M331 687V690M333 670V701M335 672V673M337 671V691M341 674V695M343 680V687M355 696V708" stroke="#27ff55" stroke-width="2.3" fill="none"/><path d="M281 658V665M283 666V673M285 649V651M287 646V649M289 643V646M297 650V651M301 651V653M307 649V651M309 650V652M321 661V663M323 663V665M325 662V664M327 661V663M329 662V664" stroke="#39ff9a" stroke-width="2.3" fill="none"/><path d="M283 665V666M285 664V669M287 649V652M287 669V680M289 646V649M289 675V684M291 648V654M291 664V670M293 672V678M295 676V684M297 671V678M299 667V671M301 653V654M301 667V673M303 666V672M305 673V679M307 651V652M307 665V670M309 669V673M311 674V691M313 665V671M315 671V677M317 671V677M319 667V679M323 665V671M327 663V672M329 664V680" stroke="#17ff72" stroke-width="2.3" fill="none"/><path d="M283 653V658M285 651V653M293 646V650M297 651V652M299 651V653M303 648V651M305 647V649M311 652V654M313 654V656M319 660V662" stroke="#25ffb4" stroke-width="2.3" fill="none"/><path d="M283 658V665M285 653V664M287 652V669M289 649V654M289 669V675M291 654V664M293 667V672M295 671V676M297 652V656M297 665V671M299 653V654M299 661V667M301 654V667M303 651V656M303 659V666M305 649V650M305 669V673M307 652V665M309 652V658M309 662V669M311 654V655M311 666V674M313 656V665M315 666V671M317 664V671M319 662V667" stroke="#0bff92" stroke-width="2.3" fill="none"/><path d="M295 650V652M315 656V658M317 658V660" stroke="#13ffce" stroke-width="2.3" fill="none"/><path d="M289 654V669M293 650V667M295 652V653M295 667V671M297 656V665M299 654V661M303 656V659M305 650V655M305 664V669M309 658V662M311 655V666M315 658V666M317 660V664" stroke="#04ffb6" stroke-width="2.3" fill="none"/><path d="M295 653V667M305 655V664" stroke="#00e3de" stroke-width="2.3" fill="none"/><path d="M373 643L376 647L379 649L381 655L381.5 661L380.5 666L376.5 668.5L372 665L371.2 657L372.5 653L370.5 646.5Z" fill="#00d4ff" stroke="#00d4ff" stroke-width="1.5" stroke-linejoin="round"/><path d="M375.8 647V655M377.2 648V651M378.8 649V654M380.2 657V667" stroke="#09f0ee" stroke-width="1.8" fill="none"/><path d="M372.8 652V655M372.8 664V666M374.2 656V665" stroke="#00b8ff" stroke-width="1.8" fill="none"/><path d="M372.8 655V658M372.8 661V664" stroke="#009cff" stroke-width="1.8" fill="none"/><path d="M371.2 657V658M372.8 658V661" stroke="#007dff" stroke-width="1.8" fill="none"/><path d="M392.7 532.5h0M392.7 646h0M392.5 829.2h0" stroke="#c1ff36" stroke-width="4" stroke-linecap="round" fill="none"/><path d="M392.7 536.5h0M392.7 595h0M392.5 664.5h0M392.7 685.5h0M404.3 576.3h0M404.3 608.3h0M404.5 676.7h0M406.5 675h0M392.3 811.2h0" stroke="#00d4ff" stroke-width="4" stroke-linecap="round" fill="none"/><path d="M392.7 539h0" stroke="#0060ff" stroke-width="4" stroke-linecap="round" fill="none"/><path d="M392.7 546.8h0M392.3 567h0M392.5 568.5h0" stroke="#ff1300" stroke-width="4" stroke-linecap="round" fill="none"/><path d="M392.7 563.2h0M395.5 659.5h0" stroke="#009cff" stroke-width="4" stroke-linecap="round" fill="none"/><path d="M392.7 580.8h0M392.7 589.5h0M392.7 682.5h0M392.5 785h0M392.3 833h0" stroke="#000080" stroke-width="4" stroke-linecap="round" fill="none"/><path d="M392.7 599h0" stroke="#63ff94" stroke-width="4" stroke-linecap="round" fill="none"/><path d="M392.7 604h0M392.7 615.2h0M392.7 623.5h0M392 636.7h0M392.7 643.5h0M392.7 652.3h0M392.7 669h0M392.7 678h0M404.3 628.2h0M403.5 636.8h0M405 636.8h0M392.5 797h0M392.5 807.5h0M392.5 817.2h0M392.5 821h0M392.5 836.7h0" stroke="#800000" stroke-width="4" stroke-linecap="round" fill="none"/><path d="M392 626h0" stroke="#ffe600" stroke-width="4" stroke-linecap="round" fill="none"/><path d="M394.5 689.5h0M392.7 695.5h0" stroke="#0000ff" stroke-width="4" stroke-linecap="round" fill="none"/><path d="M394 693h0M392.3 840.5h0" stroke="#007dff" stroke-width="4" stroke-linecap="round" fill="none"/><path d="M404.3 595h0M404.3 597h0" stroke="#ffb200" stroke-width="4" stroke-linecap="round" fill="none"/><path d="M410 643.2h0M402.2 680.5h0" stroke="#d7ff1f" stroke-width="4" stroke-linecap="round" fill="none"/><path d="M393 702.5L395 705L395.5 717L396 729L395.5 742L395 755L394.5 766L392 768.5L389.5 766L388 759L387.5 749L388.5 740L389 732L390 722L391 709Z" fill="#009cff" stroke="#009cff" stroke-width="1.5" stroke-linejoin="round"/><path d="M392.8 757V761" stroke="#1fffd7" stroke-width="1.8" fill="none"/><path d="M389.8 757V758M392.8 753V757M392.8 761V767" stroke="#09f0ee" stroke-width="1.8" fill="none"/><path d="M389.8 751V757M389.8 758V764M391.2 752V761M392.8 714V734M392.8 749V753M392.8 767V768M394.2 756V757" stroke="#00d4ff" stroke-width="1.8" fill="none"/><path d="M389.8 745V751M389.8 764V767M391.2 746V752M391.2 761V764M392.8 704V714M392.8 734V749M394.2 726V756M394.2 757V763M395.8 727V736" stroke="#00b8ff" stroke-width="1.8" fill="none"/><path d="M389.8 725V729M391.2 709V718M394.2 705V710" stroke="#007dff" stroke-width="1.8" fill="none"/><path d="M386.5 774L389 773.5L391.5 776L391.5 783L389.5 787.5L386.5 786L385.5 780Z" fill="#00b8ff" stroke="#00b8ff" stroke-width="1.5" stroke-linejoin="round"/><path d="M386.2 776V785M390.8 776V785" stroke="#00d4ff" stroke-width="1.8" fill="none"/><path d="M387.8 774V778M389.2 774V775" stroke="#009cff" stroke-width="1.8" fill="none"/><path d="M389.2 775V788" stroke="#007dff" stroke-width="1.8" fill="none"/><path d="M393 785h0" stroke="#7aff7d" stroke-width="4" stroke-linecap="round" fill="none"/><path d="M406.5 681L408 689L409 703L411.5 709L413 719L413.5 733L411 740L407.5 743L407.5 755L406.5 767L404 768.5L401.5 765L401 752L400.8 737L401.5 725L403 715L404.5 705L405 692Z" fill="#009cff" stroke="#009cff" stroke-width="1.5" stroke-linejoin="round"/><path d="M403.1 755V762" stroke="#09f0ee" stroke-width="1.8" fill="none"/><path d="M403.1 749V755M403.1 762V765M404.6 757V764M406.1 755V762" stroke="#00d4ff" stroke-width="1.8" fill="none"/><path d="M401.6 753V762M403.1 725V749M403.1 765V768M404.6 754V757M404.6 764V768M406.1 685V692M406.1 749V755M406.1 762V767M407.6 687V690" stroke="#00b8ff" stroke-width="1.8" fill="none"/><path d="M401.6 725V738M404.6 704V711M404.6 728V751M406.1 699V715M407.6 696V701M407.6 719V743M409.1 731V742M410.6 707V728M412.1 713V738" stroke="#007dff" stroke-width="1.8" fill="none"/><path d="M407.6 701V719" stroke="#0060ff" stroke-width="1.8" fill="none"/><path d="M414.5 644.5L416 647L416.5 659L418.5 663L420 675L421 683L422.5 689L422.5 697L421 703L421 711L419 717L416.5 718L414 714L413 705L412.5 692L412.5 677L413 662L413 649Z" fill="#09f0ee" stroke="#09f0ee" stroke-width="1.5" stroke-linejoin="round"/><path d="M413.2 696V708M414.8 696V716M416.2 661V676M416.2 686V715M417.8 677V691M417.8 708V718M419.2 708V717M420.8 693V712M422.2 688V699" stroke="#00d4ff" stroke-width="1.8" fill="none"/><path d="M413.2 660V669M413.2 689V696M414.8 662V667M414.8 690V696M416.2 659V661M416.2 676V686M417.8 662V677" stroke="#00b8ff" stroke-width="1.8" fill="none"/><path d="M413.2 658V660M413.2 669V674M413.2 683V689M414.8 659V662M414.8 667V671M414.8 685V690M416.2 657V659" stroke="#009cff" stroke-width="1.8" fill="none"/><path d="M413.2 656V658M413.2 674V683M414.8 645V646M414.8 657V659M414.8 671V685M416.2 655V657" stroke="#007dff" stroke-width="1.8" fill="none"/><path d="M413.2 649V650M413.2 653V656M414.8 646V648M414.8 656V657M416.2 653V655" stroke="#0060ff" stroke-width="1.8" fill="none"/><path d="M413.2 650V653M414.8 648V650M414.8 654V656" stroke="#0045ff" stroke-width="1.8" fill="none"/><path d="M414.8 650V654" stroke="#0028ff" stroke-width="1.8" fill="none"/><path d="M422 689h0M422.5 691h0" stroke="#0000bf" stroke-width="4" stroke-linecap="round" fill="none"/><path d="M422 695h0M422.5 697.5h0" stroke="#0000df" stroke-width="4" stroke-linecap="round" fill="none"/><path d="M417 672h0" stroke="#000dff" stroke-width="4" stroke-linecap="round" fill="none"/><path d="M442.9 714.3h0M443.4 782.8h0M440.7 550.6h0" stroke="#000080" stroke-width="4" stroke-linecap="round" fill="none"/><path d="M443.4 585.5h0M441.3 664.3h0" stroke="#00d4ff" stroke-width="4" stroke-linecap="round" fill="none"/><path d="M440.7 599h0M442.8 645.3h0M442.9 659h0" stroke="#800000" stroke-width="4" stroke-linecap="round" fill="none"/><path d="M440.8 524.6h0M443.1 745.3h0" stroke="#007dff" stroke-width="4" stroke-linecap="round" fill="none"/><path d="M443.3 570.5h0" stroke="#ffe600" stroke-width="4" stroke-linecap="round" fill="none"/><path d="M440.9 724.9h0" stroke="#0028ff" stroke-width="4" stroke-linecap="round" fill="none"/><path d="M442.7 538.1h0" stroke="#c1ff36" stroke-width="4" stroke-linecap="round" fill="none"/><path d="M441.1 515.8h0" stroke="#ffe600" stroke-width="4" stroke-linecap="round" fill="none"/><path d="M443 697h0M443.3 655.2h0M441.2 587.1h0M440.9 663.1h0" stroke="#800000" stroke-width="4" stroke-linecap="round" fill="none"/><path d="M442.9 576.6h0M441 772.2h0M440.9 823.8h0M441.4 583.1h0" stroke="#000080" stroke-width="4" stroke-linecap="round" fill="none"/><path d="M440.8 514.3h0" stroke="#ff1300" stroke-width="4" stroke-linecap="round" fill="none"/><path d="M441 640.6h0" stroke="#007dff" stroke-width="4" stroke-linecap="round" fill="none"/><path d="M443.1 559.4h0M443.1 637.4h0M441.4 700.4h0M441 815h0M441 625.4h0" stroke="#800000" stroke-width="4" stroke-linecap="round" fill="none"/><path d="M443 776.4h0" stroke="#c1ff36" stroke-width="4" stroke-linecap="round" fill="none"/><path d="M441.2 769.3h0" stroke="#ff7a00" stroke-width="4" stroke-linecap="round" fill="none"/><path d="M440.8 805.3h0M441.2 577h0" stroke="#ffe600" stroke-width="4" stroke-linecap="round" fill="none"/><path d="M441.3 809h0" stroke="#000080" stroke-width="4" stroke-linecap="round" fill="none"/><path d="M443.1 529.5h0M441.2 684.2h0" stroke="#0028ff" stroke-width="4" stroke-linecap="round" fill="none"/><path d="M440.7 641.9h0" stroke="#ff7a00" stroke-width="4" stroke-linecap="round" fill="none"/><path d="M442.6 723.4h0M443 693.5h0M443.1 577.1h0M441.2 585.2h0M440.8 535.7h0M442.7 833.5h0" stroke="#800000" stroke-width="4" stroke-linecap="round" fill="none"/><path d="M441.4 656.1h0" stroke="#0028ff" stroke-width="4" stroke-linecap="round" fill="none"/><path d="M440.8 750.2h0" stroke="#000080" stroke-width="4" stroke-linecap="round" fill="none"/><path d="M443.4 800h0M440.8 778.6h0M443.4 599.1h0" stroke="#00d4ff" stroke-width="4" stroke-linecap="round" fill="none"/><path d="M441.3 846.2h0M443.3 788h0" stroke="#ffe600" stroke-width="4" stroke-linecap="round" fill="none"/><path d="M442.6 582.4h0M442.8 568.2h0M442.9 650h0M443.5 613.9h0M442.9 775.9h0M440.9 626.5h0" stroke="#800000" stroke-width="4" stroke-linecap="round" fill="none"/><path d="M442.7 627.1h0" stroke="#0028ff" stroke-width="4" stroke-linecap="round" fill="none"/><path d="M440.6 533.5h0M440.9 763.2h0M441 658.6h0" stroke="#000080" stroke-width="4" stroke-linecap="round" fill="none"/><path d="M442.7 835.7h0M441 676h0M440.7 611.6h0M442.6 571.7h0" stroke="#800000" stroke-width="4" stroke-linecap="round" fill="none"/><path d="M440.8 819.5h0M441.5 672.4h0" stroke="#c1ff36" stroke-width="4" stroke-linecap="round" fill="none"/><path d="M441.4 600.5h0" stroke="#0028ff" stroke-width="4" stroke-linecap="round" fill="none"/><path d="M443.3 512.5h0" stroke="#ff7a00" stroke-width="4" stroke-linecap="round" fill="none"/><path d="M440.8 540.3h0" stroke="#ffe600" stroke-width="4" stroke-linecap="round" fill="none"/><path d="M440.6 852.5h0" stroke="#ff1300" stroke-width="4" stroke-linecap="round" fill="none"/><path d="M442.9 836.6h0" stroke="#000080" stroke-width="4" stroke-linecap="round" fill="none"/><path d="M443.4 771h0" stroke="#00d4ff" stroke-width="4" stroke-linecap="round" fill="none"/><path d="M441.4 670.3h0M441.4 530.8h0M440.6 667.5h0M441.3 568.4h0" stroke="#000080" stroke-width="4" stroke-linecap="round" fill="none"/><path d="M441.4 656.8h0M441.1 605.5h0" stroke="#ff1300" stroke-width="4" stroke-linecap="round" fill="none"/><path d="M443.3 733.2h0M441.2 858h0M440.8 678.5h0" stroke="#800000" stroke-width="4" stroke-linecap="round" fill="none"/><path d="M443.5 549.4h0" stroke="#ffe600" stroke-width="4" stroke-linecap="round" fill="none"/><path d="M443.1 563.9h0M443.2 515h0" stroke="#00d4ff" stroke-width="4" stroke-linecap="round" fill="none"/><path d="M440.5 649h0M442.6 588.9h0M442.9 839.1h0" stroke="#000080" stroke-width="4" stroke-linecap="round" fill="none"/><path d="M443.3 533.1h0M441.1 617.9h0" stroke="#800000" stroke-width="4" stroke-linecap="round" fill="none"/><path d="M440.7 804.4h0M441.3 842.7h0M441 556.4h0" stroke="#007dff" stroke-width="4" stroke-linecap="round" fill="none"/><path d="M442.7 734.5h0" stroke="#c1ff36" stroke-width="4" stroke-linecap="round" fill="none"/><path d="M440.6 547.6h0" stroke="#ffe600" stroke-width="4" stroke-linecap="round" fill="none"/><path d="M442.7 754.4h0" stroke="#00d4ff" stroke-width="4" stroke-linecap="round" fill="none"/><path d="M440.9 791.1h0" stroke="#0028ff" stroke-width="4" stroke-linecap="round" fill="none"/><path d="M442.6 853.6h0M443.3 511.7h0M443.4 729.4h0" stroke="#800000" stroke-width="4" stroke-linecap="round" fill="none"/><path d="M441.4 660.4h0M443.1 601.4h0" stroke="#000080" stroke-width="4" stroke-linecap="round" fill="none"/><path d="M440.7 523h0M442.6 583.7h0M440.8 544.4h0" stroke="#0028ff" stroke-width="4" stroke-linecap="round" fill="none"/><path d="M443 789.2h0" stroke="#c1ff36" stroke-width="4" stroke-linecap="round" fill="none"/><path d="M443.2 567h0" stroke="#007dff" stroke-width="4" stroke-linecap="round" fill="none"/><path d="M441.1 712.9h0M442.9 638.6h0" stroke="#ff1300" stroke-width="4" stroke-linecap="round" fill="none"/><path d="M443.1 703.8h0M440.9 562.8h0M441.4 722.6h0M442.7 610.1h0M440.6 647.7h0M443.4 694.7h0M441 840.1h0" stroke="#800000" stroke-width="4" stroke-linecap="round" fill="none"/><path d="M440.9 728.1h0" stroke="#ff1300" stroke-width="4" stroke-linecap="round" fill="none"/><path d="M443.3 664.7h0" stroke="#ffe600" stroke-width="4" stroke-linecap="round" fill="none"/><path d="M441.2 686.5h0M442.7 742.9h0" stroke="#c1ff36" stroke-width="4" stroke-linecap="round" fill="none"/><path d="M442.6 845h0" stroke="#000080" stroke-width="4" stroke-linecap="round" fill="none"/><path d="M440.5 619.3h0M441.1 645h0" stroke="#800000" stroke-width="4" stroke-linecap="round" fill="none"/><path d="M442.9 521.9h0M440.8 613.8h0M443 684.2h0M443 619.6h0" stroke="#000080" stroke-width="4" stroke-linecap="round" fill="none"/><path d="M441.4 798.2h0" stroke="#ffe600" stroke-width="4" stroke-linecap="round" fill="none"/><path d="M440.8 757h0" stroke="#0028ff" stroke-width="4" stroke-linecap="round" fill="none"/><path d="M443.1 668.4h0" stroke="#c1ff36" stroke-width="4" stroke-linecap="round" fill="none"/><path d="M441.2 529.6h0M441.2 811.9h0" stroke="#00d4ff" stroke-width="4" stroke-linecap="round" fill="none"/><path d="M443.2 761.6h0" stroke="#ff7a00" stroke-width="4" stroke-linecap="round" fill="none"/><path d="M442.7 530.5h0M441.4 629.8h0M443.1 705.2h0" stroke="#00d4ff" stroke-width="4" stroke-linecap="round" fill="none"/><path d="M442.9 671h0M442.5 521h0" stroke="#c1ff36" stroke-width="4" stroke-linecap="round" fill="none"/><path d="M442.7 561.1h0M441.1 685.4h0M442.9 768h0" stroke="#800000" stroke-width="4" stroke-linecap="round" fill="none"/><path d="M442.6 608.9h0" stroke="#000080" stroke-width="4" stroke-linecap="round" fill="none"/><path d="M443.2 625.3h0" stroke="#007dff" stroke-width="4" stroke-linecap="round" fill="none"/><path d="M443.1 706.3h0" stroke="#ff1300" stroke-width="4" stroke-linecap="round" fill="none"/><path d="M440.6 725.6h0" stroke="#ff7a00" stroke-width="4" stroke-linecap="round" fill="none"/><path d="M440.8 597.2h0M440.8 624h0M442.9 640.1h0" stroke="#800000" stroke-width="4" stroke-linecap="round" fill="none"/><path d="M443.3 651.3h0" stroke="#000080" stroke-width="4" stroke-linecap="round" fill="none"/><path d="M442.6 757h0M440.8 828.6h0M443.1 810.6h0M442.7 840.2h0" stroke="#ff1300" stroke-width="4" stroke-linecap="round" fill="none"/><path d="M442.6 534h0M442.9 699.9h0" stroke="#ffe600" stroke-width="4" stroke-linecap="round" fill="none"/><path d="M440.5 853.7h0" stroke="#007dff" stroke-width="4" stroke-linecap="round" fill="none"/><path d="M442.9 673h0" stroke="#0028ff" stroke-width="4" stroke-linecap="round" fill="none"/><path d="M442.6 523.6h0M443 814.1h0" stroke="#800000" stroke-width="4" stroke-linecap="round" fill="none"/><path d="M443.3 751.8h0M440.5 751.1h0" stroke="#ffe600" stroke-width="4" stroke-linecap="round" fill="none"/><path d="M442.8 847.9h0" stroke="#ff7a00" stroke-width="4" stroke-linecap="round" fill="none"/><path d="M443.4 756.6h0M443.3 720.4h0M443.1 731.5h0" stroke="#ff1300" stroke-width="4" stroke-linecap="round" fill="none"/><path d="M442.9 553.4h0M442.7 544.2h0" stroke="#000080" stroke-width="4" stroke-linecap="round" fill="none"/><path d="M441 574h0" stroke="#007dff" stroke-width="4" stroke-linecap="round" fill="none"/><path d="M441.1 774.1h0" stroke="#c1ff36" stroke-width="4" stroke-linecap="round" fill="none"/><path d="M443.2 826.6h0M442.8 647.8h0" stroke="#007dff" stroke-width="4" stroke-linecap="round" fill="none"/><path d="M443 725h0M443.3 740.1h0" stroke="#ff7a00" stroke-width="4" stroke-linecap="round" fill="none"/><path d="M442.8 792.5h0M440.8 538.8h0M440.7 709.9h0M441.3 589.2h0M442.9 715.4h0" stroke="#800000" stroke-width="4" stroke-linecap="round" fill="none"/><path d="M440.9 634.5h0" stroke="#ffe600" stroke-width="4" stroke-linecap="round" fill="none"/><path d="M441 817.4h0M440.6 786.2h0" stroke="#000080" stroke-width="4" stroke-linecap="round" fill="none"/><path d="M440.6 735.6h0" stroke="#ffe600" stroke-width="4" stroke-linecap="round" fill="none"/><path d="M443 784.2h0M440.7 636.3h0" stroke="#0028ff" stroke-width="4" stroke-linecap="round" fill="none"/><path d="M441.4 745.8h0" stroke="#ff7a00" stroke-width="4" stroke-linecap="round" fill="none"/><path d="M443.3 621.9h0" stroke="#00d4ff" stroke-width="4" stroke-linecap="round" fill="none"/><path d="M441.3 594.3h0" stroke="#c1ff36" stroke-width="4" stroke-linecap="round" fill="none"/><path d="M443.1 661.7h0M440.9 705.5h0" stroke="#007dff" stroke-width="4" stroke-linecap="round" fill="none"/><path d="M441.5 784.5h0M440.5 856.3h0M443 695.9h0" stroke="#800000" stroke-width="4" stroke-linecap="round" fill="none"/><path d="M440.5 845.1h0" stroke="#ff1300" stroke-width="4" stroke-linecap="round" fill="none"/><path d="M441.2 812.5h0M442.7 816.4h0M441.4 582h0M440.9 796.9h0M441 651h0M440.9 528.3h0M442.7 653.8h0M442.6 597.3h0M440.5 542.5h0" stroke="#800000" stroke-width="4" stroke-linecap="round" fill="none"/><path d="M441.1 718.3h0M443.2 796.2h0" stroke="#000080" stroke-width="4" stroke-linecap="round" fill="none"/><path d="M443.5 792.9h0" stroke="#ff1300" stroke-width="4" stroke-linecap="round" fill="none"/><path d="M440.7 768.5h0M443 600h0M440.8 601.7h0M440.8 849.2h0" stroke="#800000" stroke-width="4" stroke-linecap="round" fill="none"/><path d="M441.4 834.2h0" stroke="#c1ff36" stroke-width="4" stroke-linecap="round" fill="none"/><path d="M440.5 652.5h0M441 688.5h0" stroke="#ff7a00" stroke-width="4" stroke-linecap="round" fill="none"/><path d="M441 570.9h0" stroke="#000080" stroke-width="4" stroke-linecap="round" fill="none"/><path d="M442.6 605.9h0M441.3 743.5h0" stroke="#ff1300" stroke-width="4" stroke-linecap="round" fill="none"/><path d="M443.1 843.5h0" stroke="#00d4ff" stroke-width="4" stroke-linecap="round" fill="none"/><path d="M443.1 743.6h0" stroke="#ffe600" stroke-width="4" stroke-linecap="round" fill="none"/><path d="M442.9 713h0" stroke="#c1ff36" stroke-width="4" stroke-linecap="round" fill="none"/><path d="M443.2 813.2h0M441.1 822.2h0M443.2 676.9h0" stroke="#000080" stroke-width="4" stroke-linecap="round" fill="none"/><path d="M442.6 550h0M442.8 536.7h0M441.1 643.3h0M440.7 526.8h0M441.2 553.5h0" stroke="#800000" stroke-width="4" stroke-linecap="round" fill="none"/><path d="M443 785.5h0" stroke="#ff7a00" stroke-width="4" stroke-linecap="round" fill="none"/><path d="M442.6 710.9h0" stroke="#ff1300" stroke-width="4" stroke-linecap="round" fill="none"/><path d="M440.9 591.9h0" stroke="#0028ff" stroke-width="4" stroke-linecap="round" fill="none"/><path d="M440.9 835.8h0M441.5 513.4h0" stroke="#007dff" stroke-width="4" stroke-linecap="round" fill="none"/><path d="M443 717h0M440.8 697.3h0" stroke="#000080" stroke-width="4" stroke-linecap="round" fill="none"/><path d="M442.8 689.8h0M442.6 846.5h0" stroke="#ff1300" stroke-width="4" stroke-linecap="round" fill="none"/><path d="M442.5 774h0" stroke="#c1ff36" stroke-width="4" stroke-linecap="round" fill="none"/><path d="M443.3 525.5h0" stroke="#ff7a00" stroke-width="4" stroke-linecap="round" fill="none"/><path d="M443.2 662.8h0M443.2 841.4h0M441.1 756.1h0M441.3 661h0" stroke="#800000" stroke-width="4" stroke-linecap="round" fill="none"/><path d="M440.9 794.5h0" stroke="#ffe600" stroke-width="4" stroke-linecap="round" fill="none"/><path d="M441.3 733h0M443.1 535.4h0M442.6 633.5h0M442.9 554.9h0M441.1 604.8h0M443.4 562.8h0M443.2 614.8h0M441.1 558.4h0" stroke="#800000" stroke-width="4" stroke-linecap="round" fill="none"/><path d="M441.4 793.8h0" stroke="#ff7a00" stroke-width="4" stroke-linecap="round" fill="none"/><path d="M441.4 777.6h0" stroke="#007dff" stroke-width="4" stroke-linecap="round" fill="none"/><path d="M443 800.4h0" stroke="#00d4ff" stroke-width="4" stroke-linecap="round" fill="none"/><path d="M442.6 573.2h0M443.3 702.6h0M443.1 691.5h0M442.6 515.6h0" stroke="#800000" stroke-width="4" stroke-linecap="round" fill="none"/><path d="M441.4 761h0" stroke="#c1ff36" stroke-width="4" stroke-linecap="round" fill="none"/><path d="M443.4 611.5h0M443 749h0" stroke="#007dff" stroke-width="4" stroke-linecap="round" fill="none"/><path d="M442.9 718.6h0M441.4 802.9h0" stroke="#00d4ff" stroke-width="4" stroke-linecap="round" fill="none"/><path d="M442.9 593.1h0" stroke="#ffe600" stroke-width="4" stroke-linecap="round" fill="none"/><path d="M442.8 802h0M441 646.1h0" stroke="#0028ff" stroke-width="4" stroke-linecap="round" fill="none"/><path d="M441.3 588.5h0M443.1 593.8h0M442.8 543.2h0" stroke="#800000" stroke-width="4" stroke-linecap="round" fill="none"/><path d="M443.3 558.5h0" stroke="#ffe600" stroke-width="4" stroke-linecap="round" fill="none"/><path d="M443.3 540h0M440.9 610.7h0M443.2 805.1h0" stroke="#ff1300" stroke-width="4" stroke-linecap="round" fill="none"/><path d="M443.2 604h0M440.9 682.6h0" stroke="#00d4ff" stroke-width="4" stroke-linecap="round" fill="none"/><path d="M443.5 721.9h0" stroke="#007dff" stroke-width="4" stroke-linecap="round" fill="none"/><path d="M441.5 518.6h0" stroke="#c1ff36" stroke-width="4" stroke-linecap="round" fill="none"/><path d="M443.2 545.9h0" stroke="#000080" stroke-width="4" stroke-linecap="round" fill="none"/><path d="M443.2 618.6h0M442.7 760h0" stroke="#ffe600" stroke-width="4" stroke-linecap="round" fill="none"/><path d="M442.5 856.6h0" stroke="#0028ff" stroke-width="4" stroke-linecap="round" fill="none"/><path d="M442.7 528h0M441.3 728.7h0M443.1 631h0" stroke="#000080" stroke-width="4" stroke-linecap="round" fill="none"/><path d="M440.5 837.1h0M440.6 801h0M440.5 608.1h0M443.4 741.5h0M440.6 850.5h0" stroke="#800000" stroke-width="4" stroke-linecap="round" fill="none"/><path d="M440.9 689.5h0" stroke="#00d4ff" stroke-width="4" stroke-linecap="round" fill="none"/><path d="M443.2 832.1h0M443.2 730h0M441.1 510.9h0M441.1 614.7h0M440.8 673.9h0" stroke="#000080" stroke-width="4" stroke-linecap="round" fill="none"/><path d="M440.7 782.4h0" stroke="#0028ff" stroke-width="4" stroke-linecap="round" fill="none"/><path d="M443 855.1h0M442.7 819.4h0" stroke="#800000" stroke-width="4" stroke-linecap="round" fill="none"/><path d="M441.4 739.4h0" stroke="#ffe600" stroke-width="4" stroke-linecap="round" fill="none"/><path d="M440.9 554.8h0" stroke="#c1ff36" stroke-width="4" stroke-linecap="round" fill="none"/><path d="M443.1 624.6h0M441.2 782h0" stroke="#ff1300" stroke-width="4" stroke-linecap="round" fill="none"/><path d="M442.6 779h0M441.3 799.7h0M442.9 820.4h0" stroke="#000080" stroke-width="4" stroke-linecap="round" fill="none"/><path d="M440.7 753h0M441.4 628.5h0" stroke="#ff7a00" stroke-width="4" stroke-linecap="round" fill="none"/><path d="M443.3 795.1h0" stroke="#ff1300" stroke-width="4" stroke-linecap="round" fill="none"/><path d="M443.2 727.1h0M441 536.4h0" stroke="#0028ff" stroke-width="4" stroke-linecap="round" fill="none"/><path d="M440.7 747h0M443.1 821.4h0" stroke="#c1ff36" stroke-width="4" stroke-linecap="round" fill="none"/><path d="M440.6 681.2h0" stroke="#00d4ff" stroke-width="4" stroke-linecap="round" fill="none"/><path d="M441.1 566.1h0" stroke="#800000" stroke-width="4" stroke-linecap="round" fill="none"/><path d="M441.2 542h0M443.4 672.6h0" stroke="#800000" stroke-width="4" stroke-linecap="round" fill="none"/><path d="M442.6 666.3h0M440.9 838.2h0" stroke="#ff7a00" stroke-width="4" stroke-linecap="round" fill="none"/><path d="M442.8 797.5h0M440.6 698.9h0M440.7 780.5h0" stroke="#000080" stroke-width="4" stroke-linecap="round" fill="none"/><path d="M440.7 710.7h0" stroke="#0028ff" stroke-width="4" stroke-linecap="round" fill="none"/><path d="M440.9 827h0" stroke="#007dff" stroke-width="4" stroke-linecap="round" fill="none"/><path d="M442.9 667.9h0M440.7 654.6h0" stroke="#00d4ff" stroke-width="4" stroke-linecap="round" fill="none"/><path d="M440.7 595h0" stroke="#c1ff36" stroke-width="4" stroke-linecap="round" fill="none"/><path d="M440.6 616.6h0M442.5 687.3h0M441.4 815.7h0" stroke="#007dff" stroke-width="4" stroke-linecap="round" fill="none"/><path d="M441.2 603h0M441.3 702.4h0M441.3 622.9h0M440.7 732.2h0" stroke="#800000" stroke-width="4" stroke-linecap="round" fill="none"/><path d="M443.1 517.6h0M443 779.4h0M440.7 771h0" stroke="#0028ff" stroke-width="4" stroke-linecap="round" fill="none"/><path d="M440.8 590.5h0" stroke="#000080" stroke-width="4" stroke-linecap="round" fill="none"/><path d="M441 706.9h0" stroke="#ffe600" stroke-width="4" stroke-linecap="round" fill="none"/><path d="M441.4 563.6h0M443.3 578.7h0M443 660.5h0M442.8 588.3h0M443.3 603.1h0M443.4 596h0" stroke="#800000" stroke-width="4" stroke-linecap="round" fill="none"/><path d="M443.2 857.5h0M443.5 652.7h0" stroke="#000080" stroke-width="4" stroke-linecap="round" fill="none"/><path d="M443.2 829.7h0" stroke="#007dff" stroke-width="4" stroke-linecap="round" fill="none"/><path d="M443.3 809h0" stroke="#ff1300" stroke-width="4" stroke-linecap="round" fill="none"/><path d="M440.6 714.4h0" stroke="#ffe600" stroke-width="4" stroke-linecap="round" fill="none"/><path d="M443.1 657.1h0" stroke="#c1ff36" stroke-width="4" stroke-linecap="round" fill="none"/><path d="M440.8 748h0" stroke="#ff1300" stroke-width="4" stroke-linecap="round" fill="none"/><path d="M442.7 641.6h0M443.4 621.2h0M440.6 831h0M440.8 572.4h0" stroke="#800000" stroke-width="4" stroke-linecap="round" fill="none"/><path d="M442.7 790h0" stroke="#007dff" stroke-width="4" stroke-linecap="round" fill="none"/><path d="M443.1 675.4h0M440.5 517h0M441.5 532.2h0" stroke="#000080" stroke-width="4" stroke-linecap="round" fill="none"/><path d="M441.1 736.2h0" stroke="#00d4ff" stroke-width="4" stroke-linecap="round" fill="none"/><path d="M443.1 580.9h0" stroke="#ffe600" stroke-width="4" stroke-linecap="round" fill="none"/><path d="M440.8 792.2h0" stroke="#0028ff" stroke-width="4" stroke-linecap="round" fill="none"/><path d="M442.9 828.6h0M443.2 699.5h0" stroke="#ffe600" stroke-width="4" stroke-linecap="round" fill="none"/><path d="M441.4 638.1h0M443.2 682.7h0M440.6 774.9h0M440.8 754.1h0M443 586.1h0" stroke="#800000" stroke-width="4" stroke-linecap="round" fill="none"/><path d="M440.9 762.1h0M441.3 675h0" stroke="#c1ff36" stroke-width="4" stroke-linecap="round" fill="none"/><path d="M440.9 576h0" stroke="#ff1300" stroke-width="4" stroke-linecap="round" fill="none"/><path d="M442.8 526h0M441.4 609h0" stroke="#000080" stroke-width="4" stroke-linecap="round" fill="none"/><path d="M441.3 810.3h0M441.5 715.9h0" stroke="#ffe600" stroke-width="4" stroke-linecap="round" fill="none"/><path d="M443.5 806.9h0M442.8 645.9h0M442.9 736.8h0M440.6 633.1h0M442.7 750.1h0M443.2 764h0M443.4 607.1h0" stroke="#800000" stroke-width="4" stroke-linecap="round" fill="none"/><path d="M442.6 738.4h0M443.4 643.6h0" stroke="#000080" stroke-width="4" stroke-linecap="round" fill="none"/><path d="M441 549.2h0" stroke="#c1ff36" stroke-width="4" stroke-linecap="round" fill="none"/><path d="M443.4 680.4h0M440.9 787.7h0M441.3 766h0M443.5 766.6h0" stroke="#800000" stroke-width="4" stroke-linecap="round" fill="none"/><path d="M443.3 765.2h0M441 546.2h0M441.2 829.4h0" stroke="#000080" stroke-width="4" stroke-linecap="round" fill="none"/><path d="M442.9 547.7h0M443 781.8h0" stroke="#00d4ff" stroke-width="4" stroke-linecap="round" fill="none"/><path d="M442.5 591.4h0" stroke="#ffe600" stroke-width="4" stroke-linecap="round" fill="none"/><path d="M442.9 551.7h0" stroke="#c1ff36" stroke-width="4" stroke-linecap="round" fill="none"/><path d="M442.8 746.5h0" stroke="#007dff" stroke-width="4" stroke-linecap="round" fill="none"/><path d="M441 520.2h0M443.2 850.8h0M442.5 685.7h0" stroke="#000080" stroke-width="4" stroke-linecap="round" fill="none"/><path d="M442.7 541.5h0M441.4 716.7h0M441 730h0M441.3 832.1h0" stroke="#800000" stroke-width="4" stroke-linecap="round" fill="none"/><path d="M443 574.1h0" stroke="#c1ff36" stroke-width="4" stroke-linecap="round" fill="none"/><path d="M440.7 566.7h0M441 737.7h0" stroke="#00d4ff" stroke-width="4" stroke-linecap="round" fill="none"/><path d="M441.3 569.4h0" stroke="#ff7a00" stroke-width="4" stroke-linecap="round" fill="none"/><path d="M443.4 688.6h0" stroke="#ffe600" stroke-width="4" stroke-linecap="round" fill="none"/><path d="M440.9 632.1h0" stroke="#ff1300" stroke-width="4" stroke-linecap="round" fill="none"/><path d="M440.5 561.3h0M442.6 636h0M442.8 707.4h0M441.1 841h0M442.9 759h0M443.5 772.5h0" stroke="#800000" stroke-width="4" stroke-linecap="round" fill="none"/><path d="M443.2 830.8h0M440.7 695.4h0" stroke="#ffe600" stroke-width="4" stroke-linecap="round" fill="none"/><path d="M441.2 559h0" stroke="#000080" stroke-width="4" stroke-linecap="round" fill="none"/><path d="M441.5 764.9h0" stroke="#ff7a00" stroke-width="4" stroke-linecap="round" fill="none"/><path d="M441 552.2h0" stroke="#c1ff36" stroke-width="4" stroke-linecap="round" fill="none"/><path d="M443.2 629.7h0M442.6 677.6h0M441.1 855.5h0M441.1 789h0" stroke="#800000" stroke-width="4" stroke-linecap="round" fill="none"/><path d="M441.5 639.3h0M440.6 741.2h0" stroke="#0028ff" stroke-width="4" stroke-linecap="round" fill="none"/><path d="M443.2 852.6h0M441.2 820.1h0M442.8 556.1h0M443.3 565.5h0" stroke="#000080" stroke-width="4" stroke-linecap="round" fill="none"/><path d="M441.3 806.6h0" stroke="#ffe600" stroke-width="4" stroke-linecap="round" fill="none"/><path d="M440.5 693.2h0" stroke="#ff1300" stroke-width="4" stroke-linecap="round" fill="none"/><path d="M440.6 522h0M440.6 621.4h0M440.5 665.5h0" stroke="#000080" stroke-width="4" stroke-linecap="round" fill="none"/><path d="M440.8 695.1h0M443.3 628.6h0M442.8 616.7h0" stroke="#800000" stroke-width="4" stroke-linecap="round" fill="none"/><path d="M441.2 847.8h0M443.4 634.3h0M440.8 720.4h0" stroke="#007dff" stroke-width="4" stroke-linecap="round" fill="none"/><path d="M441.1 580.8h0M441.4 742.8h0" stroke="#00d4ff" stroke-width="4" stroke-linecap="round" fill="none"/><path d="M442.6 817.1h0" stroke="#ff7a00" stroke-width="4" stroke-linecap="round" fill="none"/><path d="M443 769.3h0M440.6 703.4h0M443.4 519.5h0M443 752.6h0M443 803.6h0" stroke="#800000" stroke-width="4" stroke-linecap="round" fill="none"/><path d="M440.8 824.6h0" stroke="#ff1300" stroke-width="4" stroke-linecap="round" fill="none"/><path d="M440.8 708.1h0" stroke="#0028ff" stroke-width="4" stroke-linecap="round" fill="none"/><path d="M440.8 679.7h0M442.7 810.9h0" stroke="#007dff" stroke-width="4" stroke-linecap="round" fill="none"/><path d="M440.5 691.7h0M440.5 721.9h0" stroke="#000080" stroke-width="4" stroke-linecap="round" fill="none"/><path d="M441 669.5h0" stroke="#ffe600" stroke-width="4" stroke-linecap="round" fill="none"/><path d="M443.1 825.6h0M443.4 680h0M443 849.5h0M442.8 709.6h0" stroke="#000080" stroke-width="4" stroke-linecap="round" fill="none"/><path d="M440.7 578.6h0M440.7 758.9h0" stroke="#00d4ff" stroke-width="4" stroke-linecap="round" fill="none"/><path d="M443.1 726.3h0M442.6 823.9h0" stroke="#800000" stroke-width="4" stroke-linecap="round" fill="none"/><path d="M440.2 821.9h0M439.7 852.2h0M441 805.9h0M440.3 815h0M443.2 835.9h0M442.6 842h0" stroke="#800000" stroke-width="4" stroke-linecap="round" fill="none"/><path d="M441.1 796.2h0" stroke="#000080" stroke-width="4" stroke-linecap="round" fill="none"/><path d="M441.2 786.7h0M442.7 771h0M440.9 808.5h0" stroke="#ff7a00" stroke-width="4" stroke-linecap="round" fill="none"/><path d="M440 767.1h0M442.2 820h0M440.4 848.3h0M440 774.4h0" stroke="#800000" stroke-width="4" stroke-linecap="round" fill="none"/><path d="M441.1 836.9h0M442.6 778.7h0M441.7 768.6h0M440 851.4h0" stroke="#ff7a00" stroke-width="4" stroke-linecap="round" fill="none"/><path d="M440.7 791.5h0M441 822.4h0" stroke="#0028ff" stroke-width="4" stroke-linecap="round" fill="none"/><path d="M441.9 810.4h0" stroke="#0028ff" stroke-width="4" stroke-linecap="round" fill="none"/><path d="M442 818.4h0M443 778h0M442.6 769.4h0M442.1 769.7h0M440.4 847h0M441.9 767.3h0M440.9 841h0" stroke="#800000" stroke-width="4" stroke-linecap="round" fill="none"/><path d="M443.1 855.5h0" stroke="#000080" stroke-width="4" stroke-linecap="round" fill="none"/><path d="M439.7 797.5h0" stroke="#ff7a00" stroke-width="4" stroke-linecap="round" fill="none"/><path d="M442.1 825.6h0M440.4 852.5h0" stroke="#ff7a00" stroke-width="4" stroke-linecap="round" fill="none"/><path d="M439.8 840.5h0M441.1 790.7h0M441.7 818.7h0M442.5 788.5h0M441.3 800.3h0M442.7 769.1h0" stroke="#800000" stroke-width="4" stroke-linecap="round" fill="none"/><path d="M442.9 798.8h0M440.9 819.9h0" stroke="#000080" stroke-width="4" stroke-linecap="round" fill="none"/><path d="M442.3 848.4h0M441.2 826.4h0M442.8 805h0M440.8 809.8h0M441.9 847.3h0M440.7 782.8h0" stroke="#800000" stroke-width="4" stroke-linecap="round" fill="none"/><path d="M443.3 806.8h0M442.4 794.8h0M441.3 768.9h0M442.4 816.7h0" stroke="#ff7a00" stroke-width="4" stroke-linecap="round" fill="none"/><path d="M440.1 847.9h0M440.5 796.4h0M441.7 856.4h0M440.3 818.7h0M440.2 773.2h0" stroke="#800000" stroke-width="4" stroke-linecap="round" fill="none"/><path d="M440.9 774.1h0" stroke="#000080" stroke-width="4" stroke-linecap="round" fill="none"/><path d="M443 806.4h0M441.7 772.9h0M440.3 816.9h0" stroke="#ff7a00" stroke-width="4" stroke-linecap="round" fill="none"/><path d="M441.1 834.7h0" stroke="#0028ff" stroke-width="4" stroke-linecap="round" fill="none"/><path d="M434.4 557.9h0M433.7 531.9h0M433.2 572h0" stroke="#000080" stroke-width="4" stroke-linecap="round" fill="none"/><path d="M435 612.1h0M434.9 535.4h0M435.1 530.1h0" stroke="#ff7a00" stroke-width="4" stroke-linecap="round" fill="none"/><path d="M434.1 610.8h0" stroke="#800000" stroke-width="4" stroke-linecap="round" fill="none"/><path d="M435.3 633.5h0" stroke="#ffe600" stroke-width="4" stroke-linecap="round" fill="none"/><path d="M433.1 580.7h0M434.5 598.1h0" stroke="#c1ff36" stroke-width="4" stroke-linecap="round" fill="none"/><path d="M435.2 557.6h0M433.4 526.5h0M434.5 545.7h0" stroke="#000080" stroke-width="4" stroke-linecap="round" fill="none"/><path d="M434.2 551.6h0" stroke="#c1ff36" stroke-width="4" stroke-linecap="round" fill="none"/><path d="M433.2 538.8h0M435.4 604.2h0" stroke="#ff7a00" stroke-width="4" stroke-linecap="round" fill="none"/><path d="M435.4 576.5h0M435 547h0M433.5 578.6h0" stroke="#800000" stroke-width="4" stroke-linecap="round" fill="none"/><path d="M434.3 609.9h0" stroke="#ffe600" stroke-width="4" stroke-linecap="round" fill="none"/><path d="M433.1 627.6h0" stroke="#00d4ff" stroke-width="4" stroke-linecap="round" fill="none"/><path d="M434.2 564h0M435 591.3h0" stroke="#c1ff36" stroke-width="4" stroke-linecap="round" fill="none"/><path d="M435.4 594.8h0M434.7 591.1h0" stroke="#ffe600" stroke-width="4" stroke-linecap="round" fill="none"/><path d="M434.3 628.4h0" stroke="#800000" stroke-width="4" stroke-linecap="round" fill="none"/><path d="M437.8 572.5h0M437.9 569.3h0M437.9 596.5h0M437.9 609.1h0" stroke="#800000" stroke-width="4" stroke-linecap="round" fill="none"/><path d="M437.4 609.1h0" stroke="#c1ff36" stroke-width="4" stroke-linecap="round" fill="none"/><path d="M437.1 566.7h0M437.8 579.3h0M436.8 593h0" stroke="#000080" stroke-width="4" stroke-linecap="round" fill="none"/><path d="M437.7 631.2h0" stroke="#00d4ff" stroke-width="4" stroke-linecap="round" fill="none"/><path d="M437 634.9h0" stroke="#ffe600" stroke-width="4" stroke-linecap="round" fill="none"/><path d="M436.6 593.7h0M438 631.1h0M438.2 580h0M437.2 571.9h0M437.4 600.2h0M438 599.4h0M437.3 564.7h0" stroke="#000080" stroke-width="4" stroke-linecap="round" fill="none"/><path d="M437.5 600.7h0M437.8 592.6h0" stroke="#800000" stroke-width="4" stroke-linecap="round" fill="none"/><path d="M436.4 632.8h0" stroke="#c1ff36" stroke-width="4" stroke-linecap="round" fill="none"/><path d="M436.3 541.8h0" stroke="#00d4ff" stroke-width="4" stroke-linecap="round" fill="none"/><path d="M437.1 618.9h0" stroke="#000080" stroke-width="4" stroke-linecap="round" fill="none"/><path d="M433.6 854h0M433.3 783.7h0M433.6 822.1h0" stroke="#0060ff" stroke-width="4" stroke-linecap="round" fill="none"/><path d="M432.8 847.8h0M433.7 804.8h0" stroke="#00d4ff" stroke-width="4" stroke-linecap="round" fill="none"/><path d="M432.7 805.5h0" stroke="#000080" stroke-width="4" stroke-linecap="round" fill="none"/><path d="M432.9 824h0M434.1 774.6h0M432.8 799.7h0" stroke="#800000" stroke-width="4" stroke-linecap="round" fill="none"/><path d="M433.7 807.7h0" stroke="#ffe600" stroke-width="4" stroke-linecap="round" fill="none"/><path d="M433.9 787.3h0M434.2 851.9h0M433.6 788.2h0" stroke="#800000" stroke-width="4" stroke-linecap="round" fill="none"/><path d="M434.8 798.1h0M433.5 817.4h0M433.5 796.6h0M433 855.5h0" stroke="#000080" stroke-width="4" stroke-linecap="round" fill="none"/><path d="M433.6 817.7h0M434.4 808.6h0" stroke="#0060ff" stroke-width="4" stroke-linecap="round" fill="none"/><path d="M434.1 841.8h0" stroke="#ffe600" stroke-width="4" stroke-linecap="round" fill="none"/><path d="M433.8 792.5h0M434.9 801.4h0M434 806.2h0" stroke="#000080" stroke-width="4" stroke-linecap="round" fill="none"/><path d="M433.6 773.4h0M434.1 833.5h0" stroke="#800000" stroke-width="4" stroke-linecap="round" fill="none"/><path d="M434.2 855.7h0M434.5 775.6h0" stroke="#0060ff" stroke-width="4" stroke-linecap="round" fill="none"/><path d="M433.9 833.9h0" stroke="#00d4ff" stroke-width="4" stroke-linecap="round" fill="none"/><path d="M434.5 636L436.5 633L437.5 623L440 617L440.5 637L440.5 677L440.5 717L440.5 752L440 768L437 768L433.5 770L430.5 765L430 755L431.5 742L432.5 727L433 707L432.5 687L433 667L433 649Z" fill="#00b8ff" stroke="#00b8ff" stroke-width="1.5" stroke-linejoin="round"/><path d="M435.2 757V762" stroke="#aaff4d" stroke-width="1.8" fill="none"/><path d="M433.8 758V762M435.2 755V757M435.2 762V764" stroke="#94ff63" stroke-width="1.8" fill="none"/><path d="M433.8 756V758M433.8 762V764M435.2 754V755M435.2 764V765" stroke="#7aff7d" stroke-width="1.8" fill="none"/><path d="M433.8 755V756M433.8 764V765M435.2 753V754M435.2 765V766M436.8 758V761" stroke="#63ff94" stroke-width="1.8" fill="none"/><path d="M432.2 756V763M433.8 754V755M433.8 765V766M435.2 752V753M435.2 766V767M436.8 755V758M436.8 761V764" stroke="#4dffaa" stroke-width="1.8" fill="none"/><path d="M432.2 754V756M432.2 763V765M433.8 752V754M433.8 766V767M435.2 751V752M435.2 767V768M436.8 754V755M436.8 764V765" stroke="#36ffc1" stroke-width="1.8" fill="none"/><path d="M430.8 756V766M432.2 753V754M432.2 765V766M433.8 751V752M433.8 767V769M435.2 749V751M435.2 768V770M436.8 752V754M436.8 765V767M438.2 756V767" stroke="#1fffd7" stroke-width="1.8" fill="none"/><path d="M430.8 753V756M432.2 751V753M432.2 766V768M433.8 750V751M433.8 769V770M435.2 748V749M436.8 635V653M436.8 750V752M436.8 767V769M438.2 622V634M438.2 753V756M438.2 767V769" stroke="#09f0ee" stroke-width="1.8" fill="none"/><path d="M430.8 750V753M432.2 749V751M433.8 643V646M433.8 749V750M435.2 635V654M435.2 745V748M436.8 631V635M436.8 653V667M436.8 748V750M438.2 634V646M438.2 657V682M438.2 751V753" stroke="#00d4ff" stroke-width="1.8" fill="none"/><path d="M432.2 735V744M433.8 661V695M433.8 715V735M433.8 741V746M435.2 719V735M436.8 681V743M438.2 692V706M438.2 728V747M439.8 633V665M439.8 683V695M439.8 715V769" stroke="#009cff" stroke-width="1.8" fill="none"/><path d="M433.8 735V741M439.8 695V715" stroke="#007dff" stroke-width="1.8" fill="none"/><path d="M440.5 607L444 606L446.5 613L447.5 627L447 640L445.5 652L445.5 672L445 686L440.5 686Z" fill="#00d4ff" stroke="#00d4ff" stroke-width="1.5" stroke-linejoin="round"/><path d="M444.2 644V653" stroke="#1fffd7" stroke-width="1.8" fill="none"/><path d="M444.2 607V616M444.2 627V644M444.2 653V670M444.2 682V686" stroke="#09f0ee" stroke-width="1.8" fill="none"/><path d="M441.2 607V631M441.2 673V686M442.8 607V627M442.8 655V686M445.8 620V643" stroke="#00b8ff" stroke-width="1.8" fill="none"/><path d="M445.8 611V620M445.8 643V651" stroke="#009cff" stroke-width="1.8" fill="none"/><path d="M440.5 736L445.5 736L446 749L445 765L440.5 766Z" fill="#00b8ff" stroke="#00b8ff" stroke-width="1.5" stroke-linejoin="round"/><path d="M441.2 756V766M442.8 753V766M444.2 737V744" stroke="#009cff" stroke-width="1.8" fill="none"/><path d="M441.2 737V756" stroke="#007dff" stroke-width="1.8" fill="none"/><path d="M439.5 608.3h0M439.5 684h0M439.4 736.3h0" stroke="#bf0000" stroke-width="1.6" stroke-linecap="round" fill="none"/><path d="M439.4 631.2h0M439.4 660.8h0M439.3 762.1h0M439.3 617.9h0M439.4 694.6h0M439.5 672.9h0M439.4 696.6h0" stroke="#800000" stroke-width="1.6" stroke-linecap="round" fill="none"/><path d="M439.5 698.9h0M439.3 727.9h0M439.3 617.8h0M439.5 701.2h0M439.5 672.1h0M439.3 746.7h0M439.4 700.6h0M439.3 703h0M439.4 755.7h0" stroke="#800000" stroke-width="1.6" stroke-linecap="round" fill="none"/><path d="M439.5 736.8h0" stroke="#bf0000" stroke-width="1.6" stroke-linecap="round" fill="none"/><path d="M439.3 659.7h0M439.3 744.5h0M439.3 696.6h0M439.5 690.6h0M439.4 694.2h0M439.3 617.9h0M439.3 654.8h0M439.5 757.9h0" stroke="#800000" stroke-width="1.6" stroke-linecap="round" fill="none"/><path d="M439.3 641.1h0M439.4 623.5h0" stroke="#bf0000" stroke-width="1.6" stroke-linecap="round" fill="none"/><path d="M439.4 610.3h0M439.3 763.2h0M439.4 726.6h0M439.5 750.1h0M439.5 623.5h0M439.4 686.6h0M439.4 663.7h0" stroke="#800000" stroke-width="1.6" stroke-linecap="round" fill="none"/><path d="M439.4 658.3h0M439.5 721.5h0M439.5 742.9h0" stroke="#bf0000" stroke-width="1.6" stroke-linecap="round" fill="none"/><path d="M439.5 629h0M439.5 619.2h0M439.4 650h0M439.3 747.5h0M439.3 729h0M439.5 619.8h0M439.3 671.1h0M439.3 671.9h0" stroke="#800000" stroke-width="1.6" stroke-linecap="round" fill="none"/><path d="M439.3 688h0M439.4 750.3h0" stroke="#bf0000" stroke-width="1.6" stroke-linecap="round" fill="none"/><path d="M439.3 696.1h0M439.5 736.6h0" stroke="#bf0000" stroke-width="1.6" stroke-linecap="round" fill="none"/><path d="M439.4 687.7h0M439.3 732.5h0M439.4 614h0M439.5 670.1h0M439.5 618.2h0M439.4 656.4h0M439.4 695.2h0M439.4 646.6h0" stroke="#800000" stroke-width="1.6" stroke-linecap="round" fill="none"/><path d="M439.5 706.1h0M439.3 700h0M439.3 661.1h0M439.3 689.1h0M439.4 668.4h0M439.4 676.1h0M439.5 758.1h0M439.4 662.8h0" stroke="#800000" stroke-width="1.6" stroke-linecap="round" fill="none"/><path d="M439.4 720.2h0M439.5 715.8h0" stroke="#bf0000" stroke-width="1.6" stroke-linecap="round" fill="none"/><path d="M439.3 723.5h0M439.5 622.9h0M439.3 609.4h0M439.3 665.8h0M439.3 688.3h0M439.3 674h0" stroke="#800000" stroke-width="1.6" stroke-linecap="round" fill="none"/><path d="M439.4 623.7h0M439.4 750.3h0M439.5 699.6h0M439.3 728.4h0" stroke="#bf0000" stroke-width="1.6" stroke-linecap="round" fill="none"/><path d="M439.4 616.8h0M439.5 636.1h0M439.5 739.9h0M439.5 699.9h0M439.4 709.8h0M439.3 759.1h0M439.3 697h0M439.4 721h0" stroke="#800000" stroke-width="1.6" stroke-linecap="round" fill="none"/><path d="M439.5 629h0M439.3 697.5h0" stroke="#bf0000" stroke-width="1.6" stroke-linecap="round" fill="none"/><path d="M439.3 750.4h0M439.4 740.1h0M439.3 678.5h0M439.3 646.6h0M439.4 746.6h0M439.4 613.9h0M439.3 611h0" stroke="#800000" stroke-width="1.6" stroke-linecap="round" fill="none"/><path d="M439.3 607.7h0M439.3 647.4h0M439.4 653.5h0" stroke="#bf0000" stroke-width="1.6" stroke-linecap="round" fill="none"/><path d="M439.5 661.2h0M439.5 715h0M439.5 625h0M439.4 659.9h0M439.4 754.6h0M439.3 718.8h0M439.3 747.7h0" stroke="#800000" stroke-width="1.6" stroke-linecap="round" fill="none"/><path d="M439.5 659h0M439.4 737.3h0M439.3 608.5h0" stroke="#bf0000" stroke-width="1.6" stroke-linecap="round" fill="none"/><path d="M442.2 726.3h0M440.8 729.7h0" stroke="#ff7a00" stroke-width="4" stroke-linecap="round" fill="none"/><path d="M442.4 719.5h0" stroke="#ff9800" stroke-width="4" stroke-linecap="round" fill="none"/><path d="M440.7 711.2h0M443.1 704h0" stroke="#000080" stroke-width="4" stroke-linecap="round" fill="none"/><path d="M440.3 718.5h0M442.6 730.6h0M441.9 699.5h0" stroke="#800000" stroke-width="4" stroke-linecap="round" fill="none"/><path d="M440.4 722.1h0" stroke="#0000ff" stroke-width="4" stroke-linecap="round" fill="none"/><path d="M442.3 728.8h0" stroke="#ffe600" stroke-width="4" stroke-linecap="round" fill="none"/><path d="M442.9 689h0M441.3 722.1h0M440.4 712.3h0M441 690h0M441.8 692.5h0" stroke="#000080" stroke-width="4" stroke-linecap="round" fill="none"/><path d="M440.1 714.6h0M442.5 726.5h0" stroke="#ff9800" stroke-width="4" stroke-linecap="round" fill="none"/><path d="M442.3 730.1h0M441.4 704.4h0" stroke="#0000ff" stroke-width="4" stroke-linecap="round" fill="none"/><path d="M441.1 726.9h0" stroke="#800000" stroke-width="4" stroke-linecap="round" fill="none"/><path d="M440.8 713.8h0M440.8 702.2h0M441.9 715.1h0" stroke="#800000" stroke-width="4" stroke-linecap="round" fill="none"/><path d="M441.1 720.7h0M440.6 709.9h0" stroke="#ff7a00" stroke-width="4" stroke-linecap="round" fill="none"/><path d="M441.1 727.4h0M440 728.1h0M441.1 690.2h0" stroke="#000080" stroke-width="4" stroke-linecap="round" fill="none"/><path d="M440.5 699.8h0M442.6 705.5h0" stroke="#ff9800" stroke-width="4" stroke-linecap="round" fill="none"/><path d="M440.3 717.8h0" stroke="#ff9800" stroke-width="4" stroke-linecap="round" fill="none"/><path d="M441.1 702.7h0M440.1 713.3h0" stroke="#ffe600" stroke-width="4" stroke-linecap="round" fill="none"/><path d="M441.5 725.6h0M442.3 721.8h0M443.1 705.6h0M441.1 697.8h0" stroke="#000080" stroke-width="4" stroke-linecap="round" fill="none"/><path d="M441.4 696.9h0M442.1 725.3h0" stroke="#ff7a00" stroke-width="4" stroke-linecap="round" fill="none"/><path d="M441.8 717.8h0" stroke="#800000" stroke-width="4" stroke-linecap="round" fill="none"/><path d="M440.3 727.5h0" stroke="#0000ff" stroke-width="4" stroke-linecap="round" fill="none"/><path d="M440.8 726.5h0M441 701.3h0" stroke="#000080" stroke-width="4" stroke-linecap="round" fill="none"/><path d="M441 706.9h0" stroke="#ff9800" stroke-width="4" stroke-linecap="round" fill="none"/><path d="M442.9 701.9h0" stroke="#ff7a00" stroke-width="4" stroke-linecap="round" fill="none"/><path d="M446.5 631h0M447 634h0M446.5 637h0M447 639h0M436 650h0" stroke="#0000bf" stroke-width="4" stroke-linecap="round" fill="none"/><path d="M441 708h0" stroke="#ff1300" stroke-width="4" stroke-linecap="round" fill="none"/><path d="M436.5 653h0" stroke="#0000df" stroke-width="4" stroke-linecap="round" fill="none"/><path d="M468 678L470.5 681L471.5 689L472 699L473 709L472.5 717L471 722L469.5 719L468 709L467 699L467 687Z" fill="#00b8ff" stroke="#00b8ff" stroke-width="1.5" stroke-linejoin="round"/><path d="M469.2 707V718" stroke="#09f0ee" stroke-width="1.8" fill="none"/><path d="M467.8 681V693M469.2 680V707M472.2 710V714" stroke="#00d4ff" stroke-width="1.8" fill="none"/><path d="M506 676.8h0M530.5 677.3h0M519.5 685.8h0M671 664.8h0M698.5 673h0M506.5 693.3h0M545 700.2h0M538 709.2h0M541 710.8h0M533.7 721.8h0M515 725.2h0M517.8 731.2h0M543.2 730h0M542.5 733h0M540.5 739h0M565.2 722.8h0M566.2 731.2h0M583 712.5h0M585 710h0M586.5 731h0M595.3 690.3h0M601.2 692.8h0M599.5 707h0M609.5 733.5h0M626.7 695h0M643.2 691.8h0M636 703.2h0M646.2 701.5h0M637 716h0M665 713h0M676 695.8h0M688.5 712.3h0M694 717.5h0M525 752.2h0M518.8 755h0M524 756.8h0M519.5 759.5h0M521.5 758h0M546.3 753h0M509.7 763h0M501 763.5h0M521.8 767.8h0M528 768h0M577.8 767h0M578.7 769.8h0M587.3 764h0M586 768h0M596.8 760.5h0M596.7 771h0M605.7 763.5h0M609 766.5h0M624.3 754.3h0M641 752.5h0M645.5 756.5h0M630.7 763.8h0M645 763.5h0M651 770h0M664.5 749.3h0M670.7 749.5h0M672.2 766.3h0M576.5 777.5h0M593.2 777h0M593.2 779.2h0M647.5 778.5h0M682 777.2h0M616.3 788.5h0M624 790.2h0M601 794.5h0M681.2 789.7h0M676 793.5h0M621 797.5h0M621.5 800.5h0M579 801.2h0M657.5 802.5h0M591.5 805.5h0M627.5 805.5h0M587.7 811.2h0M595.3 812.5h0M651.3 810.5h0M657.8 811.2h0M670 811h0M677.5 810h0M677.5 812.8h0M558.7 814.7h0M579.3 814.3h0M643.5 816.5h0M504.8 825.3h0M506.2 825.3h0M538 825.2h0M598.6 825.3h0M600 825.3h0M612.8 825.3h0M614.2 825.3h0M685 825.3h0M730 673h0M736.7 675.5h0M732 680.2h0M762.2 696.5h0M734 709.3h0M759.5 711.3h0M694 717.3h0M717.8 717.8h0M747.2 717.5h0M758 717.5h0M728.5 739.3h0M723.7 747.5h0M737.5 756.3h0M718.5 760.3h0M713.7 764.2h0M757.7 766h0M741.5 771.3h0M681.5 789.8h0M733 795.7h0M719 799.8h0M722 803h0M735 806h0M756 806.5h0M781.8 727.5h0M790.8 794.3h0M784 805h0M802 805.5h0" stroke="#7aff7d" stroke-width="4" stroke-linecap="round" fill="none"/><path d="M611 682.5h0M611.3 685h0M525.5 693h0M526.5 695.5h0" stroke="#1fffd7" stroke-width="4" stroke-linecap="round" fill="none"/><path d="M525.5 688h0M524.5 690.5h0" stroke="#36ffc1" stroke-width="4" stroke-linecap="round" fill="none"/><path d="M588.5 709.8h0M585 720.8h0M606 736.5h0M609.5 742.8h0M750.2 679.2h0M719.7 707.5h0M755.8 754.5h0M757.3 754.3h0M760.5 754.3h0M757.2 782.5h0" stroke="#94ff63" stroke-width="4" stroke-linecap="round" fill="none"/><path d="M609 695h0M694.5 693.5h0" stroke="#007dff" stroke-width="4" stroke-linecap="round" fill="none"/><path d="M606.3 707.3h0M629.5 714h0M630.5 716.5h0M631 713.5h0M694.3 693.3h0" stroke="#009cff" stroke-width="4" stroke-linecap="round" fill="none"/><path d="M605.5 714.5h0" stroke="#00d4ff" stroke-width="4" stroke-linecap="round" fill="none"/><path d="M629.5 719h0M697.8 627.5h0" stroke="#00b8ff" stroke-width="4" stroke-linecap="round" fill="none"/><path d="M707.2 667.2h0" stroke="#d7ff1f" stroke-width="4" stroke-linecap="round" fill="none"/><path d="M715 719.8h0" stroke="#eeff09" stroke-width="4" stroke-linecap="round" fill="none"/><path d="M742.3 762h0M742.6 764.3h0" stroke="#4dffaa" stroke-width="4" stroke-linecap="round" fill="none"/><path d="M784 754.2h0" stroke="#63ff94" stroke-width="4" stroke-linecap="round" fill="none"/><path d="M561 608L563 612L563.5 623L563 637L562.5 644L566 647L569 651L568.5 657L566 660L564 659L562.5 665L563 677L566.5 678L567 699L566 711L564 716L560.5 717L560.5 737L560 752L558 756L556 755L555 759L553 760.5L551 758L550.5 747L550.5 727L551 712L551 699L547 695L545.5 687L545.5 677L546 667L549 663L549 652L549.5 637L551 630L553 628L555 630L556 625L558 623L558.5 613Z" fill="#00b8ff" stroke="#00b8ff" stroke-width="1.5" stroke-linejoin="round"/><path d="M555.2 731V738" stroke="#36ffc1" stroke-width="1.8" fill="none"/><path d="M555.2 714V731M555.2 738V754M558.2 647V655" stroke="#1fffd7" stroke-width="1.8" fill="none"/><path d="M550.8 731V753M553.8 729V751M555.2 703V714M555.2 754V759M558.2 638V647M558.2 655V661M558.2 720V746M565.8 652V660M565.8 678V693" stroke="#09f0ee" stroke-width="1.8" fill="none"/><path d="M550.8 724V731M552.2 721V747M553.8 720V729M553.8 751V760M555.2 629V632M555.2 693V703M556.8 647V661M558.2 618V638M558.2 661V666M558.2 703V720M558.2 746V756M559.8 611V659M559.8 698V736M561.2 630V651M562.8 612V618M562.8 650V665M562.8 671V706M564.2 646V647M564.2 682V716M565.8 647V652M565.8 693V712M567.2 649V656M568.8 651V655" stroke="#00d4ff" stroke-width="1.8" fill="none"/><path d="M546.2 674V679M547.8 665V667M552.2 711V715M553.8 707V713M555.2 646V664M555.2 670V684M556.8 625V640M556.8 678V729M559.8 672V674M561.2 666V697" stroke="#009cff" stroke-width="1.8" fill="none"/><path d="M546.2 679V685M547.8 667V672M547.8 695V696M552.2 707V711M553.8 701V707M555.2 664V670" stroke="#007dff" stroke-width="1.8" fill="none"/><path d="M546.2 685V692M547.8 672V676M547.8 693V695M550.8 696V699M552.2 703V707M553.8 696V701" stroke="#0060ff" stroke-width="1.8" fill="none"/><path d="M547.8 676V680M547.8 690V693M550.8 693V696M552.2 700V703M553.8 629V632M553.8 690V696" stroke="#0045ff" stroke-width="1.8" fill="none"/><path d="M547.8 680V690M549.2 697V698M550.8 691V693M552.2 696V700M553.8 632V639M553.8 684V690" stroke="#0028ff" stroke-width="1.8" fill="none"/><path d="M549.2 694V697M550.8 688V691M552.2 692V696M553.8 639V646M553.8 678V684" stroke="#000dff" stroke-width="1.8" fill="none"/><path d="M549.2 669V676M549.2 690V694M550.8 632V635M550.8 686V688M552.2 629V631M552.2 689V692M553.8 646V656M553.8 669V678" stroke="#0000ff" stroke-width="1.8" fill="none"/><path d="M549.2 645V669M549.2 676V690M550.8 635V639M550.8 683V686M552.2 631V633M552.2 685V689M553.8 656V669" stroke="#0000df" stroke-width="1.8" fill="none"/><path d="M550.8 639V643M550.8 681V683M552.2 633V636M552.2 682V685" stroke="#0000bf" stroke-width="1.8" fill="none"/><path d="M550.8 643V646M550.8 678V681M552.2 636V638M552.2 678V682" stroke="#00009f" stroke-width="1.8" fill="none"/><path d="M550.8 646V678M552.2 638V678" stroke="#000080" stroke-width="1.8" fill="none"/><path d="M567.5 663L569.5 666L570.5 673L573 677L574 687L574 707L573.5 720L571 721.5L568.5 719L568 707L567.5 692L567.5 679L566 673Z" fill="#009cff" stroke="#009cff" stroke-width="1.5" stroke-linejoin="round"/><path d="M566.8 668V677M568.2 665V667M568.2 708V714M572.8 677V686" stroke="#00b8ff" stroke-width="1.8" fill="none"/><path d="M571.2 675V710" stroke="#007dff" stroke-width="1.8" fill="none"/><path d="M539 649.5L542 650L543 655L541 659L543.5 663L544 672L543.5 679L540 679.5L538.5 675L538.5 665L536.5 661L536.3 654Z" fill="#000080" stroke="#000080" stroke-width="1.5" stroke-linejoin="round"/><path d="M541.5 670V673" stroke="#007dff" stroke-width="1.8" fill="none"/><path d="M541.5 669V670M541.5 673V674" stroke="#0060ff" stroke-width="1.8" fill="none"/><path d="M541.5 674V675" stroke="#0045ff" stroke-width="1.8" fill="none"/><path d="M540 670V673M541.5 668V669" stroke="#0028ff" stroke-width="1.8" fill="none"/><path d="M540 669V670M540 673V674M541.5 667V668M541.5 675V676M543 670V674" stroke="#000dff" stroke-width="1.8" fill="none"/><path d="M540 668V669M540 674V676M541.5 676V677M543 668V670M543 674V675" stroke="#0000ff" stroke-width="1.8" fill="none"/><path d="M540 667V668M540 676V677M541.5 666V667M543 667V668M543 675V676" stroke="#0000df" stroke-width="1.8" fill="none"/><path d="M540 665V667M540 677V679M541.5 665V666M541.5 677V679M543 666V667M543 676V678" stroke="#0000bf" stroke-width="1.8" fill="none"/><path d="M540 663V665M540 679V680M541.5 663V665M541.5 679V680M543 663V666M543 678V680" stroke="#00009f" stroke-width="1.8" fill="none"/><path d="M535 670.5h0M536 673h0M535 675.5h0M542.2 636.4h0M541 677.5h0M542.5 678h0" stroke="#000080" stroke-width="4" stroke-linecap="round" fill="none"/><path d="M546.5 669h0M547 677h0M547 687h0" stroke="#0045ff" stroke-width="4" stroke-linecap="round" fill="none"/><path d="M573 614.5h0M573.5 617h0M573.5 619.5h0M572 638h0M572 640.5h0M577.5 629.5h0M561 617h0M560.5 643h0M558 733h0" stroke="#007dff" stroke-width="4" stroke-linecap="round" fill="none"/><path d="M573 708.5h0" stroke="#7aff7d" stroke-width="4" stroke-linecap="round" fill="none"/><path d="M552 734h0M551.5 746h0" stroke="#eeff09" stroke-width="4" stroke-linecap="round" fill="none"/><path d="M558.5 661h0" stroke="#36ffc1" stroke-width="4" stroke-linecap="round" fill="none"/><path d="M558 674h0" stroke="#4dffaa" stroke-width="4" stroke-linecap="round" fill="none"/><path d="M701.5 510.5h0M701.5 512.6h0M701.7 514.3h0M701.4 515.7h0M701.7 517.4h0M701.7 519.2h0M701.8 521.4h0M701.6 522.7h0M701.5 524.4h0M701.5 525.7h0M701.5 527.5h0M701.6 529h0M701.7 530.3h0M701.5 532.2h0M701.4 534.4h0M701.7 536.4h0M701.7 538.2h0M701.6 539.8h0M701.6 541.9h0M701.5 543.2h0M701.5 544.9h0M701.7 546.9h0M701.6 548.7h0M701.6 550.5h0M701.4 551.8h0M701.6 554.1h0M701.6 555.6h0M701.6 557.7h0M701.6 559.2h0M701.6 561.1h0M701.8 562.9h0M701.7 565h0M701.7 567.1h0M701.6 568.9h0M701.6 571.1h0M701.6 572.9h0M701.6 574.6h0M701.6 576.5h0M701.5 578h0M701.7 580.2h0M701.5 582.3h0M701.4 584.3h0M701.7 585.6h0M701.6 587h0M701.5 588.3h0M701.5 589.8h0M701.5 591.5h0M701.6 592.8h0M701.4 594.3h0M701.5 596.1h0M701.4 598.2h0M701.7 599.6h0M701.7 601.6h0M701.8 603.1h0M701.5 605h0M701.6 606.6h0M701.4 608.6h0M701.8 610.9h0M701.5 613.1h0M701.6 615.1h0M701.8 616.4h0M701.8 618.6h0M701.7 620h0M701.6 622h0M701.5 623.7h0M701.5 625.4h0M701.5 627.4h0M701.7 629h0M701.5 630.3h0M701.7 632.6h0M701.7 634.1h0M701.5 636.3h0M701.6 638.3h0M701.7 639.9h0M701.8 641.3h0M701.6 643.4h0M701.5 645h0M701.6 647.2h0M701.5 649.5h0M701.4 650.8h0M701.7 653h0M701.6 654.6h0M701.6 656.3h0M701.5 657.7h0M701.8 659.5h0M701.7 661.1h0M701.7 662.4h0M701.8 663.8h0M701.8 665.3h0M701.5 666.7h0M701.4 668.7h0M701.8 670.4h0M701.5 672h0M701.7 673.3h0M701.8 674.6h0M701.6 676.5h0M701.8 677.8h0M701.4 680.1h0M701.8 682.1h0M701.7 684.1h0M701.5 685.9h0M701.5 687.3h0M701.7 689h0M701.6 691.3h0M701.5 692.9h0M701.5 695.1h0M701.6 697h0M701.4 698.5h0M701.6 699.8h0M701.7 701.2h0M701.6 703.3h0M701.6 704.7h0M701.8 706.1h0M701.8 708.2h0M701.4 709.8h0M701.5 712h0M701.8 713.4h0M701.8 715h0M701.7 717.3h0M701.5 719.3h0M701.7 720.7h0M701.4 722.2h0M701.6 724.4h0M701.6 726.6h0M701.5 728.2h0M701.6 730.1h0M701.5 731.5h0M701.5 732.9h0M701.6 734.5h0M701.4 736.1h0M701.7 737.9h0M701.7 739.9h0M701.6 741.7h0M701.6 743.4h0M701.5 745.6h0M701.4 746.9h0M701.5 749.1h0M701.5 751.3h0M701.5 753.5h0M701.6 755.6h0M701.8 757.8h0M701.5 759.3h0M701.7 761.1h0M701.7 763.1h0M701.5 764.9h0M701.8 766.2h0M701.5 768.2h0M701.5 770.5h0M701.7 772.7h0M701.8 774.4h0" stroke="#800000" stroke-width="4.9" stroke-linecap="round" fill="none"/><path d="M701.8 794.5h0M701.4 795.8h0M701.7 797.9h0M701.6 799.8h0M701.6 801.2h0M701.8 803.3h0M701.6 805.1h0M701.4 806.4h0M701.6 808h0M701.6 809.8h0M701.5 811.1h0M701.8 812.9h0M701.8 814.4h0M701.8 816.4h0M701.5 818.6h0M701.5 820.9h0M701.6 822.9h0M701.8 824.7h0M701.5 826.8h0M701.6 829.1h0" stroke="#800000" stroke-width="4.9" stroke-linecap="round" fill="none"/><path d="M701.6 778.8h0" stroke="#800000" stroke-width="4" stroke-linecap="round" fill="none"/><path d="M702 529.5h0M702.1 531.2h0M702 532.5h0M702 534h0M702.2 535.8h0M702 537.7h0M702.1 539.9h0M702 541.9h0M702 543.8h0M702.1 546h0M702.2 548.2h0M702.2 549.9h0M702.2 552.2h0M702 553.6h0M702.1 555.3h0M702.1 557.1h0M702.1 559h0M702.2 561h0M702.2 563.4h0M702.2 565.5h0M702.2 567.4h0M702.1 569.6h0M702.2 570.9h0M702.2 572.3h0M702 573.7h0M702 575.9h0M702.2 577.2h0M702.2 579.4h0M702 581.7h0M702 583.7h0M702.1 585.4h0M702.2 586.7h0M702.2 589h0M702.1 590.7h0M702.1 592.6h0M702.1 594.9h0M702 596.9h0M702.1 599.2h0M702.1 600.5h0M702.1 601.8h0M702.1 603.1h0M702.1 605.1h0M702 607.2h0M702.2 609.2h0M702.1 610.9h0M702 612.6h0M702 614.5h0M702 616.6h0M702 618.6h0M702 620.7h0M702.2 622.5h0M702.1 624.1h0M702.2 625.8h0M702.1 627.4h0M702 629.2h0" stroke="#d7ff1f" stroke-width="4.4" stroke-linecap="round" fill="none"/><path d="M702 644h0M702 645.7h0M702.2 647.4h0M702 649.5h0M702 651h0M702.2 652.5h0M702.2 654.6h0M702.1 656.2h0M702.2 658.4h0M702.2 660.3h0M702.1 661.8h0M702.2 664.1h0M702.2 665.6h0M702.2 667.9h0M702.1 669.6h0M702 671h0M702 672.3h0M702.1 673.9h0M702.2 675.5h0" stroke="#d7ff1f" stroke-width="4.4" stroke-linecap="round" fill="none"/><path d="M701.8 701h0M701.9 703.1h0M701.7 705.4h0M701.8 707.7h0M701.8 709h0M701.8 710.9h0M701.7 712.4h0M701.7 714.5h0M701.8 715.9h0M701.9 717.1h0M701.9 718.6h0" stroke="#ff2d00" stroke-width="5" stroke-linecap="round" fill="none"/><path d="M701.6 525h0M701.6 527h0M701.6 637h0M701.6 640h0M701.6 643h0" stroke="#800000" stroke-width="4" stroke-linecap="round" fill="none"/><path d="M701.8 619h0M701.8 623h0M701.8 626.5h0M701.8 695h0" stroke="#d7ff1f" stroke-width="4" stroke-linecap="round" fill="none"/><path d="M701.8 734.5h0M701.8 746.5h0M701.8 749.5h0M701.8 767.8h0" stroke="#eeff09" stroke-width="4" stroke-linecap="round" fill="none"/><path d="M719 625.5L722 625L723 631L722.5 636L720 638.5L717.5 636L716.5 630Z" fill="#00b8ff" stroke="#00b8ff" stroke-width="1.5" stroke-linejoin="round"/><path d="M711.5 671.5L714 671.5L715 679L715 687L713.5 690L711 689L710 683L710.5 677Z" fill="#00b8ff" stroke="#00b8ff" stroke-width="1.5" stroke-linejoin="round"/><path d="M710.8 676V688" stroke="#00d4ff" stroke-width="1.8" fill="none"/><path d="M713.8 672V690" stroke="#009cff" stroke-width="1.8" fill="none"/><path d="M761 651L763.5 651L765 656L765 664L763.5 667L761 666.5L760 661L759.7 655Z" fill="#00b8ff" stroke="#00b8ff" stroke-width="1.5" stroke-linejoin="round"/><path d="M761.5 671.5L764 672L765 675.5L763.5 678L761 677.5L760 674.5Z" fill="#00d4ff" stroke="#00d4ff" stroke-width="1.5" stroke-linejoin="round"/><path d="M694 700.5L697.5 701L699 707L699 721L696 722L694 719L693 712L693 705Z" fill="#009cff" stroke="#009cff" stroke-width="1.5" stroke-linejoin="round"/><path d="M693.8 717V718M695.2 717V720" stroke="#09f0ee" stroke-width="1.8" fill="none"/><path d="M693.8 715V717M695.2 715V717M695.2 720V721M696.8 717V720M698.2 716V721" stroke="#00d4ff" stroke-width="1.8" fill="none"/><path d="M693.8 706V715M695.2 701V702M695.2 713V715M696.8 715V717M696.8 720V722M698.2 704V706M698.2 712V716M698.2 721V722" stroke="#00b8ff" stroke-width="1.8" fill="none"/><path d="M696.8 703V712" stroke="#007dff" stroke-width="1.8" fill="none"/><path d="M704 711h0" stroke="#4dffaa" stroke-width="4" stroke-linecap="round" fill="none"/><path d="M706 713h0M707.5 715.5h0" stroke="#36ffc1" stroke-width="4" stroke-linecap="round" fill="none"/><path d="M705 709.5h0M712 702h0M714.5 699.5h0M711 706h0M713 712.5h0M714.5 714h0" stroke="#ffe600" stroke-width="4" stroke-linecap="round" fill="none"/><path d="M711 693h0M710 699h0" stroke="#eeff09" stroke-width="4" stroke-linecap="round" fill="none"/><path d="M713.5 691.5h0" stroke="#d7ff1f" stroke-width="4" stroke-linecap="round" fill="none"/><path d="M712 709.5h0" stroke="#007dff" stroke-width="4" stroke-linecap="round" fill="none"/><path d="M711.5 708h0" stroke="#00b8ff" stroke-width="4" stroke-linecap="round" fill="none"/><path d="M721.5 689L724 692L726 697L726.5 700L724.5 703L721 704.5L717 703L714.5 700L717.5 699L719.5 695L720 691Z" fill="#94ff63" stroke="#94ff63" stroke-width="1.5" stroke-linejoin="round"/><path d="M716.8 700V703M718.2 698V700M718.2 702V704M721.2 690V696M721.2 703V705M722.8 702V704M724.2 698V700M724.2 701V704M725.8 697V699" stroke="#aaff4d" stroke-width="1.8" fill="none"/><path d="M718.2 700V702M721.2 696V703M722.8 698V702M724.2 700V701" stroke="#8bff2a" stroke-width="1.8" fill="none"/><path d="M719.8 699V702M722.8 695V698" stroke="#70ff3e" stroke-width="1.8" fill="none"/><path d="M741.5 689.5L743.5 695L745 703L746 711L745 718L742.5 722.5L740 723L738 719L736.5 712L736.5 705L738.5 697L740 691Z" fill="#aaff4d" stroke="#aaff4d" stroke-width="1.5" stroke-linejoin="round"/><path d="M740.2 697V699M741.8 694V698M743.2 695V701" stroke="#c1ff36" stroke-width="1.8" fill="none"/><path d="M740.2 699V703M741.8 698V705" stroke="#a8ff19" stroke-width="1.8" fill="none"/><path d="M738.8 705V708M740.2 703V720M741.8 705V720M743.2 707V710" stroke="#8bff2a" stroke-width="1.8" fill="none"/><path d="M738.8 713V721M743.2 715V722" stroke="#94ff63" stroke-width="1.8" fill="none"/><path d="M738.8 708V713M743.2 710V715" stroke="#70ff3e" stroke-width="1.8" fill="none"/><path d="M741 732.5L745 733L748.5 736L750 740.5L749 745L746 748L743 752L740.5 752L738 748L735.5 744L735.5 738L738 734Z" fill="#94ff63" stroke="#94ff63" stroke-width="1.5" stroke-linejoin="round"/><path d="M739.2 734V735M740.8 733V735M742.2 733V735" stroke="#c1ff36" stroke-width="1.8" fill="none"/><path d="M740.8 735V737M742.2 735V736" stroke="#a8ff19" stroke-width="1.8" fill="none"/><path d="M737.8 735V737M739.2 735V736M743.8 733V736M745.2 734V736" stroke="#aaff4d" stroke-width="1.8" fill="none"/><path d="M739.2 736V737M740.8 737V739M742.2 736V738M745.2 736V737" stroke="#8bff2a" stroke-width="1.8" fill="none"/><path d="M737.8 738V745M739.2 737V747M740.8 739V749M742.2 738V750M743.8 736V739M745.2 737V747M746.8 738V746" stroke="#70ff3e" stroke-width="1.8" fill="none"/><path d="M743.8 749V752M748.2 736V746" stroke="#7aff7d" stroke-width="1.8" fill="none"/><path d="M743.8 739V749" stroke="#54ff58" stroke-width="1.8" fill="none"/><path d="M782 759.5L784.5 760L785.5 767L785 775L783 777.5L781 776L780.3 769L780.5 763Z" fill="#63ff94" stroke="#63ff94" stroke-width="1.5" stroke-linejoin="round"/><path d="M782.5 768V770" stroke="#4eff81" stroke-width="1.8" fill="none"/><path d="M784 760V777" stroke="#4dffaa" stroke-width="1.8" fill="none"/><path d="M843 729.8h0M851.7 726h0M851.9 729h0M865 748.8h0M826.2 755.2h0M828 757.8h0M827.3 764h0M841.4 755.4h0M847.7 773.7h0M859 778h0M809 795h0M817.7 791.7h0M791 794.4h0M802 806.7h0M829.7 805h0M859.4 801.5h0M872.5 799h0M878 804.3h0M892.5 801.7h0M845.8 825h0M847.3 825h0M856.8 825.3h0M858.3 825.3h0M921.8 825h0M924 825h0M926 825h0M969.3 825h0M970.8 825h0M976.6 825h0M978 825h0M872.5 730.5h0M876.5 729h0M897.2 728.7h0M885.8 751.8h0M887 758h0M889 764.7h0M895.2 761.7h0M907.7 764.7h0M909.2 754.2h0M915.5 752h0M917 751.5h0M909.8 741.3h0M922.2 799.8h0M936.5 771h0M929.7 720.7h0M915 724.5h0M924 719h0M941.7 722.2h0M947.5 739.2h0M952.2 753h0M950.5 757.5h0M953 776.5h0M958.5 726.3h0M965 727.5h0M964 742.8h0M968.7 745.8h0M972.5 751.5h0M967.2 759.3h0M968 767.2h0M973 767h0M974.3 775.2h0M970.5 719.2h0M978.5 719.2h0M980 719.2h0M981.2 730.5h0M980.3 736h0M978.5 746.4h0M981.2 768.5h0M987 774.7h0M992 768h0M994.2 749.2h0M995.7 783.3h0M1002.5 791.7h0M965.7 791.7h0M962.3 795.9h0M1001.7 765h0M1001.7 768h0M1004.7 763.8h0M1013.7 718.8h0M1018 766h0M1025.7 766h0M1017 772.5h0M1023 775.2h0M1032.8 775.8h0M1035.5 722.2h0M1025 728.2h0M1028.3 729.7h0M1025 804h0M1026.8 805.2h0M814 781.2h0M818 769.8h0M829.5 736.5h0M841.5 755.3h0M848 773.7h0M859.5 801.5h0M872.5 799.2h0M829.7 804.5h0M973.9 687h0M975.7 697.2h0M984 697.5h0M986 698.5h0M988.5 698.7h0M992.2 694.6h0M962.6 671h0M975.4 711h0M970.5 719.4h0M941.2 722h0M966 724.2h0M958.5 726h0M981.4 730.2h0M951.7 734.4h0M980.6 735.5h0M916.9 714.5h0M915.4 723.5h0M929.6 721h0M996 684.5h0M997.5 665h0M1012.9 677h0M1011 683h0M1014.7 686.5h0M1005 707.4h0M1010 703h0M1014 718.2h0M1004 714.5h0M1002 721h0M1035.4 722h0M1024.5 728.7h0M1027 728.2h0M1029 728h0" stroke="#7aff7d" stroke-width="4" stroke-linecap="round" fill="none"/><path d="M853.5 736.5h0M855 738h0M855.5 739.5h0M827.8 765.5h0M816.8 756.7h0M816.8 759.5h0M816.8 762h0M818 769.8h0M822.5 772.2h0M822.5 774.7h0M783.5 804.8h0M785 807h0M870.5 809.2h0M870 824.5h0M871.5 825h0M874.5 825.3h0M888.5 756.5h0M879 760.5h0M883.5 765h0M917.7 803.5h0M951 723.7h0M952.2 735h0M954.2 736.8h0M966.5 769.8h0M995.7 744.5h0M1001 744h0" stroke="#94ff63" stroke-width="4" stroke-linecap="round" fill="none"/><path d="M851.5 745.5h0M814 781.2h0M913.8 773.1h0M941 760.5h0M941.5 763.5h0M967 726.7h0M987 768h0M993 765h0M1015.5 754.5h0M1016.7 758.2h0M1020.8 752.7h0M1022 759.7h0M1014.5 764.2h0M1035.5 758.7h0M946 721.6h0M966.3 726.5h0M1008.7 690h0" stroke="#63ff94" stroke-width="4" stroke-linecap="round" fill="none"/><path d="M831.5 757.8h0" stroke="#4dffaa" stroke-width="4" stroke-linecap="round" fill="none"/><path d="M882.8 807.5h0" stroke="#d7ff1f" stroke-width="4" stroke-linecap="round" fill="none"/><path d="M905 823.8h0" stroke="#0060ff" stroke-width="4" stroke-linecap="round" fill="none"/><path d="M938.5 794.5h0" stroke="#aaff4d" stroke-width="4" stroke-linecap="round" fill="none"/><path d="M918 722h0" stroke="#1fffd7" stroke-width="4" stroke-linecap="round" fill="none"/><path d="M921 720.5h0" stroke="#ffb200" stroke-width="4" stroke-linecap="round" fill="none"/><path d="M948 730.5h0M949.3 730.5h0M950.7 718.5h0M962.7 736.8h0M1002.5 719h0M1005.5 721.5h0M968.6 711.9h0M948.4 730.2h0M962.2 736h0" stroke="#ffe600" stroke-width="4" stroke-linecap="round" fill="none"/><path d="M950.7 721h0" stroke="#eeff09" stroke-width="4" stroke-linecap="round" fill="none"/><path d="M962.5 720.7h0M978.7 701h0M978.9 704h0M978.5 707h0M961.9 720.5h0M919 721.6h0" stroke="#09f0ee" stroke-width="4" stroke-linecap="round" fill="none"/><path d="M961.7 751.8h0" stroke="#ffcc00" stroke-width="4" stroke-linecap="round" fill="none"/><path d="M1004.7 746h0" stroke="#c1ff36" stroke-width="4" stroke-linecap="round" fill="none"/><path d="M962.2 711.9h0M952.9 723.7h0" stroke="#00d4ff" stroke-width="4" stroke-linecap="round" fill="none"/><path d="M779 624L779.6 622.6L781 622L782.4 622.6L783 624L783 678L782.4 679.4L781 680L779.6 679.4L779 678Z" fill="#1fffd7" stroke="#1fffd7" stroke-width="1.5" stroke-linejoin="round"/><path d="M779.7 634V674M781.1 623V642M781.1 675V680M782.5 650V680" stroke="#09f0ee" stroke-width="1.7" fill="none"/><path d="M779.7 623V634M779.7 674V680" stroke="#00d4ff" stroke-width="1.7" fill="none"/><path d="M779 679L780.2 676.2L783 675L785.8 676.2L787 679L787 706L785.8 708.8L783 710L780.2 708.8L779 706Z" fill="#09f0ee" stroke="#09f0ee" stroke-width="1.5" stroke-linejoin="round"/><path d="M785.3 698V710M786.7 679V695" stroke="#36ffc1" stroke-width="1.7" fill="none"/><path d="M785.3 676V679M785.3 688V698M786.7 695V707" stroke="#1fffd7" stroke-width="1.7" fill="none"/><path d="M779.7 705V708M781.1 676V680M781.1 708V710M782.5 684V690M782.5 704V710M783.9 693V710" stroke="#00d4ff" stroke-width="1.7" fill="none"/><path d="M779.7 678V682M779.7 703V705M781.1 680V683M781.1 707V708M782.5 690V704" stroke="#00b8ff" stroke-width="1.7" fill="none"/><path d="M779.7 682V684M779.7 701V703M781.1 683V685M781.1 706V707" stroke="#009cff" stroke-width="1.7" fill="none"/><path d="M779.7 684V687M779.7 698V701M781.1 685V687M781.1 704V706" stroke="#007dff" stroke-width="1.7" fill="none"/><path d="M779.7 687V692M779.7 693V698M781.1 687V689M781.1 703V704" stroke="#0060ff" stroke-width="1.7" fill="none"/><path d="M779.7 692V693M781.1 689V691M781.1 702V703" stroke="#0045ff" stroke-width="1.7" fill="none"/><path d="M781.1 691V694M781.1 700V702" stroke="#0028ff" stroke-width="1.7" fill="none"/><path d="M781.1 694V700" stroke="#000dff" stroke-width="1.7" fill="none"/><path d="M782 613L784.5 611L787 612L789 617L789 637L791 639L794 640L794.5 652L795 677L800 673L804.5 677L805.5 697L806 717L808 727L812 733L814.5 742L814 755L811 763L806 770L802 773.5L798 770L796 759L793.5 749L790.5 742L789.5 727L789 716L786.5 707L784 699L783 682L782.5 662L782 637Z" fill="#ffb200" stroke="#ffb200" stroke-width="1.5" stroke-linejoin="round"/><path d="M782.7 617V621M784.1 617V620M785.5 616V621M786.9 616V621" stroke="#800000" stroke-width="1.7" fill="none"/><path d="M782.7 616V617M782.7 621V622M784.1 616V617M784.1 620V622M785.5 615V616M785.5 621V622M786.9 615V616M786.9 621V622M788.3 616V621" stroke="#9f0000" stroke-width="1.7" fill="none"/><path d="M782.7 615V616M782.7 622V623M784.1 615V616M785.5 622V623M786.9 614V615M786.9 622V623M788.3 621V623" stroke="#bf0000" stroke-width="1.7" fill="none"/><path d="M782.7 614V615M782.7 623V624M784.1 622V623M785.5 614V615M785.5 623V624M786.9 613V614M788.3 623V624" stroke="#df0000" stroke-width="1.7" fill="none"/><path d="M782.7 613V614M782.7 624V626M784.1 614V615M784.1 623V624M785.5 613V614M786.9 623V624M788.3 624V625" stroke="#ff1300" stroke-width="1.7" fill="none"/><path d="M782.7 626V627M784.1 613V614M784.1 624V625M785.5 612V613M785.5 624V625M786.9 612V613M786.9 624V625M788.3 625V626" stroke="#ff2d00" stroke-width="1.7" fill="none"/><path d="M782.7 627V629M784.1 612V613M784.1 625V626M785.5 625V626M786.9 625V626M788.3 626V629M791.1 682V689" stroke="#ff4700" stroke-width="1.7" fill="none"/><path d="M782.7 629V635M784.1 626V628M785.5 626V628M786.9 626V627M788.3 629V639M788.3 696V710M791.1 671V682M791.1 689V703M802.3 676V680M802.3 723V726" stroke="#ff6000" stroke-width="1.7" fill="none"/><path d="M782.7 635V639M782.7 663V671M784.1 628V630M785.5 628V632M786.9 627V628M788.3 639V654M788.3 687V696M788.3 710V711M791.1 667V671M791.1 703V716M791.1 725V731M792.5 702V715M798.1 686V688M802.3 680V688M802.3 720V723M802.3 726V728M803.7 717V722M805.1 689V705M805.1 716V721M809.3 729V730" stroke="#ff7a00" stroke-width="1.7" fill="none"/><path d="M782.7 639V644M782.7 652V663M784.1 630V636M784.1 679V695M785.5 632V638M785.5 649V665M786.9 628V630M786.9 680V688M788.3 654V655M788.3 680V687M788.3 711V712M789.7 638V655M789.7 697V719M789.7 725V730M791.1 640V649M791.1 664V667M791.1 716V725M791.1 731V733M792.5 642V650M792.5 694V702M792.5 715V721M795.3 677V678M795.3 718V723M796.7 716V729M798.1 684V686M798.1 688V689M799.5 715V724M802.3 688V692M802.3 717V720M802.3 728V730M803.7 700V703M803.7 715V717M803.7 722V724M805.1 705V716M805.1 721V725M809.3 730V733M812.1 734V737" stroke="#ff9800" stroke-width="1.7" fill="none"/><path d="M784.1 639V641M784.1 649V668M784.1 675V677M785.5 640V642M785.5 645V647M785.5 667V669M785.5 678V682M785.5 684V704M786.9 634V637M786.9 651V658M786.9 661V663M786.9 667V669M786.9 678V679M786.9 696V708M788.3 656V657M788.3 663V664M788.3 669V671M788.3 675V677M789.7 658V672M789.7 678V690M791.1 653V662M791.1 736V744M792.5 653V655M792.5 663V665M792.5 726V731M792.5 744V747M793.9 672V686M793.9 706V709M793.9 727V731M795.3 682V685M795.3 710V713M795.3 728V731M796.7 684V687M796.7 709V712M796.7 733V738M798.1 680V682M798.1 690V691M799.5 708V711M799.5 729V732M800.9 674V679M800.9 688V692M800.9 712V726M802.3 696V710M802.3 733V737M803.7 677V686M803.7 708V713M803.7 726V728M805.1 728V730M806.5 731V736M807.9 727V729M809.3 736V740M809.3 746V757M810.7 732V752M812.1 745V752" stroke="#ffcc00" stroke-width="1.7" fill="none"/><path d="M784.1 641V649M784.1 668V675M785.5 642V645M785.5 669V670M785.5 677V678M786.9 637V639M786.9 648V651M786.9 658V661M786.9 669V670M786.9 677V678M786.9 708V709M788.3 671V675M789.7 672V678M792.5 655V663M792.5 731V744M793.9 640V650M793.9 665V672M793.9 686V688M793.9 704V706M793.9 731V734M795.3 685V686M795.3 709V710M795.3 731V734M796.7 687V688M796.7 707V709M796.7 738V754M798.1 676V680M798.1 711V728M799.5 682V690M799.5 706V708M799.5 732V734M800.9 692V696M800.9 705V712M800.9 726V728M802.3 737V753M803.7 728V731M805.1 730V733M806.5 736V741M807.9 729V733M809.3 740V746M809.3 757V760M810.7 752V755M812.1 752V755" stroke="#ffe600" stroke-width="1.7" fill="none"/><path d="M785.5 670V671M785.5 676V677M786.9 639V641M786.9 647V648M786.9 670V671M786.9 676V677M788.3 662V663M793.9 650V665M793.9 688V689M793.9 703V704M793.9 734V738M795.3 686V687M795.3 707V709M795.3 734V736M796.7 688V689M796.7 705V707M796.7 754V756M798.1 675V676M798.1 691V692M798.1 707V711M798.1 728V736M798.1 747V749M799.5 679V682M799.5 690V692M799.5 704V706M799.5 734V737M800.9 696V705M800.9 728V730M802.3 753V756M803.7 731V733M805.1 733V737M806.5 741V752M807.9 733V736M809.3 760V766M810.7 755V757M812.1 755V758M813.5 739V740" stroke="#eeff09" stroke-width="1.7" fill="none"/><path d="M785.5 671V672M785.5 675V676M786.9 641V647M786.9 671V672M786.9 675V676M788.3 657V658M793.9 689V690M793.9 701V703M793.9 738V751M795.3 687V688M795.3 706V707M795.3 736V739M796.7 689V690M796.7 703V705M796.7 756V758M798.1 692V693M798.1 703V707M798.1 736V747M798.1 749V754M799.5 677V679M799.5 692V695M799.5 701V704M799.5 737V742M800.9 730V732M802.3 756V757M803.7 733V736M805.1 737V755M806.5 752V755M807.9 736V741M807.9 747V751M810.7 757V759M812.1 758V761M813.5 740V751" stroke="#d7ff1f" stroke-width="1.7" fill="none"/><path d="M785.5 672V675M786.9 672V673M786.9 674V675M788.3 661V662M793.9 690V692M793.9 699V701M795.3 705V706M795.3 739V756M796.7 690V691M796.7 702V703M796.7 758V760M798.1 693V694M798.1 700V703M798.1 754V756M799.5 674V677M799.5 695V701M799.5 742V754M800.9 732V735M802.3 757V759M803.7 736V740M803.7 744V757M805.1 755V757M806.5 755V757M807.9 741V747M807.9 751V756M810.7 759V761M813.5 751V756" stroke="#c1ff36" stroke-width="1.7" fill="none"/><path d="M786.9 673V674M788.3 658V659M793.9 692V694M793.9 695V699M795.3 688V689M795.3 704V705M795.3 756V757M796.7 700V702M796.7 760V762M798.1 694V700M798.1 756V758M799.5 754V756M800.9 735V738M800.9 748V753M802.3 759V761M803.7 740V744M803.7 757V760M803.7 771V773M805.1 757V760M806.5 757V758M807.9 756V759M810.7 761V763M813.5 756V757" stroke="#aaff4d" stroke-width="1.7" fill="none"/><path d="M788.3 659V661M793.9 694V695M795.3 689V690M795.3 703V704M796.7 691V692M796.7 762V763M798.1 758V759M799.5 756V758M800.9 738V748M800.9 753V756M802.3 761V762M802.3 772V774M803.7 760V762M803.7 769V771M805.1 760V762M805.1 769V771M806.5 758V760M807.9 759V761M810.7 763V764" stroke="#94ff63" stroke-width="1.7" fill="none"/><path d="M795.3 702V703M796.7 699V700M798.1 759V761M799.5 758V760M800.9 756V759M800.9 772V773M802.3 762V764M802.3 770V772M803.7 762V769M805.1 762V769M806.5 760V762M807.9 761V768" stroke="#7aff7d" stroke-width="1.7" fill="none"/><path d="M795.3 690V691M795.3 701V702M796.7 692V693M796.7 698V699M798.1 761V763M799.5 760V762M799.5 771V772M800.9 759V761M800.9 770V772M802.3 764V770M806.5 762V765M806.5 768V770" stroke="#63ff94" stroke-width="1.7" fill="none"/><path d="M795.3 700V701M796.7 693V694M796.7 697V698M798.1 763V765M798.1 768V771M799.5 762V765M799.5 768V771M800.9 761V764M800.9 768V770M806.5 765V768" stroke="#4dffaa" stroke-width="1.7" fill="none"/><path d="M795.3 691V692M795.3 699V700M796.7 694V697M798.1 765V768M799.5 765V768M800.9 764V768" stroke="#36ffc1" stroke-width="1.7" fill="none"/><path d="M795.3 692V693M795.3 698V699" stroke="#1fffd7" stroke-width="1.7" fill="none"/><path d="M795.3 693V694M795.3 697V698" stroke="#09f0ee" stroke-width="1.7" fill="none"/><path d="M795.3 694V697" stroke="#00d4ff" stroke-width="1.7" fill="none"/><path d="M794.5 618h0M794.8 621.5h0M794.5 625h0M794.3 627.5h0M803.5 650.5h0M803 659h0" stroke="#800000" stroke-width="4" stroke-linecap="round" fill="none"/><path d="M791 633.5h0M793.5 632h0M795.5 630.5h0" stroke="#ff7a00" stroke-width="4" stroke-linecap="round" fill="none"/><path d="M802 640.5h0M798 651h0M797 658h0" stroke="#ffb200" stroke-width="4" stroke-linecap="round" fill="none"/><path d="M799.5 645.5h0M799.5 663h0" stroke="#ffcc00" stroke-width="4" stroke-linecap="round" fill="none"/><path d="M801.5 648.5h0M802 654h0M804.5 656h0" stroke="#ffe600" stroke-width="4" stroke-linecap="round" fill="none"/><path d="M800 656.5h0M802.5 665.5h0" stroke="#7aff7d" stroke-width="4" stroke-linecap="round" fill="none"/><path d="M796 666h0" stroke="#ff9800" stroke-width="4" stroke-linecap="round" fill="none"/><path d="M806 630h0M806.5 634h0" stroke="#1fffd7" stroke-width="4" stroke-linecap="round" fill="none"/><path d="M796 669h0M799 673h0M797.5 679h0M801 668h0M803 683h0M800 688h0M811 686h0M809.5 692h0M795 683h0" stroke="#800000" stroke-width="3.2" stroke-linecap="round" fill="none"/><path d="M809 618L809.9 615.9L812 615L814.1 615.9L815 618L815 639L814.1 641.1L812 642L809.9 641.1L809 639Z" fill="#1fffd7" stroke="#1fffd7" stroke-width="1.5" stroke-linejoin="round"/><path d="M823 619.5L824.3 616.3L827.5 615L830.7 616.3L832 619.5L832 637.5L830.7 640.7L827.5 642L824.3 640.7L823 637.5Z" fill="#1fffd7" stroke="#1fffd7" stroke-width="1.5" stroke-linejoin="round"/><path d="M838.5 620L840.6 615.1L845.5 613L850.4 615.1L852.5 620L852.5 636L850.4 640.9L845.5 643L840.6 640.9L838.5 636Z" fill="#09f0ee" stroke="#09f0ee" stroke-width="1.5" stroke-linejoin="round"/><path d="M843.4 632V643M846.2 614V618M847.6 631V643M849 615V637M851.8 619V638" stroke="#1fffd7" stroke-width="1.7" fill="none"/><path d="M839.2 619V622M839.2 634V638M840.6 638V641M842 615V616M842 639V642" stroke="#00d4ff" stroke-width="1.7" fill="none"/><path d="M839.2 622V625M839.2 630V634M840.6 616V618M840.6 636V638M842 616V620M842 635V639" stroke="#00b8ff" stroke-width="1.7" fill="none"/><path d="M839.2 625V630M840.6 618V620M840.6 634V636M842 620V623M842 632V635" stroke="#009cff" stroke-width="1.7" fill="none"/><path d="M840.6 620V623M840.6 631V634M842 623V632" stroke="#007dff" stroke-width="1.7" fill="none"/><path d="M840.6 623V631" stroke="#0060ff" stroke-width="1.7" fill="none"/><path d="M842.7 613.7h0" stroke="#007dff" stroke-width="4" stroke-linecap="round" fill="none"/><path d="M830.4 623.4h0" stroke="#800000" stroke-width="4" stroke-linecap="round" fill="none"/><path d="M835.5 632.5h0M818 628h0M820.5 631h0" stroke="#1fffd7" stroke-width="4" stroke-linecap="round" fill="none"/><path d="M808 633L812 630L818 633L824 629L832 632L836 635L840 633L848 635L852 639L853 652L851 665L849 677L848.5 699L848 713L846 717L841 718L836 723L830 726.5L824 725L819 727L814 728.5L810 725L807.5 717L806.5 699L806.5 677L807 652Z" fill="#09f0ee" stroke="#09f0ee" stroke-width="1.5" stroke-linejoin="round"/><path d="M817 674V692M835.2 648V661M843.6 634V650" stroke="#36ffc1" stroke-width="1.7" fill="none"/><path d="M807.2 710V712M810 664V681M815.6 632V636M815.6 681V714M817 666V674M817 692V708M817 725V728M819.8 716V727M821.2 637V650M821.2 702V719M825.4 710V723M835.2 642V648M835.2 661V668M835.2 718V724M836.6 648V659M839.4 634V653M839.4 708V720M843.6 650V690M846.4 635V643M846.4 669V688M847.8 659V673M849.2 662V676M850.6 638V646M852 639V643" stroke="#1fffd7" stroke-width="1.7" fill="none"/><path d="M807.2 678V695M808.6 633V636M808.6 685V697M810 650V652M810 659V661M811.4 631V657M811.4 686V727M812.8 631V633M812.8 655V660M812.8 697V726M814.2 650V672M814.2 689V695M814.2 719V725M815.6 656V667M818.4 633V637M818.4 668V676M818.4 693V713M819.8 646V657M819.8 674V700M821.2 664V673M821.2 678V691M822.6 659V668M822.6 681V726M824 644V661M824 688V700M825.4 630V641M825.4 644V660M825.4 664V676M825.4 698V705M826.8 637V641M826.8 663V678M826.8 702V710M828.2 631V635M828.2 661V673M828.2 713V723M829.6 632V639M829.6 651V678M829.6 706V727M831 632V645M831 699V725M832.4 637V655M832.4 690V706M832.4 724V726M833.8 683V690M835.2 672V675M835.2 700V706M836.6 671V723M838 635V647M838 697V722M839.4 677V688M840.8 634V658M840.8 706V714M842.2 634V659M842.2 687V691M842.2 707V718M843.6 692V694M843.6 712V715M845 635V655M845 677V683M845 717V718M846.4 693V699M846.4 710V715M847.8 635V651M847.8 682V684M847.8 700V714M849.2 645V654" stroke="#00d4ff" stroke-width="1.7" fill="none"/><path d="M810 652V659M812.8 633V636M812.8 651V655M814.2 695V701M814.2 714V719M818.4 637V641M818.4 664V668M821.2 673V678M822.6 654V659M822.6 668V671M822.6 679V681M824 642V644M824 661V688M825.4 676V698M826.8 641V644M826.8 659V663M826.8 678V702M828.2 635V638M828.2 657V661M828.2 673V678M828.2 708V713M829.6 639V651M829.6 678V706M831 645V664M831 679V699M831 725V726M832.4 655V690M835.2 675V679M835.2 695V700M838 647V697M840.8 658V687M840.8 702V706M842.2 691V694M842.2 702V707M843.6 694V696M843.6 710V712M845 683V687M845 715V717M846.4 699V710M847.8 684V686M847.8 697V700" stroke="#00b8ff" stroke-width="1.7" fill="none"/><path d="M812.8 636V639M812.8 648V651M814.2 701V714M818.4 641V644M818.4 661V664M822.6 651V654M822.6 671V673M822.6 677V679M824 641V642M826.8 644V646M826.8 656V659M828.2 638V640M828.2 655V657M828.2 678V682M828.2 704V708M831 664V679M835.2 679V683M835.2 690V695M840.8 687V702M842.2 694V702M843.6 696V710M845 687V690M845 713V715M847.8 686V687M847.8 695V697" stroke="#009cff" stroke-width="1.7" fill="none"/><path d="M812.8 639V648M818.4 644V647M818.4 659V661M822.6 630V633M822.6 646V651M822.6 673V677M824 640V641M826.8 646V649M826.8 653V656M828.2 640V642M828.2 653V655M828.2 682V686M828.2 700V704M835.2 683V690M845 690V693M845 712V713M847.8 687V689M847.8 694V695" stroke="#007dff" stroke-width="1.7" fill="none"/><path d="M818.4 647V651M818.4 655V659M822.6 633V636M822.6 638V646M826.8 649V653M828.2 642V645M828.2 650V653M828.2 686V691M828.2 695V700M845 693V696M845 710V712M847.8 689V694" stroke="#0060ff" stroke-width="1.7" fill="none"/><path d="M818.4 651V655M822.6 636V638M824 639V640M828.2 645V650M828.2 691V695M845 696V699M845 709V710" stroke="#0045ff" stroke-width="1.7" fill="none"/><path d="M824 630V631M824 638V639M845 699V702M845 706V709" stroke="#0028ff" stroke-width="1.7" fill="none"/><path d="M845 702V706" stroke="#000dff" stroke-width="1.7" fill="none"/><path d="M824 631V632M824 637V638" stroke="#0000ff" stroke-width="1.7" fill="none"/><path d="M824 632V633M824 636V637" stroke="#0000df" stroke-width="1.7" fill="none"/><path d="M824 633V636" stroke="#0000bf" stroke-width="1.7" fill="none"/><path d="M825.9 702.7h0M839 701.9h0M813.4 719.1h0M816.9 690.8h0" stroke="#94ff63" stroke-width="3.2" stroke-linecap="round" fill="none"/><path d="M814.7 715.2h0M819 724.5h0" stroke="#ffe600" stroke-width="3.2" stroke-linecap="round" fill="none"/><path d="M815.2 687.9h0M828.2 688.2h0M845.9 722.2h0" stroke="#7aff7d" stroke-width="3.2" stroke-linecap="round" fill="none"/><path d="M835.3 701.2h0" stroke="#ffb200" stroke-width="3.2" stroke-linecap="round" fill="none"/><path d="M850 627L856 625L862 627L866 633L866.5 647L865 665L862 677L858 682L853 680L850 673L849 657L849 637Z" fill="#009cff" stroke="#009cff" stroke-width="1.5" stroke-linejoin="round"/><path d="M860.9 675V677" stroke="#9f0000" stroke-width="1.7" fill="none"/><path d="M860.9 674V675" stroke="#bf0000" stroke-width="1.7" fill="none"/><path d="M860.9 677V678" stroke="#df0000" stroke-width="1.7" fill="none"/><path d="M860.9 673V674" stroke="#ff1300" stroke-width="1.7" fill="none"/><path d="M860.9 678V679" stroke="#ff4700" stroke-width="1.7" fill="none"/><path d="M860.9 672V673" stroke="#ff6000" stroke-width="1.7" fill="none"/><path d="M859.5 675V676" stroke="#ff7a00" stroke-width="1.7" fill="none"/><path d="M852.5 639V640M859.5 674V675M859.5 676V677" stroke="#ff9800" stroke-width="1.7" fill="none"/><path d="M852.5 638V639M852.5 640V641M859.5 673V674M859.5 677V678" stroke="#ffb200" stroke-width="1.7" fill="none"/><path d="M852.5 641V642M852.5 656V657M856.7 654V657M860.9 671V672M862.3 644V645" stroke="#ffcc00" stroke-width="1.7" fill="none"/><path d="M852.5 637V638M852.5 655V656M852.5 657V659M856.7 653V654M856.7 657V658M862.3 642V644M862.3 645V647" stroke="#ffe600" stroke-width="1.7" fill="none"/><path d="M852.5 642V643M852.5 654V655M856.7 652V653M856.7 658V659M859.5 672V673M859.5 678V679M862.3 641V642M862.3 647V648M863.7 644V647" stroke="#eeff09" stroke-width="1.7" fill="none"/><path d="M852.5 636V637M852.5 659V660M856.7 651V652M860.9 670V671M862.3 640V641M862.3 648V649M863.7 642V644M863.7 647V648" stroke="#d7ff1f" stroke-width="1.7" fill="none"/><path d="M852.5 643V644M852.5 653V654M856.7 659V660M859.5 671V672M859.5 679V680M862.3 639V640M862.3 649V650M863.7 641V642M863.7 648V649" stroke="#c1ff36" stroke-width="1.7" fill="none"/><path d="M852.5 660V661M853.9 656V658M856.7 650V651M856.7 660V661M863.7 640V641" stroke="#aaff4d" stroke-width="1.7" fill="none"/><path d="M852.5 635V636M852.5 652V653M853.9 655V656M853.9 658V659M860.9 669V670M862.3 638V639M862.3 650V651M863.7 639V640M863.7 649V650" stroke="#94ff63" stroke-width="1.7" fill="none"/><path d="M852.5 644V645M852.5 661V662M853.9 654V655M853.9 659V660M856.7 649V650M856.7 661V662M859.5 670V671M859.5 680V681M862.3 637V638M862.3 651V652M863.7 638V639M863.7 650V651" stroke="#7aff7d" stroke-width="1.7" fill="none"/><path d="M851.1 638V641M852.5 634V635M852.5 645V646M852.5 651V652M853.9 653V654M856.7 648V649M856.7 662V663M858.1 654V656M862.3 636V637M862.3 652V653M863.7 637V638" stroke="#63ff94" stroke-width="1.7" fill="none"/><path d="M851.1 637V638M851.1 641V642M852.5 650V651M852.5 662V663M853.9 652V653M853.9 660V661M855.3 654V658M856.7 663V664M858.1 652V654M858.1 656V658M860.9 668V669M862.3 653V654M863.7 636V637M863.7 651V652" stroke="#4dffaa" stroke-width="1.7" fill="none"/><path d="M851.1 636V637M851.1 642V643M852.5 633V634M852.5 646V650M852.5 663V664M853.9 661V662M855.3 652V654M855.3 658V660M856.7 647V648M856.7 664V665M858.1 650V652M858.1 658V659M859.5 669V670M862.3 635V636M862.3 654V655M862.3 674V676M863.7 635V636M863.7 652V653" stroke="#36ffc1" stroke-width="1.7" fill="none"/><path d="M851.1 635V636M851.1 643V644M852.5 664V665M853.9 651V652M855.3 650V652M855.3 660V662M856.7 646V647M856.7 665V666M858.1 649V650M858.1 659V661M859.5 668V669M860.9 667V668M862.3 634V635M862.3 655V656M862.3 672V674M863.7 634V635M865.1 663V664" stroke="#1fffd7" stroke-width="1.7" fill="none"/><path d="M851.1 644V645M851.1 655V660M852.5 631V633M852.5 665V668M853.9 650V651M853.9 662V663M855.3 648V650M855.3 662V665M856.7 644V646M856.7 666V670M858.1 647V649M858.1 661V662M860.9 644V645M860.9 666V667M862.3 633V634M862.3 656V658M862.3 670V672M863.7 633V634M863.7 653V654" stroke="#09f0ee" stroke-width="1.7" fill="none"/><path d="M851.1 633V635M851.1 645V646M851.1 652V655M851.1 660V664M851.1 675V676M852.5 629V631M852.5 668V679M853.9 639V642M853.9 648V650M853.9 663V665M855.3 626V635M855.3 646V648M855.3 665V681M856.7 626V637M856.7 641V644M856.7 670V682M858.1 645V647M858.1 662V663M859.5 667V668M860.9 637V644M860.9 645V653M860.9 665V666M862.3 631V633M862.3 658V661M862.3 668V670M863.7 631V633M863.7 654V656M863.7 667V671M865.1 662V663" stroke="#00d4ff" stroke-width="1.7" fill="none"/><path d="M851.1 631V633M851.1 646V652M851.1 664V675M852.5 627V629M853.9 636V639M853.9 642V648M853.9 665V667M855.3 635V646M856.7 637V641M858.1 638V645M858.1 663V665M858.1 674V679M859.5 665V667M860.9 629V637M860.9 653V665M862.3 628V631M862.3 661V668M863.7 630V631M863.7 656V657M863.7 665V667M865.1 639V662" stroke="#00b8ff" stroke-width="1.7" fill="none"/><path d="M849.7 630V669M853.9 626V632M853.9 675V681M859.5 627V639M863.7 661V662M865.1 632V633" stroke="#007dff" stroke-width="1.7" fill="none"/><path d="M861.5 628h0M865.5 632h0" stroke="#007dff" stroke-width="4" stroke-linecap="round" fill="none"/><path d="M857 633h0M858.5 636h0M871 619.5h0M871 622.5h0M871 626h0M871 629h0" stroke="#ffe600" stroke-width="4" stroke-linecap="round" fill="none"/><path d="M856.5 640h0" stroke="#ffcc00" stroke-width="4" stroke-linecap="round" fill="none"/><path d="M864 642h0M858 659h0" stroke="#ffb200" stroke-width="4" stroke-linecap="round" fill="none"/><path d="M861 651h0" stroke="#7aff7d" stroke-width="4" stroke-linecap="round" fill="none"/><path d="M860 667h0" stroke="#ff9800" stroke-width="4" stroke-linecap="round" fill="none"/><path d="M876 613L879 609.5L884 609.5L887.5 612L889 618L892 623L893 633L891.5 643L890.5 659L889.5 677L889 699L888 713L887 725L884 728L881 725L880 713L876 710L871 713L866 719L862 717L860.5 707L860 692L861.5 682L864 673L867 663L868 649L870 640L873 634L874.5 625Z" fill="#ffb200" stroke="#ffb200" stroke-width="1.5" stroke-linejoin="round"/><path d="M880.3 640V642" stroke="#800000" stroke-width="1.7" fill="none"/><path d="M880.3 639V640M880.3 642V643M881.7 639V643" stroke="#9f0000" stroke-width="1.7" fill="none"/><path d="M880.3 638V639M880.3 643V644M881.7 638V639M881.7 643V644M884.5 612V614" stroke="#bf0000" stroke-width="1.7" fill="none"/><path d="M880.3 637V638M880.3 644V645M881.7 644V645M883.1 640V642M884.5 611V612M884.5 614V615M885.9 612V614" stroke="#df0000" stroke-width="1.7" fill="none"/><path d="M880.3 636V637M880.3 645V646M881.7 637V638M881.7 645V646M883.1 638V640M883.1 642V644M885.9 611V612M885.9 614V615" stroke="#ff1300" stroke-width="1.7" fill="none"/><path d="M878.9 639V643M880.3 646V647M881.7 636V637M881.7 646V647M883.1 637V638M883.1 644V645M884.5 610V611" stroke="#ff2d00" stroke-width="1.7" fill="none"/><path d="M878.9 637V639M878.9 643V644M880.3 635V636M881.7 635V636M881.7 647V648M883.1 636V637M883.1 645V646M884.5 615V616M887.3 612V614" stroke="#ff4700" stroke-width="1.7" fill="none"/><path d="M878.9 636V637M878.9 644V645M880.3 634V635M880.3 647V648M881.7 634V635M881.7 648V649M883.1 635V636M883.1 646V647M884.5 639V644M885.9 615V616M887.3 614V615" stroke="#ff6000" stroke-width="1.7" fill="none"/><path d="M870.5 640V662M873.3 646V652M874.7 639V672M874.7 701V711M878.9 635V636M878.9 645V647M880.3 633V634M880.3 648V650M881.7 610V613M881.7 633V634M881.7 649V654M881.7 655V660M883.1 612V614M883.1 633V635M883.1 647V649M884.5 616V617M884.5 637V639M884.5 644V648M884.5 657V667M887.3 615V616" stroke="#ff7a00" stroke-width="1.7" fill="none"/><path d="M869.1 645V653M869.1 711V716M870.5 662V683M870.5 706V714M873.3 633V646M873.3 652V668M873.3 687V697M873.3 700V712M874.7 624V639M874.7 672V701M876.1 634V649M877.5 637V645M878.9 610V616M878.9 632V635M878.9 647V648M878.9 684V692M880.3 631V633M880.3 650V653M881.7 613V616M881.7 631V633M881.7 654V655M881.7 660V672M881.7 713V719M883.1 610V612M883.1 614V615M883.1 630V633M883.1 649V653M883.1 727V728M884.5 617V618M884.5 634V637M884.5 648V657M884.5 667V680M884.5 726V728M885.9 616V617M885.9 638V644M887.3 616V617M887.3 666V679M888.7 665V690M890.1 633V654M892.9 632V634" stroke="#ff9800" stroke-width="1.7" fill="none"/><path d="M860.7 704V708M862.1 711V713M863.5 677V679M863.5 714V716M864.9 671V675M864.9 715V719M867.7 654V674M869.1 672V683M869.1 704V707M870.5 686V690M870.5 698V702M871.9 638V662M871.9 692V696M871.9 704V712M876.1 613V625M876.1 658V679M876.1 695V700M876.1 703V711M877.5 648V655M877.5 673V691M877.5 705V710M878.9 650V672M878.9 678V680M878.9 711V713M880.3 610V616M880.3 625V629M880.3 661V683M880.3 688V699M881.7 618V621M881.7 624V628M881.7 688V698M881.7 706V707M883.1 616V619M883.1 623V627M883.1 668V698M883.1 714V716M884.5 697V700M884.5 712V713M884.5 719V722M885.9 617V629M885.9 653V666M885.9 676V697M885.9 701V715M887.3 622V650M887.3 688V690M887.3 709V722M888.7 693V694M888.7 703V704M891.5 633V644" stroke="#ffcc00" stroke-width="1.7" fill="none"/><path d="M860.7 688V691M860.7 698V704M862.1 680V683M862.1 709V711M863.5 679V681M863.5 713V714M864.9 675V677M864.9 713V715M866.3 666V669M867.7 674V677M867.7 714V717M869.1 683V685M869.1 702V704M870.5 690V698M871.9 696V704M871.9 712V713M876.1 700V703M877.5 691V705M878.9 672V678M880.3 616V625M881.7 621V624M883.1 619V623M883.1 698V700M883.1 713V714M884.5 700V702M884.5 710V712M885.9 666V676M885.9 697V701M885.9 715V719M885.9 726V727M887.3 690V691M887.3 706V709M888.7 694V696M888.7 701V703" stroke="#ffe600" stroke-width="1.7" fill="none"/><path d="M860.7 691V698M862.1 683V686M862.1 707V709M863.5 681V683M863.5 712V713M864.9 677V679M864.9 711V713M866.3 669V674M867.7 677V680M867.7 711V714M869.1 685V687M869.1 700V702M883.1 700V701M883.1 712V713M884.5 702V704M884.5 709V710M885.9 719V726M887.3 691V693M887.3 705V706M888.7 696V701" stroke="#eeff09" stroke-width="1.7" fill="none"/><path d="M862.1 686V689M862.1 705V707M863.5 683V685M863.5 711V712M864.9 679V680M864.9 709V711M866.3 674V676M866.3 715V719M867.7 680V681M867.7 708V711M869.1 687V690M869.1 697V700M883.1 701V702M883.1 711V712M884.5 704V709M887.3 704V705" stroke="#d7ff1f" stroke-width="1.7" fill="none"/><path d="M862.1 689V691M862.1 704V705M863.5 685V686M863.5 710V711M864.9 680V682M864.9 708V709M866.3 676V678M866.3 713V715M867.7 681V683M867.7 706V708M869.1 690V697M883.1 702V703M883.1 710V711M887.3 693V694M887.3 703V704" stroke="#c1ff36" stroke-width="1.7" fill="none"/><path d="M862.1 691V694M862.1 701V704M863.5 686V688M863.5 709V710M864.9 682V683M864.9 706V708M866.3 678V680M866.3 711V713M867.7 683V685M867.7 704V706M883.1 703V704M883.1 709V710M887.3 694V695M887.3 702V703" stroke="#aaff4d" stroke-width="1.7" fill="none"/><path d="M862.1 694V701M863.5 688V690M863.5 708V709M864.9 683V685M864.9 705V706M866.3 680V681M866.3 710V711M867.7 685V686M867.7 702V704M883.1 704V705M883.1 707V709M887.3 695V696M887.3 701V702" stroke="#94ff63" stroke-width="1.7" fill="none"/><path d="M863.5 690V692M863.5 707V708M864.9 685V686M864.9 703V705M866.3 681V683M866.3 708V710M867.7 686V688M867.7 700V702M883.1 705V707M887.3 696V701" stroke="#7aff7d" stroke-width="1.7" fill="none"/><path d="M863.5 692V694M863.5 706V707M864.9 686V688M864.9 701V703M866.3 683V684M866.3 707V708M867.7 688V691M867.7 696V700" stroke="#63ff94" stroke-width="1.7" fill="none"/><path d="M863.5 694V696M863.5 705V706M864.9 688V690M864.9 699V701M866.3 684V686M866.3 705V707M867.7 691V696" stroke="#4dffaa" stroke-width="1.7" fill="none"/><path d="M863.5 696V698M863.5 703V705M864.9 690V699M866.3 686V687M866.3 704V705" stroke="#36ffc1" stroke-width="1.7" fill="none"/><path d="M863.5 698V703M866.3 687V689M866.3 701V704" stroke="#1fffd7" stroke-width="1.7" fill="none"/><path d="M866.3 689V693M866.3 697V701" stroke="#09f0ee" stroke-width="1.7" fill="none"/><path d="M866.3 693V697" stroke="#00d4ff" stroke-width="1.7" fill="none"/><path d="M876 624h0M883 624.5h0M888 624h0M893.7 600.9h0M899.2 597h0" stroke="#800000" stroke-width="4" stroke-linecap="round" fill="none"/><path d="M897.5 604L900 602L903 603.5L904.5 609L905.5 617L909 620L911.5 625L912 642L911.5 662L910 682L908 699L907 712L905 717L902 718L899.5 715L898.5 705L894 704L890.5 699L889.5 687L890 672L891.5 657L893 642L894 627L895 613Z" fill="#ff9800" stroke="#ff9800" stroke-width="1.5" stroke-linejoin="round"/><path d="M897.2 613V620M900 683V691" stroke="#800000" stroke-width="1.7" fill="none"/><path d="M895.8 612V621M897.2 610V613M897.2 620V623M900 680V683M900 691V693" stroke="#9f0000" stroke-width="1.7" fill="none"/><path d="M895.8 611V612M895.8 621V623M897.2 608V610M897.2 623V625M900 678V680M900 693V695" stroke="#bf0000" stroke-width="1.7" fill="none"/><path d="M895.8 623V625M897.2 606V608M897.2 625V627M900 676V678M900 695V697" stroke="#df0000" stroke-width="1.7" fill="none"/><path d="M895.8 625V628M897.2 627V629M898.6 614V621M900 674V676M900 697V699" stroke="#ff1300" stroke-width="1.7" fill="none"/><path d="M894.4 649V677M895.8 628V630M895.8 649V671M897.2 629V631M898.6 610V614M898.6 621V624M900 618V620M900 672V674M900 699V700" stroke="#ff2d00" stroke-width="1.7" fill="none"/><path d="M894.4 622V626M894.4 642V649M894.4 677V691M895.8 630V633M895.8 644V649M895.8 671V690M897.2 631V633M898.6 607V610M898.6 624V627M900 609V618M900 620V628M900 669V672M900 700V702" stroke="#ff4700" stroke-width="1.7" fill="none"/><path d="M894.4 626V642M894.4 691V698M895.8 633V644M895.8 690V702M897.2 633V638M898.6 604V607M898.6 627V630M900 604V609M900 628V633M900 662V669M900 702V704M901.4 603V608" stroke="#ff6000" stroke-width="1.7" fill="none"/><path d="M891.6 669V676M894.4 698V703M895.8 702V705M897.2 638V660M897.2 690V705M898.6 630V633M900 603V604M900 633V662M900 704V705M901.4 608V612M901.4 642V661M901.4 687V704M904.2 632V635M905.6 635V649M905.6 696V703M909.8 638V661" stroke="#ff7a00" stroke-width="1.7" fill="none"/><path d="M890.2 670V675M890.2 695V696M891.6 656V659M891.6 686V701M893 642V651M893 666V676M893 693V703M897.2 671V678M898.6 639V652M898.6 679V687M898.6 695V703M900 706V707M901.4 615V620M901.4 672V677M901.4 705V706M902.8 609V611M902.8 624V663M902.8 668V681M902.8 700V704M904.2 608V609M904.2 620V623M904.2 650V661M904.2 684V688M904.2 704V705M905.6 618V624M905.6 658V664M905.6 687V690M905.6 706V707M907 633V655M907 689V694M907 707V709M908.4 620V630M908.4 690V696M909.8 668V682M911.2 625V628M911.2 656V667" stroke="#ffb200" stroke-width="1.7" fill="none"/><path d="M893 676V693M898.6 652V663M898.6 671V679M898.6 703V706M900 707V708M901.4 706V707M902.8 611V613M902.8 621V624M902.8 704V705M904.2 609V620M904.2 661V671M904.2 677V684M904.2 705V706M905.6 664V668M905.6 683V687M905.6 707V708M907 655V666M907 685V689M907 709V713M908.4 630V650M908.4 683V690" stroke="#ffcc00" stroke-width="1.7" fill="none"/><path d="M898.6 663V671M902.8 613V621M902.8 705V706M904.2 671V677M904.2 706V707M905.6 668V674M905.6 679V683M905.6 708V709M907 666V673M907 679V685M908.4 650V683" stroke="#ffe600" stroke-width="1.7" fill="none"/><path d="M900 708V709M901.4 707V708M902.8 706V707M904.2 707V708M905.6 674V679M905.6 709V710M907 673V679" stroke="#eeff09" stroke-width="1.7" fill="none"/><path d="M901.4 717V718M904.2 717V718M905.6 710V711M905.6 715V716" stroke="#d7ff1f" stroke-width="1.7" fill="none"/><path d="M900 709V710M900 715V716M901.4 708V709M902.8 707V708M902.8 717V718M904.2 708V709M905.6 711V715" stroke="#c1ff36" stroke-width="1.7" fill="none"/><path d="M900 710V711M900 714V715M901.4 716V717M904.2 716V717" stroke="#aaff4d" stroke-width="1.7" fill="none"/><path d="M900 711V712M900 713V714M901.4 709V710M902.8 708V709M904.2 709V710" stroke="#94ff63" stroke-width="1.7" fill="none"/><path d="M900 712V713M901.4 715V716M902.8 716V717M904.2 715V716" stroke="#7aff7d" stroke-width="1.7" fill="none"/><path d="M901.4 710V711M904.2 710V711M904.2 714V715" stroke="#63ff94" stroke-width="1.7" fill="none"/><path d="M901.4 714V715M902.8 709V710M902.8 715V716M904.2 711V712" stroke="#4dffaa" stroke-width="1.7" fill="none"/><path d="M901.4 711V714M904.2 712V714" stroke="#36ffc1" stroke-width="1.7" fill="none"/><path d="M902.8 710V711M902.8 714V715" stroke="#1fffd7" stroke-width="1.7" fill="none"/><path d="M902.8 711V712" stroke="#09f0ee" stroke-width="1.7" fill="none"/><path d="M902.8 712V714" stroke="#00d4ff" stroke-width="1.7" fill="none"/><path d="M911 644L916 642L921 646L926 643L931 647L932 662L931.5 682L930 689L926 692L921 694.5L916 695L912 692L909.5 685L909 667L910 652Z" fill="#d7ff1f" stroke="#d7ff1f" stroke-width="1.5" stroke-linejoin="round"/><path d="M919.5 651V653" stroke="#5a0000" stroke-width="1.7" fill="none"/><path d="M919.5 649V651M919.5 653V656" stroke="#7e0000" stroke-width="1.7" fill="none"/><path d="M919.5 648V649M919.5 656V657" stroke="#a50000" stroke-width="1.7" fill="none"/><path d="M919.5 647V648M919.5 657V659" stroke="#d00000" stroke-width="1.7" fill="none"/><path d="M919.5 646V647" stroke="#ff1300" stroke-width="1.7" fill="none"/><path d="M919.5 659V660" stroke="#ff0500" stroke-width="1.7" fill="none"/><path d="M919.5 660V661" stroke="#ff1300" stroke-width="1.7" fill="none"/><path d="M919.5 645V646" stroke="#ff4700" stroke-width="1.7" fill="none"/><path d="M919.5 661V663M920.9 649V652" stroke="#ff2500" stroke-width="1.7" fill="none"/><path d="M920.9 647V649" stroke="#ff6000" stroke-width="1.7" fill="none"/><path d="M919.5 663V664M920.9 652V654" stroke="#ff3b00" stroke-width="1.7" fill="none"/><path d="M920.9 646V647" stroke="#ff7a00" stroke-width="1.7" fill="none"/><path d="M918.1 648V653M919.5 664V665M920.9 654V656" stroke="#ff5500" stroke-width="1.7" fill="none"/><path d="M912.5 688V693" stroke="#ff9800" stroke-width="1.7" fill="none"/><path d="M912.5 687V688M918.1 647V648M918.1 653V654M919.5 665V666M920.9 656V658M925.1 662V663" stroke="#ff7500" stroke-width="1.7" fill="none"/><path d="M918.1 645V646" stroke="#ffb200" stroke-width="1.7" fill="none"/><path d="M912.5 659V665M912.5 685V687M916.7 648V651M918.1 646V647M918.1 654V656M919.5 666V667M919.5 686V689M920.9 658V660M925.1 650V662M925.1 663V667M927.9 664V668" stroke="#ff9500" stroke-width="1.7" fill="none"/><path d="M918.1 644V645M919.5 693V694" stroke="#ffcc00" stroke-width="1.7" fill="none"/><path d="M912.5 656V659M912.5 665V667M912.5 682V685M915.3 649V651M916.7 646V648M916.7 651V653M916.7 684V688M918.1 656V658M919.5 667V669M919.5 682V686M919.5 689V693M920.9 660V663M922.3 649V651M923.7 648V654M925.1 648V650M925.1 667V669M926.5 648V653M927.9 663V664M927.9 668V670M927.9 678V684" stroke="#ffb600" stroke-width="1.7" fill="none"/><path d="M913.9 645V646M916.7 644V645M919.5 694V695M922.3 646V648M923.7 646V647M929.3 646V654" stroke="#ffe600" stroke-width="1.7" fill="none"/><path d="M912.5 653V656M912.5 667V670M912.5 680V682M913.9 646V653M915.3 646V649M915.3 651V653M915.3 684V687M916.7 645V646M916.7 653V654M916.7 683V684M916.7 688V690M918.1 658V660M918.1 685V690M919.5 669V671M919.5 679V682M920.9 663V665M922.3 648V649M922.3 651V653M923.7 647V648M923.7 654V661M925.1 646V648M925.1 669V671M926.5 646V648M926.5 653V657M927.9 647V654M927.9 661V663M927.9 670V673M927.9 674V678M927.9 684V687" stroke="#ffda00" stroke-width="1.7" fill="none"/><path d="M911.1 646V655M912.5 646V650M913.9 643V645M913.9 692V694M915.3 644V645M916.7 643V644M918.1 693V695M920.9 694V695M923.7 645V646M925.1 645V646M926.5 644V646M927.9 645V647M929.3 654V655M930.7 647V652M930.7 685V686" stroke="#eeff09" stroke-width="1.7" fill="none"/><path d="M912.5 650V653M912.5 670V680M913.9 653V656M913.9 687V692M915.3 645V646M915.3 653V656M915.3 682V684M915.3 687V689M916.7 654V656M916.7 681V683M916.7 690V692M918.1 660V663M918.1 682V685M918.1 690V693M919.5 671V679M920.9 665V668M922.3 653V655M923.7 661V667M925.1 671V674M926.5 657V667M926.5 678V685M927.9 654V661M927.9 673V674M927.9 687V689M929.3 655V657M929.3 661V670" stroke="#e6ff02" stroke-width="1.7" fill="none"/><path d="M913.9 656V665M913.9 683V687M915.3 656V670M915.3 679V682M915.3 689V692M916.7 656V658M916.7 680V681M916.7 692V693M918.1 663V666M918.1 680V682M920.9 668V671M920.9 686V693M922.3 655V657M923.7 667V670M925.1 674V676M926.5 667V678M926.5 685V688M929.3 657V661M929.3 670V672" stroke="#c6ff0b" stroke-width="1.7" fill="none"/><path d="M909.7 663V686M911.1 664V669M915.3 693V695M925.1 691V692M926.5 690V692M929.3 683V690M930.7 655V660M930.7 681V683" stroke="#c1ff36" stroke-width="1.7" fill="none"/><path d="M913.9 665V683M915.3 670V679M915.3 692V693M916.7 658V663M916.7 678V680M918.1 666V670M918.1 677V680M920.9 671V675M920.9 680V686M922.3 657V663M923.7 670V673M925.1 676V691M926.5 688V690M929.3 672V683" stroke="#a8ff19" stroke-width="1.7" fill="none"/><path d="M911.1 669V674M911.1 688V690M923.7 691V694M925.1 692V693M930.7 660V681" stroke="#aaff4d" stroke-width="1.7" fill="none"/><path d="M916.7 663V678M918.1 670V677M920.9 675V680M922.3 663V671M923.7 673V676M923.7 690V691" stroke="#8bff2a" stroke-width="1.7" fill="none"/><path d="M911.1 674V688M922.3 692V694" stroke="#94ff63" stroke-width="1.7" fill="none"/><path d="M922.3 671V692M923.7 676V690" stroke="#70ff3e" stroke-width="1.7" fill="none"/><path d="M920.2 644.4h0" stroke="#800000" stroke-width="4" stroke-linecap="round" fill="none"/><path d="M920.6 687.8L922.6 683.7L926.8 682L930.7 683.7L932.1 687.8L929.9 716.2L927.9 720.3L923.8 722L919.8 720.3L918.4 716.2Z" fill="#ffb200" stroke="#ffb200" stroke-width="1.5" stroke-linejoin="round"/><path d="M931.7 687V693" stroke="#ff7a00" stroke-width="1.7" fill="none"/><path d="M924.7 683V684M926.1 711V722M927.5 703V721M928.9 683V719M930.3 684V712" stroke="#ff9800" stroke-width="1.7" fill="none"/><path d="M919.1 708V716M921.9 690V695M924.7 686V688M924.7 706V710M926.1 683V684M926.1 705V707" stroke="#ffcc00" stroke-width="1.7" fill="none"/><path d="M920.5 690V694M920.5 720V721M921.9 695V697M924.7 688V690M924.7 704V706M926.1 684V687M926.1 703V705" stroke="#ffe600" stroke-width="1.7" fill="none"/><path d="M920.5 694V704M920.5 715V720M921.9 697V700M924.7 690V692M924.7 702V704M926.1 687V689M926.1 702V703" stroke="#eeff09" stroke-width="1.7" fill="none"/><path d="M920.5 704V715M921.9 700V702M924.7 692V694M924.7 699V702M926.1 689V691M926.1 700V702" stroke="#d7ff1f" stroke-width="1.7" fill="none"/><path d="M921.9 702V703M921.9 721V722M924.7 694V699M926.1 691V693M926.1 698V700" stroke="#c1ff36" stroke-width="1.7" fill="none"/><path d="M921.9 703V705M921.9 719V721M926.1 693V698" stroke="#aaff4d" stroke-width="1.7" fill="none"/><path d="M921.9 705V707M921.9 717V719" stroke="#94ff63" stroke-width="1.7" fill="none"/><path d="M921.9 707V710M921.9 715V717" stroke="#7aff7d" stroke-width="1.7" fill="none"/><path d="M921.9 710V715" stroke="#63ff94" stroke-width="1.7" fill="none"/><path d="M890.8 617L889.6 652M875.5 711L876 721" stroke="#fff" stroke-width="2.2" stroke-linecap="round" fill="none"/><path d="M889.6 652L889 681M884 649L884.5 663M896 705L896.5 717" stroke="#fff" stroke-width="1.8" stroke-linecap="round" fill="none"/><path d="M875 637L873.5 659M844.5 671L846 683M846.5 677L847 687M917.5 693L917 699" stroke="#fff" stroke-width="2.5" stroke-linecap="round" fill="none"/><path d="M873.5 644L872 663M816.5 618L817 632M820 618L820.5 630" stroke="#fff" stroke-width="2" stroke-linecap="round" fill="none"/><path d="M868 651L866.5 669M806 640L806.5 669M912.5 629L912 641M948 636L948.5 643M869 705L868.5 716" stroke="#fff" stroke-width="1.6" stroke-linecap="round" fill="none"/><path d="M807.2 669L807.5 699M822 721L822.5 727M909 687L909.3 695" stroke="#fff" stroke-width="1.2" stroke-linecap="round" fill="none"/><path d="M789.5 640L790 669M879.5 663L878.5 677M958.5 651L960 673M863.5 699L862.5 715" stroke="#fff" stroke-width="1.4" stroke-linecap="round" fill="none"/><path d="M834.5 618L835 633" stroke="#fff" stroke-width="2.4" stroke-linecap="round" fill="none"/><path d="M934.5 637L935 727" stroke="#fff" stroke-width="0.9" stroke-linecap="round" fill="none"/><path d="M812.5 719L813 727M838.5 716L839 723" stroke="#fff" stroke-width="1.5" stroke-linecap="round" fill="none"/><path d="M874.9 667.6L874.3 672.9M875.2 676L874.5 681.7M870.1 662.6L869.5 667.4M861.6 667.2L861.3 669.3" stroke="#fff" stroke-width="1.6" stroke-linecap="round" fill="none"/><path d="M883.8 664.3L883.1 670.1M887.5 655.2L886.9 659.9M875.7 648.9L875.2 653M888.8 650.6L888.2 656.3" stroke="#fff" stroke-width="1.1" stroke-linecap="round" fill="none"/><path d="M883.7 690.6L883.4 693.3M875.8 628.1L875.2 632.8M889.4 644L888.8 648.3M860.6 639.6L860.3 642M889.8 631.9L889.1 637.1M860 634L859.8 636.1" stroke="#fff" stroke-width="1.8" stroke-linecap="round" fill="none"/><path d="M880.3 634L879.7 639M887.9 683.5L887.3 688.7M869.3 631.7L868.7 636.1M879.7 710L879.3 713.5M887.9 644.2L887.6 646.4M864.9 704.7L864.2 710.3M866.1 673.5L865.5 678.6M874.3 698.2L873.9 701.6" stroke="#fff" stroke-width="1.5" stroke-linecap="round" fill="none"/><path d="M874 663.9L873.6 667" stroke="#fff" stroke-width="1.7" stroke-linecap="round" fill="none"/><path d="M882.7 650.5L882.3 653.6M862 694.5L861.3 700" stroke="#fff" stroke-width="1.2" stroke-linecap="round" fill="none"/><path d="M879.9 691.4L879.6 693.5" stroke="#fff" stroke-width="1" stroke-linecap="round" fill="none"/><path d="M803.5 646.7L804.2 651.3M786.8 666.3L787.2 669.3" stroke="#fff" stroke-width="1.2" stroke-linecap="round" fill="none"/><path d="M796.7 677.9L797.3 681.5M804 654.1L804.8 659.2M794.9 706.3L795.7 711.3M796.8 695.7L797.3 699.6" stroke="#fff" stroke-width="1.4" stroke-linecap="round" fill="none"/><path d="M795.1 719.4L795.9 724.5M805.9 648.7L806.7 653.7M799.3 703.5L800.1 708.6" stroke="#fff" stroke-width="1.3" stroke-linecap="round" fill="none"/><path d="M790.1 705.6L790.6 709M797.2 718.6L798 723.9M794.4 657.3L794.7 659.6M804.1 731.3L804.5 734M798.1 651L798.4 653.2" stroke="#fff" stroke-width="1.1" stroke-linecap="round" fill="none"/><path d="M801.4 675.5L801.9 678.8M802.8 722.2L803.5 726.7" stroke="#fff" stroke-width="1.5" stroke-linecap="round" fill="none"/><path d="M818.5 665.8L819.5 670.9M844.9 710.9L845.9 715.9" stroke="#fff" stroke-width="1.3" stroke-linecap="round" fill="none"/><path d="M824.7 697.5L825.9 703.4M839.7 722.2L840.6 726.6M838.9 676.7L839.9 682M808.1 696L809.2 701.1" stroke="#fff" stroke-width="1.2" stroke-linecap="round" fill="none"/><path d="M845 717.3L845.5 719.9" stroke="#fff" stroke-width="1" stroke-linecap="round" fill="none"/><path d="M938.2 664.5L938.5 666.5M949.6 648.7L950 650.8" stroke="#fff" stroke-width="0.9" stroke-linecap="round" fill="none"/><path d="M950.9 658.6L951.4 661.8M940.5 678.8L941.1 683.1" stroke="#fff" stroke-width="1" stroke-linecap="round" fill="none"/><path d="M958.1 685.4L958.6 688.9M960.8 693L961.3 696.8M943.4 690.4L943.8 693.4" stroke="#fff" stroke-width="1.2" stroke-linecap="round" fill="none"/><path d="M939.5 672.5L939.9 674.9" stroke="#fff" stroke-width="1.1" stroke-linecap="round" fill="none"/><path d="M942.7 635.7L943.1 638.7M957.3 640.8L957.9 645.2" stroke="#fff" stroke-width="1.3" stroke-linecap="round" fill="none"/><path d="M1015 717.7L1015.5 720.9" stroke="#fff" stroke-width="1.9" stroke-linecap="round" fill="none"/><path d="M1034.2 703.5L1034.6 706.5M1029 685L1029.2 686.2M1037.7 701.4L1038 703.4" stroke="#fff" stroke-width="1.3" stroke-linecap="round" fill="none"/><path d="M1023.7 702.7L1024 704.4M1019.4 715.4L1019.9 718.4M1037.7 682.4L1038.1 685" stroke="#fff" stroke-width="1.4" stroke-linecap="round" fill="none"/><path d="M1021.9 679.6L1022.3 682.2M1021.7 699.5L1022.1 702.1" stroke="#fff" stroke-width="1.6" stroke-linecap="round" fill="none"/><path d="M1020.9 685.5L1021.4 688.8M1037.6 694.8L1038 697.9M1015.1 715.7L1015.7 719.7" stroke="#fff" stroke-width="1.8" stroke-linecap="round" fill="none"/><path d="M1024 705.8L1024.4 708.5M1018.5 681.1L1019.1 684.7" stroke="#fff" stroke-width="1.7" stroke-linecap="round" fill="none"/><path d="M1023.1 702.4L1023.6 705.8M1024.1 710.2L1024.7 714.1" stroke="#fff" stroke-width="1.2" stroke-linecap="round" fill="none"/><path d="M899.4 660.4L900.2 665.3" stroke="#fff" stroke-width="0.9" stroke-linecap="round" fill="none"/><path d="M893.3 630L893.8 633.7" stroke="#fff" stroke-width="1.2" stroke-linecap="round" fill="none"/><path d="M897.2 636.3L898.4 644.3M909.4 643.6L910.5 650.7M908.8 638.3L909.3 641.6" stroke="#fff" stroke-width="1" stroke-linecap="round" fill="none"/><path d="M899.3 639.7L900.4 647.5M907.2 682.8L908.2 689.2" stroke="#fff" stroke-width="1.1" stroke-linecap="round" fill="none"/><path d="M880.1 640.8h0M872.8 685.1h0M867 656.9h0M883.3 645.8h0" stroke="#ff9800" stroke-width="4" stroke-linecap="round" fill="none"/><path d="M875.7 638h0M888.6 674.5h0M879.9 688.8h0M865.2 663h0M868.5 669.4h0M881.8 660.8h0M889.6 664.9h0M869.8 645.3h0M872.9 706.7h0" stroke="#ffb200" stroke-width="4" stroke-linecap="round" fill="none"/><path d="M887.4 709.7h0M881.2 683.3h0M871.2 714.9h0" stroke="#ffe600" stroke-width="4" stroke-linecap="round" fill="none"/><path d="M802.4 657.4h0" stroke="#ffe600" stroke-width="4" stroke-linecap="round" fill="none"/><path d="M798.5 645.3h0M797.6 658h0M801.6 651.2h0M804.5 644.1h0M796.7 664.3h0M793.5 658.4h0M788.4 642.8h0" stroke="#ffb200" stroke-width="4" stroke-linecap="round" fill="none"/><path d="M933.6 510.5h0M933.6 512.8h0M933.5 514.7h0M933.7 516.6h0M933.4 518.2h0M933.4 520.2h0M933.7 522.5h0M933.4 523.9h0M933.5 525.2h0M933.6 526.5h0M933.6 528.7h0M933.7 530.5h0M933.8 532.1h0M933.7 534.2h0M933.5 535.7h0M933.6 537.8h0M933.8 539.5h0M933.5 540.8h0M933.8 542.5h0M933.7 543.9h0M933.4 545.4h0M933.7 547.7h0M933.4 549.3h0M933.5 551.4h0M933.5 553.1h0M933.7 554.5h0M933.5 556.2h0M933.7 558.5h0M933.5 560.8h0M933.7 562.9h0" stroke="#800000" stroke-width="4.9" stroke-linecap="round" fill="none"/><path d="M933.6 583h0M933.5 585h0M933.5 586.6h0M933.6 588.7h0M933.5 590.6h0M933.8 592.1h0M933.4 594.2h0M933.6 595.8h0M933.4 597.1h0M933.4 598.9h0M933.4 601.2h0M933.5 602.6h0M933.7 604h0M933.7 605.5h0M933.6 607.2h0M933.4 608.9h0M933.8 611.2h0M933.5 612.8h0M933.4 614.8h0M933.6 616.5h0M933.4 618.3h0M933.6 620h0M933.6 621.7h0M933.6 623.1h0M933.4 625.1h0M933.7 626.7h0M933.5 628.5h0M933.8 630.3h0M933.5 632.5h0M933.5 634.2h0M933.4 636.4h0M933.5 638.5h0M933.4 639.8h0M933.8 642.1h0M933.5 643.4h0M933.7 645.6h0M933.6 647.4h0M933.8 648.9h0M933.5 650.4h0M933.8 651.9h0M933.7 654h0M933.5 655.5h0M933.5 657.5h0M933.5 659.2h0M933.6 661.6h0M933.8 663.8h0M933.6 665.5h0M933.6 667.6h0M933.7 669.3h0M933.7 670.6h0M933.8 672.7h0M933.7 674.5h0M933.5 675.9h0M933.7 678.2h0M933.4 680.1h0M933.6 682.1h0M933.5 683.8h0M933.4 685.2h0M933.7 687.2h0M933.5 689.5h0M933.6 691.3h0M933.5 693.3h0M933.8 694.9h0M933.5 696.5h0M933.5 698.3h0M933.7 700.1h0M933.6 701.8h0M933.6 703.4h0M933.5 705.5h0M933.6 707.6h0M933.8 709.6h0M933.5 711.6h0M933.6 713.2h0M933.5 714.8h0M933.5 716.6h0M933.5 718.8h0M933.6 720.7h0M933.5 722.9h0M933.7 724.8h0M933.6 726.9h0M933.6 728.5h0M933.6 730.2h0M933.5 731.6h0M933.6 733.9h0" stroke="#800000" stroke-width="4.9" stroke-linecap="round" fill="none"/><path d="M933.7 513h0M933.9 515h0M933.7 516.5h0M933.7 518.6h0M933.7 520.1h0M933.8 522.2h0M933.7 523.8h0M933.9 525.9h0" stroke="#d7ff1f" stroke-width="4.4" stroke-linecap="round" fill="none"/><path d="M933.6 568h0M933.6 571.5h0M933.6 579h0" stroke="#800000" stroke-width="4.8" stroke-linecap="round" fill="none"/><path d="M933.6 740.5h0M933.6 743h0M933.6 746h0M933.6 748.5h0M933.6 758.5h0M933.6 766h0M933.6 537h0M933.6 540h0M933.6 543h0M933.6 546h0M933.6 549h0" stroke="#800000" stroke-width="5" stroke-linecap="round" fill="none"/><path d="M933.6 761h0M933.6 763.5h0" stroke="#ff1300" stroke-width="5" stroke-linecap="round" fill="none"/><path d="M937 630L941 628L946 630L949 634L951 629L955 628L957 633L957.5 647L958.5 662L960 677L962 689L962 705L960 711L956 714L950 715L944 713L939 714.5L936.5 709L936 692L936 672L936 652L936 637Z" fill="#ffb200" stroke="#ffb200" stroke-width="1.5" stroke-linejoin="round"/><path d="M938.1 641V645" stroke="#bf0000" stroke-width="1.7" fill="none"/><path d="M938.1 640V641M938.1 645V647M943.7 668V672" stroke="#df0000" stroke-width="1.7" fill="none"/><path d="M938.1 638V640M938.1 647V648M943.7 665V668M943.7 672V674" stroke="#ff1300" stroke-width="1.7" fill="none"/><path d="M938.1 637V638M938.1 648V649M939.5 641V648M943.7 664V665M943.7 674V677M945.1 666V672" stroke="#ff2d00" stroke-width="1.7" fill="none"/><path d="M938.1 636V637M938.1 649V650M939.5 639V641M939.5 648V651M943.7 662V664M943.7 677V679M945.1 664V666M945.1 672V673M945.1 703V709M950.7 630V633M952.1 630V632" stroke="#ff4700" stroke-width="1.7" fill="none"/><path d="M938.1 634V636M938.1 650V652M939.5 636V639M939.5 651V654M942.3 666V674M943.7 659V662M943.7 679V685M945.1 662V664M945.1 673V675M945.1 699V703M945.1 709V712M946.5 666V673M950.7 633V634M952.1 629V630M952.1 632V633M953.5 629V632M957.7 673V674" stroke="#ff6000" stroke-width="1.7" fill="none"/><path d="M938.1 632V634M938.1 652V653M939.5 634V636M939.5 654V661M939.5 692V709M942.3 629V640M942.3 663V666M942.3 674V677M943.7 630V642M943.7 653V659M943.7 685V714M945.1 658V662M945.1 675V677M945.1 695V699M945.1 712V714M946.5 663V666M946.5 673V675M947.9 669V671M950.7 634V637M952.1 633V634M953.5 632V633M957.7 665V673M957.7 674V679" stroke="#ff7a00" stroke-width="1.7" fill="none"/><path d="M936.7 660V691M938.1 630V632M938.1 653V656M938.1 669V698M939.5 629V634M939.5 661V692M939.5 709V715M940.9 629V646M940.9 668V670M940.9 697V714M942.3 640V645M942.3 660V663M942.3 677V690M942.3 702V714M943.7 642V653M945.1 641V658M945.1 677V679M945.1 693V695M946.5 631V641M946.5 660V663M946.5 675V677M947.9 633V638M947.9 664V669M947.9 671V678M947.9 693V698M949.3 634V673M950.7 637V646M950.7 666V699M952.1 634V635M952.1 672V700M953.5 633V634M953.5 662V675M953.5 700V715M954.9 629V632M956.3 654V685M957.7 650V665M957.7 679V682M959.1 670V676M961.9 689V696" stroke="#ff9800" stroke-width="1.7" fill="none"/><path d="M942.3 649V657M945.1 681V683M945.1 689V691M946.5 680V682M946.5 689V698M947.9 655V658M949.3 680V685M949.3 688V692M949.3 700V710M952.1 638V643M952.1 654V661M953.5 636V639M953.5 656V659M954.9 634V636M954.9 659V663M954.9 677V707M956.3 641V644M956.3 699V706M959.1 680V683M960.5 680V684" stroke="#ffcc00" stroke-width="1.7" fill="none"/><path d="M945.1 683V685M945.1 687V689M946.5 682V684M946.5 686V689M949.3 685V688M952.1 643V654M953.5 639V644M953.5 654V656M954.9 636V641M954.9 656V659M959.1 683V687M959.1 711V712M960.5 684V710" stroke="#ffe600" stroke-width="1.7" fill="none"/><path d="M945.1 685V687M946.5 684V686M953.5 644V654M954.9 641V646M954.9 653V656M959.1 687V693M959.1 710V711" stroke="#eeff09" stroke-width="1.7" fill="none"/><path d="M954.9 646V653M959.1 693V703M959.1 708V710" stroke="#d7ff1f" stroke-width="1.7" fill="none"/><path d="M959.1 703V708" stroke="#c1ff36" stroke-width="1.7" fill="none"/><path d="M953.4 624h0" stroke="#ffe600" stroke-width="4" stroke-linecap="round" fill="none"/><path d="M950.5 630.5h0M950.8 633.5h0" stroke="#800000" stroke-width="4" stroke-linecap="round" fill="none"/><path d="M963.5 628L966.5 629.5L966 635L964 640.5L961.5 641.5L960 638L961 633Z" fill="#ffb200" stroke="#ffb200" stroke-width="1.5" stroke-linejoin="round"/><path d="M974.5 618.5L977 621L978 627L979.5 633L978.5 640L976 642L973.5 639L972.5 634L971 631L972 625L972.5 620Z" fill="#ffb200" stroke="#ffb200" stroke-width="1.5" stroke-linejoin="round"/><path d="M973.2 623V638" stroke="#ff9800" stroke-width="1.8" fill="none"/><path d="M971.8 629V633" stroke="#ffcc00" stroke-width="1.8" fill="none"/><path d="M981.5 624.5L984 627L986.5 631L985 634.5L982.5 633L981 629Z" fill="#ffb200" stroke="#ffb200" stroke-width="1.5" stroke-linejoin="round"/><path d="M975 656.5L978.5 657L979 665L976 668L972.5 666L972.5 661Z" fill="#ffb200" stroke="#ffb200" stroke-width="1.5" stroke-linejoin="round"/><path d="M961 646h0M969 660h0M969.4 669.5h0" stroke="#ff9800" stroke-width="4" stroke-linecap="round" fill="none"/><path d="M975.2 651h0M1012 632.5h0M1012.3 635.5h0M1011.8 638.5h0M1003.7 647.4h0M1017 660.5h0" stroke="#ffb200" stroke-width="4" stroke-linecap="round" fill="none"/><path d="M980.5 655.4h0" stroke="#7aff7d" stroke-width="4" stroke-linecap="round" fill="none"/><path d="M964.5 659.4h0M1017.2 640.6h0" stroke="#d7ff1f" stroke-width="4" stroke-linecap="round" fill="none"/><path d="M1003.5 658.5h0" stroke="#1fffd7" stroke-width="4" stroke-linecap="round" fill="none"/><path d="M1008.5 647L1009.1 645.6L1010.5 645L1011.9 645.6L1012.5 647L1012.5 659L1011.9 660.4L1010.5 661L1009.1 660.4L1008.5 659Z" fill="#eeff09" stroke="#eeff09" stroke-width="1.5" stroke-linejoin="round"/><path d="M999.5 662.5L1000.5 660L1003 659L1005.5 660L1006.5 662.5L1006.5 700.5L1005.5 703L1003 704L1000.5 703L999.5 700.5Z" fill="#ffcc00" stroke="#ffcc00" stroke-width="1.5" stroke-linejoin="round"/><path d="M1001.6 672V675M1001.6 692V701M1003 695V701M1005.8 696V700" stroke="#ff9800" stroke-width="1.7" fill="none"/><path d="M1000.2 670V677M1001.6 668V672M1001.6 675V692M1001.6 701V704M1003 671V674M1003 692V695M1003 701V704M1004.4 670V674M1004.4 694V702M1005.8 689V696M1005.8 700V703" stroke="#ffb200" stroke-width="1.7" fill="none"/><path d="M1000.2 661V664M1000.2 701V703M1003 678V689M1004.4 680V689" stroke="#ffe600" stroke-width="1.7" fill="none"/><path d="M999.3 665h0M999 675h0" stroke="#00b8ff" stroke-width="4" stroke-linecap="round" fill="none"/><path d="M999.3 681h0M999.3 692h0" stroke="#00d4ff" stroke-width="4" stroke-linecap="round" fill="none"/><path d="M1003 661h0M1003.5 663.5h0" stroke="#09f0ee" stroke-width="4" stroke-linecap="round" fill="none"/><path d="M1005.4 718.2h0M1005.8 720.5h0" stroke="#ffb200" stroke-width="4" stroke-linecap="round" fill="none"/><path d="M1010.6 668.4h0M1009.8 670.6h0M1009.4 673.1h0M1011.4 665.6h0M1010.9 666.5h0M1010.5 662.1h0M1009 665.2h0" stroke="#ffb200" stroke-width="4" stroke-linecap="round" fill="none"/><path d="M1019.2 671.8h0M1020.8 671.7h0M1019.5 670.3h0" stroke="#ffb200" stroke-width="4" stroke-linecap="round" fill="none"/><path d="M1016.7 672.5h0M1020.6 676.7h0" stroke="#7aff7d" stroke-width="4" stroke-linecap="round" fill="none"/><path d="M1030.5 665L1034 664L1036.5 666L1035 671L1033 675.5L1030 675L1029 670Z" fill="#ffb200" stroke="#ffb200" stroke-width="1.5" stroke-linejoin="round"/><path d="M1022 678L1026 677L1029 680L1031 677.5L1035 680L1036 687L1039 688L1038.5 695L1036 699L1037 705L1034 708L1032 714L1029 718.5L1025.5 719L1023 715L1019 716L1016 713L1013.5 709L1014 703L1016 695L1014.5 689L1015.5 683L1019 681Z" fill="#ffb200" stroke="#ffb200" stroke-width="1.5" stroke-linejoin="round"/><path d="M1021.2 685V687M1024 678V688M1029.6 683V685M1035.2 705V707" stroke="#ff9800" stroke-width="1.7" fill="none"/><path d="M1014.2 709V711M1015.6 697V710M1017 683V686M1018.4 695V697M1018.4 710V712M1019.8 681V682M1019.8 695V697M1019.8 708V710M1021.2 711V716M1022.6 678V682M1022.6 688V702M1024 703V705M1024 715V717M1025.4 678V681M1026.8 678V700M1028.2 680V690M1028.2 709V718M1029.6 697V700M1029.6 705V709M1031 683V684M1031 692V695M1031 713V716M1032.4 679V682M1032.4 693V706M1033.8 683V686M1033.8 688V692M1033.8 693V699M1033.8 701V709M1036.6 688V694M1036.6 703V706" stroke="#ffcc00" stroke-width="1.7" fill="none"/><path d="M1015.6 710V713M1017 686V715M1018.4 682V683M1018.4 694V695M1018.4 712V713M1019.8 682V684M1019.8 693V695M1019.8 710V711M1022.6 702V708M1022.6 715V716M1024 705V706M1024 714V715M1025.4 681V703M1025.4 717V719M1026.8 700V705M1026.8 716V719M1028.2 690V709M1029.6 700V705M1031 684V685M1031 690V692M1031 695V713M1032.4 682V683M1032.4 691V693M1032.4 706V708M1033.8 686V688M1033.8 699V701M1036.6 694V699" stroke="#ffe600" stroke-width="1.7" fill="none"/><path d="M1018.4 683V685M1018.4 692V694M1018.4 713V714M1019.8 684V686M1019.8 691V693M1019.8 711V712M1022.6 708V715M1024 706V708M1024 713V714M1025.4 703V704M1025.4 716V717M1026.8 705V707M1026.8 714V716M1031 685V686M1031 689V690M1032.4 683V684M1032.4 690V691M1032.4 708V713" stroke="#eeff09" stroke-width="1.7" fill="none"/><path d="M1018.4 685V687M1018.4 691V692M1018.4 714V715M1019.8 686V691M1019.8 712V713M1024 708V713M1025.4 704V705M1025.4 715V716M1026.8 707V714M1031 686V687M1031 688V689M1032.4 684V685" stroke="#d7ff1f" stroke-width="1.7" fill="none"/><path d="M1018.4 687V691M1018.4 715V716M1025.4 705V706M1025.4 714V715M1031 687V688M1032.4 689V690" stroke="#c1ff36" stroke-width="1.7" fill="none"/><path d="M1019.8 713V714M1025.4 706V707M1025.4 713V714M1032.4 685V686" stroke="#aaff4d" stroke-width="1.7" fill="none"/><path d="M1019.8 714V715M1025.4 707V709M1025.4 712V713M1032.4 686V687M1032.4 688V689" stroke="#94ff63" stroke-width="1.7" fill="none"/><path d="M1019.8 715V716M1025.4 709V712M1032.4 687V688" stroke="#7aff7d" stroke-width="1.7" fill="none"/><path d="M1022.5 684.4h0M1022.8 687h0M1030.2 713.6h0M1027 710.1h0M1025.2 701.5h0" stroke="#63ff94" stroke-width="4" stroke-linecap="round" fill="none"/><path d="M1024.8 683h0M1012.4 688h0M1017.6 702.8h0M1020.6 688.7h0M1022.4 701.2h0M1033.9 717.3h0M1026.9 683.6h0M1023.5 689.4h0M1034 678.4h0" stroke="#7aff7d" stroke-width="4" stroke-linecap="round" fill="none"/>
<path d="M513.50 506.5V860.5M804.50 506.5V860.5M1095.50 506.5V860.5M1385.50 506.5V860.5M222.5 742.50H1618.5M222.5 624.50H1618.5" stroke="#b0b0b0" stroke-width="1.11" fill="none"/>
<path d="M222.50 860.5v5.1M280.50 860.5v3.1M338.50 860.5v3.1M397.50 860.5v3.1M455.50 860.5v3.1M513.50 860.5v5.1M571.50 860.5v3.1M629.50 860.5v3.1M687.50 860.5v3.1M746.50 860.5v3.1M804.50 860.5v5.1M862.50 860.5v3.1M920.50 860.5v3.1M978.50 860.5v3.1M1036.50 860.5v3.1M1095.50 860.5v5.1M1153.50 860.5v3.1M1211.50 860.5v3.1M1269.50 860.5v3.1M1327.50 860.5v3.1M1385.50 860.5v5.1M1444.50 860.5v3.1M1502.50 860.5v3.1M1560.50 860.5v3.1M1618.50 860.5v3.1M222.5 860.50h-5.1M222.5 836.50h-3.1M222.5 813.50h-3.1M222.5 789.50h-3.1M222.5 766.50h-3.1M222.5 742.50h-5.1M222.5 718.50h-3.1M222.5 695.50h-3.1M222.5 671.50h-3.1M222.5 648.50h-3.1M222.5 624.50h-5.1M222.5 600.50h-3.1M222.5 577.50h-3.1M222.5 553.50h-3.1M222.5 530.50h-3.1M222.5 506.50h-5.1" stroke="#000" stroke-width="1.11" fill="none"/><rect x="222.5" y="506.5" width="1396.0" height="354.0" fill="none" stroke="#000" stroke-width="1.11"/><text x="222.50" y="893.20" text-anchor="middle" font-size="30.4">0</text><text x="513.33" y="893.20" text-anchor="middle" font-size="30.4">5</text><text x="804.17" y="893.20" text-anchor="middle" font-size="30.4">10</text><text x="1095.00" y="893.20" text-anchor="middle" font-size="30.4">15</text><text x="1385.83" y="893.20" text-anchor="middle" font-size="30.4">20</text><text x="212.60" y="871.60" text-anchor="end" font-size="30.4">0</text><text x="212.60" y="753.60" text-anchor="end" font-size="30.4">1000</text><text x="212.60" y="635.60" text-anchor="end" font-size="30.4">2000</text><text x="212.60" y="517.60" text-anchor="end" font-size="30.4">3000</text>
<rect x="1705.5" y="69.5" width="18.0" height="354.0" fill="url(#gp)" stroke="#000" stroke-width="1.11"/><text x="1733.20" y="434.60" font-size="30.4">0</text><text x="1733.20" y="346.10" font-size="30.4">5</text><text x="1733.20" y="257.60" font-size="30.4">10</text><text x="1733.20" y="169.10" font-size="30.4">15</text><text x="1733.20" y="80.60" font-size="30.4">20</text><path d="M1723.5 423.50h5M1723.5 335.50h5M1723.5 246.50h5M1723.5 158.50h5M1723.5 69.50h5" stroke="#000" stroke-width="1.11" fill="none"/><text transform="translate(1799.30 246.50) rotate(-90)" text-anchor="middle" font-size="30.4">SNR (dB)</text>
<rect x="1705.5" y="506.5" width="18.0" height="354.0" fill="url(#gj)" stroke="#000" stroke-width="1.11"/><text x="1733.20" y="792.93" font-size="30.4">−500</text><text x="1733.20" y="694.60" font-size="30.4">0</text><text x="1733.20" y="596.27" font-size="30.4">500</text><path d="M1723.5 781.50h5M1723.5 683.50h5M1723.5 585.50h5" stroke="#000" stroke-width="1.11" fill="none"/><text transform="translate(1844.50 683.50) rotate(-90)" text-anchor="middle" font-size="30.4">Doppler (m/s)</text>
<text x="920.40" y="61.3" text-anchor="middle" font-size="36.72">2025-03-09 ICEBEAR Summary Plot</text><text transform="translate(89.9 246.80) rotate(-90)" text-anchor="middle" font-size="30.4">RF Distance (km)</text><text transform="translate(89.9 683.80) rotate(-90)" text-anchor="middle" font-size="30.4">RF Distance (km)</text><text x="920.90" y="961" text-anchor="middle" font-size="30.4">Time (hours)</text><text x="1915.6" y="939.8" text-anchor="end" font-size="25">Calibration Date: 2024-09-12</text>
</svg></body></html>
